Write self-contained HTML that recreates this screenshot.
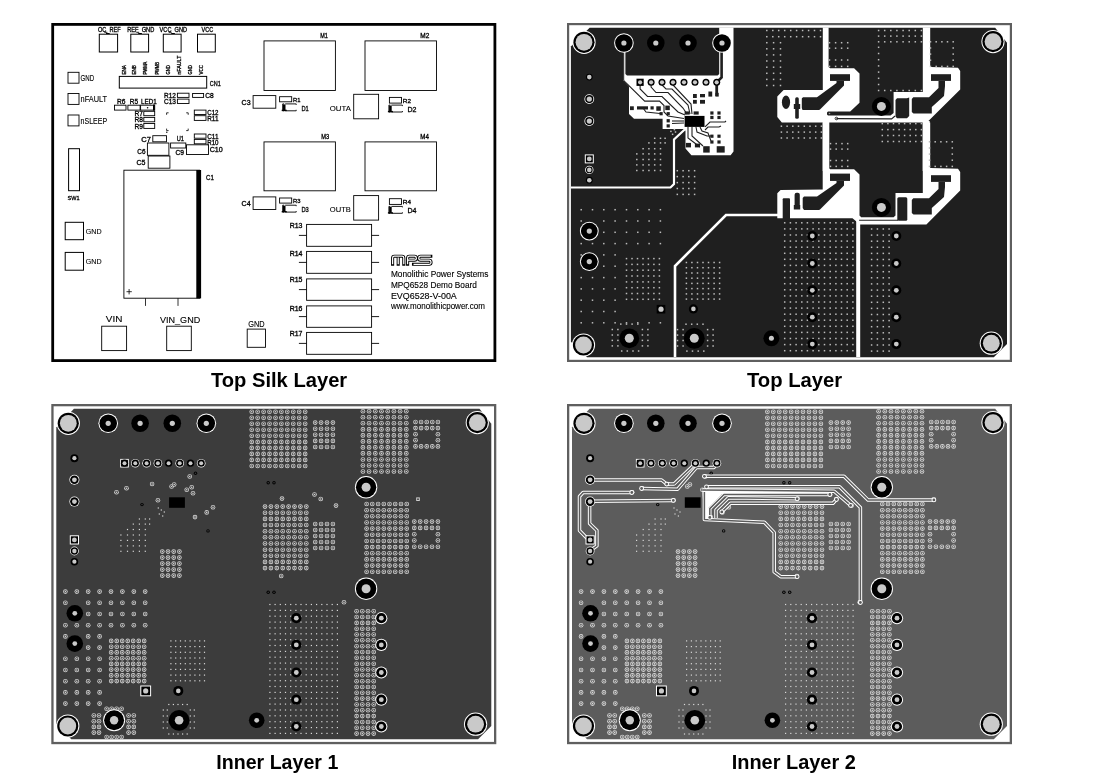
<!DOCTYPE html><html><head><meta charset="utf-8"><style>
html,body{margin:0;padding:0;background:#fff;width:1100px;height:778px;overflow:hidden}
svg{display:block;will-change:transform}
.lab{font-family:"Liberation Sans",sans-serif;font-weight:bold;font-size:20px;fill:#000}
.sk{font-family:"Liberation Sans",sans-serif;fill:#000;stroke:#000;stroke-width:0.2px}
</style></head><body>
<svg width="1100" height="778" viewBox="0 0 1100 778">
<defs>
<g id="rv3c3c3c"><circle r="2.3" fill="#cfcfcf"/><circle r="1.45" fill="#3c3c3c"/><circle r="0.8" fill="#cfcfcf"/></g>
<g id="rv5c5c5c"><circle r="2.3" fill="#d8d8d8"/><circle r="1.45" fill="#5c5c5c"/><circle r="0.8" fill="#d8d8d8"/></g>
<rect id="dv" x="-0.6" y="-0.6" width="1.2" height="1.2" fill="#d8d8d8"/>
<rect id="tv" x="-0.75" y="-0.75" width="1.5" height="1.5" fill="#bcbcbc"/>
</defs>
<text class="lab" x="210.9" y="386.8" textLength="136.3" lengthAdjust="spacingAndGlyphs">Top Silk Layer</text>
<text class="lab" x="746.9" y="386.8" textLength="95.3" lengthAdjust="spacingAndGlyphs">Top Layer</text>
<text class="lab" x="216.3" y="768.7" textLength="122.0" lengthAdjust="spacingAndGlyphs">Inner Layer 1</text>
<text class="lab" x="731.7" y="768.7" textLength="124.1" lengthAdjust="spacingAndGlyphs">Inner Layer 2</text>
<rect x="52.45" y="405.15" width="442.70" height="337.90" fill="#fff" stroke="#5f5f5f" stroke-width="2.3"/><g transform="translate(51.3,404.0)"><polygon points="5.0,23.6 22.6,4.8 428.2,4.8 440.0,19.8 440.0,321.9 426.8,335.2 20,335.2 5.0,319.7" fill="#3c3c3c"/><use href="#rv3c3c3c" x="200.4" y="7.7"/><use href="#rv3c3c3c" x="206.3" y="7.7"/><use href="#rv3c3c3c" x="212.3" y="7.7"/><use href="#rv3c3c3c" x="218.2" y="7.7"/><use href="#rv3c3c3c" x="224.2" y="7.7"/><use href="#rv3c3c3c" x="230.1" y="7.7"/><use href="#rv3c3c3c" x="236.0" y="7.7"/><use href="#rv3c3c3c" x="242.0" y="7.7"/><use href="#rv3c3c3c" x="247.9" y="7.7"/><use href="#rv3c3c3c" x="253.9" y="7.7"/><use href="#rv3c3c3c" x="200.4" y="13.7"/><use href="#rv3c3c3c" x="206.3" y="13.7"/><use href="#rv3c3c3c" x="212.3" y="13.7"/><use href="#rv3c3c3c" x="218.2" y="13.7"/><use href="#rv3c3c3c" x="224.2" y="13.7"/><use href="#rv3c3c3c" x="230.1" y="13.7"/><use href="#rv3c3c3c" x="236.0" y="13.7"/><use href="#rv3c3c3c" x="242.0" y="13.7"/><use href="#rv3c3c3c" x="247.9" y="13.7"/><use href="#rv3c3c3c" x="253.9" y="13.7"/><use href="#rv3c3c3c" x="200.4" y="19.8"/><use href="#rv3c3c3c" x="206.3" y="19.8"/><use href="#rv3c3c3c" x="212.3" y="19.8"/><use href="#rv3c3c3c" x="218.2" y="19.8"/><use href="#rv3c3c3c" x="224.2" y="19.8"/><use href="#rv3c3c3c" x="230.1" y="19.8"/><use href="#rv3c3c3c" x="236.0" y="19.8"/><use href="#rv3c3c3c" x="242.0" y="19.8"/><use href="#rv3c3c3c" x="247.9" y="19.8"/><use href="#rv3c3c3c" x="253.9" y="19.8"/><use href="#rv3c3c3c" x="200.4" y="25.8"/><use href="#rv3c3c3c" x="206.3" y="25.8"/><use href="#rv3c3c3c" x="212.3" y="25.8"/><use href="#rv3c3c3c" x="218.2" y="25.8"/><use href="#rv3c3c3c" x="224.2" y="25.8"/><use href="#rv3c3c3c" x="230.1" y="25.8"/><use href="#rv3c3c3c" x="236.0" y="25.8"/><use href="#rv3c3c3c" x="242.0" y="25.8"/><use href="#rv3c3c3c" x="247.9" y="25.8"/><use href="#rv3c3c3c" x="253.9" y="25.8"/><use href="#rv3c3c3c" x="200.4" y="31.8"/><use href="#rv3c3c3c" x="206.3" y="31.8"/><use href="#rv3c3c3c" x="212.3" y="31.8"/><use href="#rv3c3c3c" x="218.2" y="31.8"/><use href="#rv3c3c3c" x="224.2" y="31.8"/><use href="#rv3c3c3c" x="230.1" y="31.8"/><use href="#rv3c3c3c" x="236.0" y="31.8"/><use href="#rv3c3c3c" x="242.0" y="31.8"/><use href="#rv3c3c3c" x="247.9" y="31.8"/><use href="#rv3c3c3c" x="253.9" y="31.8"/><use href="#rv3c3c3c" x="200.4" y="37.9"/><use href="#rv3c3c3c" x="206.3" y="37.9"/><use href="#rv3c3c3c" x="212.3" y="37.9"/><use href="#rv3c3c3c" x="218.2" y="37.9"/><use href="#rv3c3c3c" x="224.2" y="37.9"/><use href="#rv3c3c3c" x="230.1" y="37.9"/><use href="#rv3c3c3c" x="236.0" y="37.9"/><use href="#rv3c3c3c" x="242.0" y="37.9"/><use href="#rv3c3c3c" x="247.9" y="37.9"/><use href="#rv3c3c3c" x="253.9" y="37.9"/><use href="#rv3c3c3c" x="200.4" y="43.9"/><use href="#rv3c3c3c" x="206.3" y="43.9"/><use href="#rv3c3c3c" x="212.3" y="43.9"/><use href="#rv3c3c3c" x="218.2" y="43.9"/><use href="#rv3c3c3c" x="224.2" y="43.9"/><use href="#rv3c3c3c" x="230.1" y="43.9"/><use href="#rv3c3c3c" x="236.0" y="43.9"/><use href="#rv3c3c3c" x="242.0" y="43.9"/><use href="#rv3c3c3c" x="247.9" y="43.9"/><use href="#rv3c3c3c" x="253.9" y="43.9"/><use href="#rv3c3c3c" x="200.4" y="49.9"/><use href="#rv3c3c3c" x="206.3" y="49.9"/><use href="#rv3c3c3c" x="212.3" y="49.9"/><use href="#rv3c3c3c" x="218.2" y="49.9"/><use href="#rv3c3c3c" x="224.2" y="49.9"/><use href="#rv3c3c3c" x="230.1" y="49.9"/><use href="#rv3c3c3c" x="236.0" y="49.9"/><use href="#rv3c3c3c" x="242.0" y="49.9"/><use href="#rv3c3c3c" x="247.9" y="49.9"/><use href="#rv3c3c3c" x="253.9" y="49.9"/><use href="#rv3c3c3c" x="200.4" y="55.9"/><use href="#rv3c3c3c" x="206.3" y="55.9"/><use href="#rv3c3c3c" x="212.3" y="55.9"/><use href="#rv3c3c3c" x="218.2" y="55.9"/><use href="#rv3c3c3c" x="224.2" y="55.9"/><use href="#rv3c3c3c" x="230.1" y="55.9"/><use href="#rv3c3c3c" x="236.0" y="55.9"/><use href="#rv3c3c3c" x="242.0" y="55.9"/><use href="#rv3c3c3c" x="247.9" y="55.9"/><use href="#rv3c3c3c" x="253.9" y="55.9"/><use href="#rv3c3c3c" x="200.4" y="62.0"/><use href="#rv3c3c3c" x="206.3" y="62.0"/><use href="#rv3c3c3c" x="212.3" y="62.0"/><use href="#rv3c3c3c" x="218.2" y="62.0"/><use href="#rv3c3c3c" x="224.2" y="62.0"/><use href="#rv3c3c3c" x="230.1" y="62.0"/><use href="#rv3c3c3c" x="236.0" y="62.0"/><use href="#rv3c3c3c" x="242.0" y="62.0"/><use href="#rv3c3c3c" x="247.9" y="62.0"/><use href="#rv3c3c3c" x="253.9" y="62.0"/><use href="#rv3c3c3c" x="263.9" y="18.6"/><use href="#rv3c3c3c" x="269.8" y="18.6"/><use href="#rv3c3c3c" x="275.7" y="18.6"/><use href="#rv3c3c3c" x="281.6" y="18.6"/><use href="#rv3c3c3c" x="263.9" y="24.7"/><use href="#rv3c3c3c" x="269.8" y="24.7"/><use href="#rv3c3c3c" x="275.7" y="24.7"/><use href="#rv3c3c3c" x="281.6" y="24.7"/><use href="#rv3c3c3c" x="263.9" y="30.8"/><use href="#rv3c3c3c" x="269.8" y="30.8"/><use href="#rv3c3c3c" x="275.7" y="30.8"/><use href="#rv3c3c3c" x="281.6" y="30.8"/><use href="#rv3c3c3c" x="263.9" y="36.9"/><use href="#rv3c3c3c" x="269.8" y="36.9"/><use href="#rv3c3c3c" x="275.7" y="36.9"/><use href="#rv3c3c3c" x="281.6" y="36.9"/><use href="#rv3c3c3c" x="263.9" y="43.0"/><use href="#rv3c3c3c" x="269.8" y="43.0"/><use href="#rv3c3c3c" x="275.7" y="43.0"/><use href="#rv3c3c3c" x="281.6" y="43.0"/><use href="#rv3c3c3c" x="311.6" y="7.3"/><use href="#rv3c3c3c" x="317.8" y="7.3"/><use href="#rv3c3c3c" x="324.0" y="7.3"/><use href="#rv3c3c3c" x="330.2" y="7.3"/><use href="#rv3c3c3c" x="336.4" y="7.3"/><use href="#rv3c3c3c" x="342.6" y="7.3"/><use href="#rv3c3c3c" x="348.8" y="7.3"/><use href="#rv3c3c3c" x="355.0" y="7.3"/><use href="#rv3c3c3c" x="311.6" y="13.3"/><use href="#rv3c3c3c" x="317.8" y="13.3"/><use href="#rv3c3c3c" x="324.0" y="13.3"/><use href="#rv3c3c3c" x="330.2" y="13.3"/><use href="#rv3c3c3c" x="336.4" y="13.3"/><use href="#rv3c3c3c" x="342.6" y="13.3"/><use href="#rv3c3c3c" x="348.8" y="13.3"/><use href="#rv3c3c3c" x="355.0" y="13.3"/><use href="#rv3c3c3c" x="311.6" y="19.3"/><use href="#rv3c3c3c" x="317.8" y="19.3"/><use href="#rv3c3c3c" x="324.0" y="19.3"/><use href="#rv3c3c3c" x="330.2" y="19.3"/><use href="#rv3c3c3c" x="336.4" y="19.3"/><use href="#rv3c3c3c" x="342.6" y="19.3"/><use href="#rv3c3c3c" x="348.8" y="19.3"/><use href="#rv3c3c3c" x="355.0" y="19.3"/><use href="#rv3c3c3c" x="311.6" y="25.4"/><use href="#rv3c3c3c" x="317.8" y="25.4"/><use href="#rv3c3c3c" x="324.0" y="25.4"/><use href="#rv3c3c3c" x="330.2" y="25.4"/><use href="#rv3c3c3c" x="336.4" y="25.4"/><use href="#rv3c3c3c" x="342.6" y="25.4"/><use href="#rv3c3c3c" x="348.8" y="25.4"/><use href="#rv3c3c3c" x="355.0" y="25.4"/><use href="#rv3c3c3c" x="311.6" y="31.4"/><use href="#rv3c3c3c" x="317.8" y="31.4"/><use href="#rv3c3c3c" x="324.0" y="31.4"/><use href="#rv3c3c3c" x="330.2" y="31.4"/><use href="#rv3c3c3c" x="336.4" y="31.4"/><use href="#rv3c3c3c" x="342.6" y="31.4"/><use href="#rv3c3c3c" x="348.8" y="31.4"/><use href="#rv3c3c3c" x="355.0" y="31.4"/><use href="#rv3c3c3c" x="311.6" y="37.4"/><use href="#rv3c3c3c" x="317.8" y="37.4"/><use href="#rv3c3c3c" x="324.0" y="37.4"/><use href="#rv3c3c3c" x="330.2" y="37.4"/><use href="#rv3c3c3c" x="336.4" y="37.4"/><use href="#rv3c3c3c" x="342.6" y="37.4"/><use href="#rv3c3c3c" x="348.8" y="37.4"/><use href="#rv3c3c3c" x="355.0" y="37.4"/><use href="#rv3c3c3c" x="311.6" y="43.4"/><use href="#rv3c3c3c" x="317.8" y="43.4"/><use href="#rv3c3c3c" x="324.0" y="43.4"/><use href="#rv3c3c3c" x="330.2" y="43.4"/><use href="#rv3c3c3c" x="336.4" y="43.4"/><use href="#rv3c3c3c" x="342.6" y="43.4"/><use href="#rv3c3c3c" x="348.8" y="43.4"/><use href="#rv3c3c3c" x="355.0" y="43.4"/><use href="#rv3c3c3c" x="311.6" y="49.4"/><use href="#rv3c3c3c" x="317.8" y="49.4"/><use href="#rv3c3c3c" x="324.0" y="49.4"/><use href="#rv3c3c3c" x="330.2" y="49.4"/><use href="#rv3c3c3c" x="336.4" y="49.4"/><use href="#rv3c3c3c" x="342.6" y="49.4"/><use href="#rv3c3c3c" x="348.8" y="49.4"/><use href="#rv3c3c3c" x="355.0" y="49.4"/><use href="#rv3c3c3c" x="311.6" y="55.5"/><use href="#rv3c3c3c" x="317.8" y="55.5"/><use href="#rv3c3c3c" x="324.0" y="55.5"/><use href="#rv3c3c3c" x="330.2" y="55.5"/><use href="#rv3c3c3c" x="336.4" y="55.5"/><use href="#rv3c3c3c" x="342.6" y="55.5"/><use href="#rv3c3c3c" x="348.8" y="55.5"/><use href="#rv3c3c3c" x="355.0" y="55.5"/><use href="#rv3c3c3c" x="311.6" y="61.5"/><use href="#rv3c3c3c" x="317.8" y="61.5"/><use href="#rv3c3c3c" x="324.0" y="61.5"/><use href="#rv3c3c3c" x="330.2" y="61.5"/><use href="#rv3c3c3c" x="336.4" y="61.5"/><use href="#rv3c3c3c" x="342.6" y="61.5"/><use href="#rv3c3c3c" x="348.8" y="61.5"/><use href="#rv3c3c3c" x="355.0" y="61.5"/><use href="#rv3c3c3c" x="311.6" y="67.5"/><use href="#rv3c3c3c" x="317.8" y="67.5"/><use href="#rv3c3c3c" x="324.0" y="67.5"/><use href="#rv3c3c3c" x="330.2" y="67.5"/><use href="#rv3c3c3c" x="336.4" y="67.5"/><use href="#rv3c3c3c" x="342.6" y="67.5"/><use href="#rv3c3c3c" x="348.8" y="67.5"/><use href="#rv3c3c3c" x="355.0" y="67.5"/><use href="#rv3c3c3c" x="364.2" y="18.0"/><use href="#rv3c3c3c" x="369.8" y="18.0"/><use href="#rv3c3c3c" x="375.4" y="18.0"/><use href="#rv3c3c3c" x="381.0" y="18.0"/><use href="#rv3c3c3c" x="386.6" y="18.0"/><use href="#rv3c3c3c" x="364.2" y="24.1"/><use href="#rv3c3c3c" x="369.8" y="24.1"/><use href="#rv3c3c3c" x="375.4" y="24.1"/><use href="#rv3c3c3c" x="381.0" y="24.1"/><use href="#rv3c3c3c" x="386.6" y="24.1"/><use href="#rv3c3c3c" x="364.2" y="30.2"/><use href="#rv3c3c3c" x="386.6" y="30.2"/><use href="#rv3c3c3c" x="364.2" y="36.3"/><use href="#rv3c3c3c" x="386.6" y="36.3"/><use href="#rv3c3c3c" x="364.2" y="42.4"/><use href="#rv3c3c3c" x="369.8" y="42.4"/><use href="#rv3c3c3c" x="375.4" y="42.4"/><use href="#rv3c3c3c" x="381.0" y="42.4"/><use href="#rv3c3c3c" x="386.6" y="42.4"/><use href="#rv3c3c3c" x="213.7" y="102.6"/><use href="#rv3c3c3c" x="219.6" y="102.6"/><use href="#rv3c3c3c" x="225.5" y="102.6"/><use href="#rv3c3c3c" x="231.4" y="102.6"/><use href="#rv3c3c3c" x="237.3" y="102.6"/><use href="#rv3c3c3c" x="243.2" y="102.6"/><use href="#rv3c3c3c" x="249.1" y="102.6"/><use href="#rv3c3c3c" x="255.0" y="102.6"/><use href="#rv3c3c3c" x="213.7" y="108.8"/><use href="#rv3c3c3c" x="219.6" y="108.8"/><use href="#rv3c3c3c" x="225.5" y="108.8"/><use href="#rv3c3c3c" x="231.4" y="108.8"/><use href="#rv3c3c3c" x="237.3" y="108.8"/><use href="#rv3c3c3c" x="243.2" y="108.8"/><use href="#rv3c3c3c" x="249.1" y="108.8"/><use href="#rv3c3c3c" x="255.0" y="108.8"/><use href="#rv3c3c3c" x="213.7" y="114.9"/><use href="#rv3c3c3c" x="219.6" y="114.9"/><use href="#rv3c3c3c" x="225.5" y="114.9"/><use href="#rv3c3c3c" x="231.4" y="114.9"/><use href="#rv3c3c3c" x="237.3" y="114.9"/><use href="#rv3c3c3c" x="243.2" y="114.9"/><use href="#rv3c3c3c" x="249.1" y="114.9"/><use href="#rv3c3c3c" x="255.0" y="114.9"/><use href="#rv3c3c3c" x="213.7" y="121.0"/><use href="#rv3c3c3c" x="219.6" y="121.0"/><use href="#rv3c3c3c" x="225.5" y="121.0"/><use href="#rv3c3c3c" x="231.4" y="121.0"/><use href="#rv3c3c3c" x="237.3" y="121.0"/><use href="#rv3c3c3c" x="243.2" y="121.0"/><use href="#rv3c3c3c" x="249.1" y="121.0"/><use href="#rv3c3c3c" x="255.0" y="121.0"/><use href="#rv3c3c3c" x="213.7" y="127.2"/><use href="#rv3c3c3c" x="219.6" y="127.2"/><use href="#rv3c3c3c" x="225.5" y="127.2"/><use href="#rv3c3c3c" x="231.4" y="127.2"/><use href="#rv3c3c3c" x="237.3" y="127.2"/><use href="#rv3c3c3c" x="243.2" y="127.2"/><use href="#rv3c3c3c" x="249.1" y="127.2"/><use href="#rv3c3c3c" x="255.0" y="127.2"/><use href="#rv3c3c3c" x="213.7" y="133.3"/><use href="#rv3c3c3c" x="219.6" y="133.3"/><use href="#rv3c3c3c" x="225.5" y="133.3"/><use href="#rv3c3c3c" x="231.4" y="133.3"/><use href="#rv3c3c3c" x="237.3" y="133.3"/><use href="#rv3c3c3c" x="243.2" y="133.3"/><use href="#rv3c3c3c" x="249.1" y="133.3"/><use href="#rv3c3c3c" x="255.0" y="133.3"/><use href="#rv3c3c3c" x="213.7" y="139.5"/><use href="#rv3c3c3c" x="219.6" y="139.5"/><use href="#rv3c3c3c" x="225.5" y="139.5"/><use href="#rv3c3c3c" x="231.4" y="139.5"/><use href="#rv3c3c3c" x="237.3" y="139.5"/><use href="#rv3c3c3c" x="243.2" y="139.5"/><use href="#rv3c3c3c" x="249.1" y="139.5"/><use href="#rv3c3c3c" x="255.0" y="139.5"/><use href="#rv3c3c3c" x="213.7" y="145.7"/><use href="#rv3c3c3c" x="219.6" y="145.7"/><use href="#rv3c3c3c" x="225.5" y="145.7"/><use href="#rv3c3c3c" x="231.4" y="145.7"/><use href="#rv3c3c3c" x="237.3" y="145.7"/><use href="#rv3c3c3c" x="243.2" y="145.7"/><use href="#rv3c3c3c" x="249.1" y="145.7"/><use href="#rv3c3c3c" x="255.0" y="145.7"/><use href="#rv3c3c3c" x="213.7" y="151.8"/><use href="#rv3c3c3c" x="219.6" y="151.8"/><use href="#rv3c3c3c" x="225.5" y="151.8"/><use href="#rv3c3c3c" x="231.4" y="151.8"/><use href="#rv3c3c3c" x="237.3" y="151.8"/><use href="#rv3c3c3c" x="243.2" y="151.8"/><use href="#rv3c3c3c" x="249.1" y="151.8"/><use href="#rv3c3c3c" x="255.0" y="151.8"/><use href="#rv3c3c3c" x="213.7" y="157.9"/><use href="#rv3c3c3c" x="219.6" y="157.9"/><use href="#rv3c3c3c" x="225.5" y="157.9"/><use href="#rv3c3c3c" x="231.4" y="157.9"/><use href="#rv3c3c3c" x="237.3" y="157.9"/><use href="#rv3c3c3c" x="243.2" y="157.9"/><use href="#rv3c3c3c" x="249.1" y="157.9"/><use href="#rv3c3c3c" x="255.0" y="157.9"/><use href="#rv3c3c3c" x="213.7" y="164.1"/><use href="#rv3c3c3c" x="219.6" y="164.1"/><use href="#rv3c3c3c" x="225.5" y="164.1"/><use href="#rv3c3c3c" x="231.4" y="164.1"/><use href="#rv3c3c3c" x="237.3" y="164.1"/><use href="#rv3c3c3c" x="243.2" y="164.1"/><use href="#rv3c3c3c" x="249.1" y="164.1"/><use href="#rv3c3c3c" x="255.0" y="164.1"/><use href="#rv3c3c3c" x="263.9" y="120.0"/><use href="#rv3c3c3c" x="269.8" y="120.0"/><use href="#rv3c3c3c" x="275.7" y="120.0"/><use href="#rv3c3c3c" x="281.6" y="120.0"/><use href="#rv3c3c3c" x="263.9" y="126.0"/><use href="#rv3c3c3c" x="269.8" y="126.0"/><use href="#rv3c3c3c" x="275.7" y="126.0"/><use href="#rv3c3c3c" x="281.6" y="126.0"/><use href="#rv3c3c3c" x="263.9" y="132.0"/><use href="#rv3c3c3c" x="269.8" y="132.0"/><use href="#rv3c3c3c" x="275.7" y="132.0"/><use href="#rv3c3c3c" x="281.6" y="132.0"/><use href="#rv3c3c3c" x="263.9" y="138.0"/><use href="#rv3c3c3c" x="269.8" y="138.0"/><use href="#rv3c3c3c" x="275.7" y="138.0"/><use href="#rv3c3c3c" x="281.6" y="138.0"/><use href="#rv3c3c3c" x="263.9" y="144.0"/><use href="#rv3c3c3c" x="269.8" y="144.0"/><use href="#rv3c3c3c" x="275.7" y="144.0"/><use href="#rv3c3c3c" x="281.6" y="144.0"/><use href="#rv3c3c3c" x="315.3" y="100.0"/><use href="#rv3c3c3c" x="321.0" y="100.0"/><use href="#rv3c3c3c" x="326.8" y="100.0"/><use href="#rv3c3c3c" x="332.5" y="100.0"/><use href="#rv3c3c3c" x="338.2" y="100.0"/><use href="#rv3c3c3c" x="343.9" y="100.0"/><use href="#rv3c3c3c" x="349.7" y="100.0"/><use href="#rv3c3c3c" x="355.4" y="100.0"/><use href="#rv3c3c3c" x="315.3" y="106.2"/><use href="#rv3c3c3c" x="321.0" y="106.2"/><use href="#rv3c3c3c" x="326.8" y="106.2"/><use href="#rv3c3c3c" x="332.5" y="106.2"/><use href="#rv3c3c3c" x="338.2" y="106.2"/><use href="#rv3c3c3c" x="343.9" y="106.2"/><use href="#rv3c3c3c" x="349.7" y="106.2"/><use href="#rv3c3c3c" x="355.4" y="106.2"/><use href="#rv3c3c3c" x="315.3" y="112.3"/><use href="#rv3c3c3c" x="321.0" y="112.3"/><use href="#rv3c3c3c" x="326.8" y="112.3"/><use href="#rv3c3c3c" x="332.5" y="112.3"/><use href="#rv3c3c3c" x="338.2" y="112.3"/><use href="#rv3c3c3c" x="343.9" y="112.3"/><use href="#rv3c3c3c" x="349.7" y="112.3"/><use href="#rv3c3c3c" x="355.4" y="112.3"/><use href="#rv3c3c3c" x="315.3" y="118.5"/><use href="#rv3c3c3c" x="321.0" y="118.5"/><use href="#rv3c3c3c" x="326.8" y="118.5"/><use href="#rv3c3c3c" x="332.5" y="118.5"/><use href="#rv3c3c3c" x="338.2" y="118.5"/><use href="#rv3c3c3c" x="343.9" y="118.5"/><use href="#rv3c3c3c" x="349.7" y="118.5"/><use href="#rv3c3c3c" x="355.4" y="118.5"/><use href="#rv3c3c3c" x="315.3" y="124.6"/><use href="#rv3c3c3c" x="321.0" y="124.6"/><use href="#rv3c3c3c" x="326.8" y="124.6"/><use href="#rv3c3c3c" x="332.5" y="124.6"/><use href="#rv3c3c3c" x="338.2" y="124.6"/><use href="#rv3c3c3c" x="343.9" y="124.6"/><use href="#rv3c3c3c" x="349.7" y="124.6"/><use href="#rv3c3c3c" x="355.4" y="124.6"/><use href="#rv3c3c3c" x="315.3" y="130.8"/><use href="#rv3c3c3c" x="321.0" y="130.8"/><use href="#rv3c3c3c" x="326.8" y="130.8"/><use href="#rv3c3c3c" x="332.5" y="130.8"/><use href="#rv3c3c3c" x="338.2" y="130.8"/><use href="#rv3c3c3c" x="343.9" y="130.8"/><use href="#rv3c3c3c" x="349.7" y="130.8"/><use href="#rv3c3c3c" x="355.4" y="130.8"/><use href="#rv3c3c3c" x="315.3" y="137.0"/><use href="#rv3c3c3c" x="321.0" y="137.0"/><use href="#rv3c3c3c" x="326.8" y="137.0"/><use href="#rv3c3c3c" x="332.5" y="137.0"/><use href="#rv3c3c3c" x="338.2" y="137.0"/><use href="#rv3c3c3c" x="343.9" y="137.0"/><use href="#rv3c3c3c" x="349.7" y="137.0"/><use href="#rv3c3c3c" x="355.4" y="137.0"/><use href="#rv3c3c3c" x="315.3" y="143.1"/><use href="#rv3c3c3c" x="321.0" y="143.1"/><use href="#rv3c3c3c" x="326.8" y="143.1"/><use href="#rv3c3c3c" x="332.5" y="143.1"/><use href="#rv3c3c3c" x="338.2" y="143.1"/><use href="#rv3c3c3c" x="343.9" y="143.1"/><use href="#rv3c3c3c" x="349.7" y="143.1"/><use href="#rv3c3c3c" x="355.4" y="143.1"/><use href="#rv3c3c3c" x="315.3" y="149.3"/><use href="#rv3c3c3c" x="321.0" y="149.3"/><use href="#rv3c3c3c" x="326.8" y="149.3"/><use href="#rv3c3c3c" x="332.5" y="149.3"/><use href="#rv3c3c3c" x="338.2" y="149.3"/><use href="#rv3c3c3c" x="343.9" y="149.3"/><use href="#rv3c3c3c" x="349.7" y="149.3"/><use href="#rv3c3c3c" x="355.4" y="149.3"/><use href="#rv3c3c3c" x="315.3" y="155.4"/><use href="#rv3c3c3c" x="321.0" y="155.4"/><use href="#rv3c3c3c" x="326.8" y="155.4"/><use href="#rv3c3c3c" x="332.5" y="155.4"/><use href="#rv3c3c3c" x="338.2" y="155.4"/><use href="#rv3c3c3c" x="343.9" y="155.4"/><use href="#rv3c3c3c" x="349.7" y="155.4"/><use href="#rv3c3c3c" x="355.4" y="155.4"/><use href="#rv3c3c3c" x="315.3" y="161.6"/><use href="#rv3c3c3c" x="321.0" y="161.6"/><use href="#rv3c3c3c" x="326.8" y="161.6"/><use href="#rv3c3c3c" x="332.5" y="161.6"/><use href="#rv3c3c3c" x="338.2" y="161.6"/><use href="#rv3c3c3c" x="343.9" y="161.6"/><use href="#rv3c3c3c" x="349.7" y="161.6"/><use href="#rv3c3c3c" x="355.4" y="161.6"/><use href="#rv3c3c3c" x="315.3" y="167.8"/><use href="#rv3c3c3c" x="321.0" y="167.8"/><use href="#rv3c3c3c" x="326.8" y="167.8"/><use href="#rv3c3c3c" x="332.5" y="167.8"/><use href="#rv3c3c3c" x="338.2" y="167.8"/><use href="#rv3c3c3c" x="343.9" y="167.8"/><use href="#rv3c3c3c" x="349.7" y="167.8"/><use href="#rv3c3c3c" x="355.4" y="167.8"/><use href="#rv3c3c3c" x="363.0" y="117.6"/><use href="#rv3c3c3c" x="368.9" y="117.6"/><use href="#rv3c3c3c" x="374.8" y="117.6"/><use href="#rv3c3c3c" x="380.7" y="117.6"/><use href="#rv3c3c3c" x="386.6" y="117.6"/><use href="#rv3c3c3c" x="363.0" y="123.9"/><use href="#rv3c3c3c" x="368.9" y="123.9"/><use href="#rv3c3c3c" x="374.8" y="123.9"/><use href="#rv3c3c3c" x="380.7" y="123.9"/><use href="#rv3c3c3c" x="386.6" y="123.9"/><use href="#rv3c3c3c" x="363.0" y="130.2"/><use href="#rv3c3c3c" x="386.6" y="130.2"/><use href="#rv3c3c3c" x="363.0" y="136.5"/><use href="#rv3c3c3c" x="386.6" y="136.5"/><use href="#rv3c3c3c" x="363.0" y="142.8"/><use href="#rv3c3c3c" x="368.9" y="142.8"/><use href="#rv3c3c3c" x="374.8" y="142.8"/><use href="#rv3c3c3c" x="380.7" y="142.8"/><use href="#rv3c3c3c" x="386.6" y="142.8"/><use href="#rv3c3c3c" x="14.1" y="187.6"/><use href="#rv3c3c3c" x="25.5" y="187.6"/><use href="#rv3c3c3c" x="36.9" y="187.6"/><use href="#rv3c3c3c" x="48.3" y="187.6"/><use href="#rv3c3c3c" x="59.7" y="187.6"/><use href="#rv3c3c3c" x="71.1" y="187.6"/><use href="#rv3c3c3c" x="82.5" y="187.6"/><use href="#rv3c3c3c" x="93.9" y="187.6"/><use href="#rv3c3c3c" x="14.1" y="198.8"/><use href="#rv3c3c3c" x="36.9" y="198.8"/><use href="#rv3c3c3c" x="48.3" y="198.8"/><use href="#rv3c3c3c" x="59.7" y="198.8"/><use href="#rv3c3c3c" x="71.1" y="198.8"/><use href="#rv3c3c3c" x="82.5" y="198.8"/><use href="#rv3c3c3c" x="93.9" y="198.8"/><use href="#rv3c3c3c" x="36.9" y="210.0"/><use href="#rv3c3c3c" x="48.3" y="210.0"/><use href="#rv3c3c3c" x="59.7" y="210.0"/><use href="#rv3c3c3c" x="71.1" y="210.0"/><use href="#rv3c3c3c" x="82.5" y="210.0"/><use href="#rv3c3c3c" x="93.9" y="210.0"/><use href="#rv3c3c3c" x="14.1" y="221.2"/><use href="#rv3c3c3c" x="25.5" y="221.2"/><use href="#rv3c3c3c" x="36.9" y="221.2"/><use href="#rv3c3c3c" x="48.3" y="221.2"/><use href="#rv3c3c3c" x="59.7" y="221.2"/><use href="#rv3c3c3c" x="71.1" y="221.2"/><use href="#rv3c3c3c" x="82.5" y="221.2"/><use href="#rv3c3c3c" x="93.9" y="221.2"/><use href="#rv3c3c3c" x="14.1" y="232.4"/><use href="#rv3c3c3c" x="36.9" y="232.4"/><use href="#rv3c3c3c" x="48.3" y="232.4"/><use href="#rv3c3c3c" x="36.9" y="243.6"/><use href="#rv3c3c3c" x="48.3" y="243.6"/><use href="#rv3c3c3c" x="14.1" y="254.8"/><use href="#rv3c3c3c" x="25.5" y="254.8"/><use href="#rv3c3c3c" x="36.9" y="254.8"/><use href="#rv3c3c3c" x="48.3" y="254.8"/><use href="#rv3c3c3c" x="14.1" y="266.0"/><use href="#rv3c3c3c" x="25.5" y="266.0"/><use href="#rv3c3c3c" x="36.9" y="266.0"/><use href="#rv3c3c3c" x="48.3" y="266.0"/><use href="#rv3c3c3c" x="14.1" y="277.2"/><use href="#rv3c3c3c" x="25.5" y="277.2"/><use href="#rv3c3c3c" x="36.9" y="277.2"/><use href="#rv3c3c3c" x="48.3" y="277.2"/><use href="#rv3c3c3c" x="14.1" y="288.4"/><use href="#rv3c3c3c" x="25.5" y="288.4"/><use href="#rv3c3c3c" x="36.9" y="288.4"/><use href="#rv3c3c3c" x="48.3" y="288.4"/><use href="#rv3c3c3c" x="14.1" y="299.6"/><use href="#rv3c3c3c" x="25.5" y="299.6"/><use href="#rv3c3c3c" x="36.9" y="299.6"/><use href="#rv3c3c3c" x="48.3" y="299.6"/><use href="#rv3c3c3c" x="59.9" y="236.9"/><use href="#rv3c3c3c" x="65.4" y="236.9"/><use href="#rv3c3c3c" x="70.9" y="236.9"/><use href="#rv3c3c3c" x="76.4" y="236.9"/><use href="#rv3c3c3c" x="81.9" y="236.9"/><use href="#rv3c3c3c" x="87.4" y="236.9"/><use href="#rv3c3c3c" x="92.9" y="236.9"/><use href="#rv3c3c3c" x="59.9" y="242.7"/><use href="#rv3c3c3c" x="65.4" y="242.7"/><use href="#rv3c3c3c" x="70.9" y="242.7"/><use href="#rv3c3c3c" x="76.4" y="242.7"/><use href="#rv3c3c3c" x="81.9" y="242.7"/><use href="#rv3c3c3c" x="87.4" y="242.7"/><use href="#rv3c3c3c" x="92.9" y="242.7"/><use href="#rv3c3c3c" x="59.9" y="248.4"/><use href="#rv3c3c3c" x="65.4" y="248.4"/><use href="#rv3c3c3c" x="70.9" y="248.4"/><use href="#rv3c3c3c" x="76.4" y="248.4"/><use href="#rv3c3c3c" x="81.9" y="248.4"/><use href="#rv3c3c3c" x="87.4" y="248.4"/><use href="#rv3c3c3c" x="92.9" y="248.4"/><use href="#rv3c3c3c" x="59.9" y="254.2"/><use href="#rv3c3c3c" x="65.4" y="254.2"/><use href="#rv3c3c3c" x="70.9" y="254.2"/><use href="#rv3c3c3c" x="76.4" y="254.2"/><use href="#rv3c3c3c" x="81.9" y="254.2"/><use href="#rv3c3c3c" x="87.4" y="254.2"/><use href="#rv3c3c3c" x="92.9" y="254.2"/><use href="#rv3c3c3c" x="59.9" y="259.9"/><use href="#rv3c3c3c" x="65.4" y="259.9"/><use href="#rv3c3c3c" x="70.9" y="259.9"/><use href="#rv3c3c3c" x="76.4" y="259.9"/><use href="#rv3c3c3c" x="81.9" y="259.9"/><use href="#rv3c3c3c" x="87.4" y="259.9"/><use href="#rv3c3c3c" x="92.9" y="259.9"/><use href="#rv3c3c3c" x="59.9" y="265.6"/><use href="#rv3c3c3c" x="65.4" y="265.6"/><use href="#rv3c3c3c" x="70.9" y="265.6"/><use href="#rv3c3c3c" x="76.4" y="265.6"/><use href="#rv3c3c3c" x="81.9" y="265.6"/><use href="#rv3c3c3c" x="87.4" y="265.6"/><use href="#rv3c3c3c" x="92.9" y="265.6"/><use href="#rv3c3c3c" x="59.9" y="271.4"/><use href="#rv3c3c3c" x="65.4" y="271.4"/><use href="#rv3c3c3c" x="70.9" y="271.4"/><use href="#rv3c3c3c" x="76.4" y="271.4"/><use href="#rv3c3c3c" x="81.9" y="271.4"/><use href="#rv3c3c3c" x="87.4" y="271.4"/><use href="#rv3c3c3c" x="92.9" y="271.4"/><use href="#rv3c3c3c" x="59.9" y="277.1"/><use href="#rv3c3c3c" x="65.4" y="277.1"/><use href="#rv3c3c3c" x="70.9" y="277.1"/><use href="#rv3c3c3c" x="76.4" y="277.1"/><use href="#rv3c3c3c" x="81.9" y="277.1"/><use href="#rv3c3c3c" x="87.4" y="277.1"/><use href="#rv3c3c3c" x="92.9" y="277.1"/><use href="#rv3c3c3c" x="111.0" y="147.6"/><use href="#rv3c3c3c" x="116.7" y="147.6"/><use href="#rv3c3c3c" x="122.4" y="147.6"/><use href="#rv3c3c3c" x="128.1" y="147.6"/><use href="#rv3c3c3c" x="111.0" y="153.6"/><use href="#rv3c3c3c" x="116.7" y="153.6"/><use href="#rv3c3c3c" x="122.4" y="153.6"/><use href="#rv3c3c3c" x="128.1" y="153.6"/><use href="#rv3c3c3c" x="111.0" y="159.6"/><use href="#rv3c3c3c" x="116.7" y="159.6"/><use href="#rv3c3c3c" x="122.4" y="159.6"/><use href="#rv3c3c3c" x="128.1" y="159.6"/><use href="#rv3c3c3c" x="111.0" y="165.6"/><use href="#rv3c3c3c" x="116.7" y="165.6"/><use href="#rv3c3c3c" x="122.4" y="165.6"/><use href="#rv3c3c3c" x="128.1" y="165.6"/><use href="#rv3c3c3c" x="111.0" y="171.6"/><use href="#rv3c3c3c" x="116.7" y="171.6"/><use href="#rv3c3c3c" x="122.4" y="171.6"/><use href="#rv3c3c3c" x="128.1" y="171.6"/><use href="#rv3c3c3c" x="55.3" y="304.7"/><use href="#rv3c3c3c" x="60.3" y="304.7"/><use href="#rv3c3c3c" x="65.3" y="304.7"/><use href="#rv3c3c3c" x="70.3" y="304.7"/><use href="#rv3c3c3c" x="55.3" y="333.0"/><use href="#rv3c3c3c" x="60.3" y="333.0"/><use href="#rv3c3c3c" x="65.3" y="333.0"/><use href="#rv3c3c3c" x="70.3" y="333.0"/><use href="#rv3c3c3c" x="42.5" y="311.5"/><use href="#rv3c3c3c" x="47.7" y="311.5"/><use href="#rv3c3c3c" x="42.5" y="317.2"/><use href="#rv3c3c3c" x="47.7" y="317.2"/><use href="#rv3c3c3c" x="42.5" y="322.9"/><use href="#rv3c3c3c" x="47.7" y="322.9"/><use href="#rv3c3c3c" x="42.5" y="328.6"/><use href="#rv3c3c3c" x="47.7" y="328.6"/><use href="#rv3c3c3c" x="77.3" y="311.5"/><use href="#rv3c3c3c" x="82.5" y="311.5"/><use href="#rv3c3c3c" x="77.3" y="317.2"/><use href="#rv3c3c3c" x="82.5" y="317.2"/><use href="#rv3c3c3c" x="77.3" y="322.9"/><use href="#rv3c3c3c" x="82.5" y="322.9"/><use href="#rv3c3c3c" x="77.3" y="328.6"/><use href="#rv3c3c3c" x="82.5" y="328.6"/><use href="#rv3c3c3c" x="305.3" y="207.2"/><use href="#rv3c3c3c" x="311.0" y="207.2"/><use href="#rv3c3c3c" x="316.7" y="207.2"/><use href="#rv3c3c3c" x="322.4" y="207.2"/><use href="#rv3c3c3c" x="305.3" y="213.0"/><use href="#rv3c3c3c" x="311.0" y="213.0"/><use href="#rv3c3c3c" x="316.7" y="213.0"/><use href="#rv3c3c3c" x="322.4" y="213.0"/><use href="#rv3c3c3c" x="305.3" y="218.9"/><use href="#rv3c3c3c" x="311.0" y="218.9"/><use href="#rv3c3c3c" x="316.7" y="218.9"/><use href="#rv3c3c3c" x="322.4" y="218.9"/><use href="#rv3c3c3c" x="305.3" y="224.7"/><use href="#rv3c3c3c" x="311.0" y="224.7"/><use href="#rv3c3c3c" x="316.7" y="224.7"/><use href="#rv3c3c3c" x="322.4" y="224.7"/><use href="#rv3c3c3c" x="305.3" y="230.5"/><use href="#rv3c3c3c" x="311.0" y="230.5"/><use href="#rv3c3c3c" x="316.7" y="230.5"/><use href="#rv3c3c3c" x="322.4" y="230.5"/><use href="#rv3c3c3c" x="305.3" y="236.3"/><use href="#rv3c3c3c" x="311.0" y="236.3"/><use href="#rv3c3c3c" x="316.7" y="236.3"/><use href="#rv3c3c3c" x="322.4" y="236.3"/><use href="#rv3c3c3c" x="305.3" y="242.2"/><use href="#rv3c3c3c" x="311.0" y="242.2"/><use href="#rv3c3c3c" x="316.7" y="242.2"/><use href="#rv3c3c3c" x="322.4" y="242.2"/><use href="#rv3c3c3c" x="305.3" y="248.0"/><use href="#rv3c3c3c" x="311.0" y="248.0"/><use href="#rv3c3c3c" x="316.7" y="248.0"/><use href="#rv3c3c3c" x="322.4" y="248.0"/><use href="#rv3c3c3c" x="305.3" y="253.8"/><use href="#rv3c3c3c" x="311.0" y="253.8"/><use href="#rv3c3c3c" x="316.7" y="253.8"/><use href="#rv3c3c3c" x="322.4" y="253.8"/><use href="#rv3c3c3c" x="305.3" y="259.7"/><use href="#rv3c3c3c" x="311.0" y="259.7"/><use href="#rv3c3c3c" x="316.7" y="259.7"/><use href="#rv3c3c3c" x="322.4" y="259.7"/><use href="#rv3c3c3c" x="305.3" y="265.5"/><use href="#rv3c3c3c" x="311.0" y="265.5"/><use href="#rv3c3c3c" x="316.7" y="265.5"/><use href="#rv3c3c3c" x="322.4" y="265.5"/><use href="#rv3c3c3c" x="305.3" y="271.3"/><use href="#rv3c3c3c" x="311.0" y="271.3"/><use href="#rv3c3c3c" x="316.7" y="271.3"/><use href="#rv3c3c3c" x="322.4" y="271.3"/><use href="#rv3c3c3c" x="305.3" y="277.2"/><use href="#rv3c3c3c" x="311.0" y="277.2"/><use href="#rv3c3c3c" x="316.7" y="277.2"/><use href="#rv3c3c3c" x="322.4" y="277.2"/><use href="#rv3c3c3c" x="305.3" y="283.0"/><use href="#rv3c3c3c" x="311.0" y="283.0"/><use href="#rv3c3c3c" x="316.7" y="283.0"/><use href="#rv3c3c3c" x="322.4" y="283.0"/><use href="#rv3c3c3c" x="305.3" y="288.8"/><use href="#rv3c3c3c" x="311.0" y="288.8"/><use href="#rv3c3c3c" x="316.7" y="288.8"/><use href="#rv3c3c3c" x="322.4" y="288.8"/><use href="#rv3c3c3c" x="305.3" y="294.6"/><use href="#rv3c3c3c" x="311.0" y="294.6"/><use href="#rv3c3c3c" x="316.7" y="294.6"/><use href="#rv3c3c3c" x="322.4" y="294.6"/><use href="#rv3c3c3c" x="305.3" y="300.5"/><use href="#rv3c3c3c" x="311.0" y="300.5"/><use href="#rv3c3c3c" x="316.7" y="300.5"/><use href="#rv3c3c3c" x="322.4" y="300.5"/><use href="#rv3c3c3c" x="305.3" y="306.3"/><use href="#rv3c3c3c" x="311.0" y="306.3"/><use href="#rv3c3c3c" x="316.7" y="306.3"/><use href="#rv3c3c3c" x="322.4" y="306.3"/><use href="#rv3c3c3c" x="305.3" y="312.1"/><use href="#rv3c3c3c" x="311.0" y="312.1"/><use href="#rv3c3c3c" x="316.7" y="312.1"/><use href="#rv3c3c3c" x="322.4" y="312.1"/><use href="#rv3c3c3c" x="305.3" y="318.0"/><use href="#rv3c3c3c" x="311.0" y="318.0"/><use href="#rv3c3c3c" x="316.7" y="318.0"/><use href="#rv3c3c3c" x="322.4" y="318.0"/><use href="#rv3c3c3c" x="305.3" y="323.8"/><use href="#rv3c3c3c" x="311.0" y="323.8"/><use href="#rv3c3c3c" x="316.7" y="323.8"/><use href="#rv3c3c3c" x="322.4" y="323.8"/><use href="#rv3c3c3c" x="305.3" y="329.6"/><use href="#rv3c3c3c" x="311.0" y="329.6"/><use href="#rv3c3c3c" x="316.7" y="329.6"/><use href="#rv3c3c3c" x="322.4" y="329.6"/><use href="#rv3c3c3c" x="65.2" y="88.3"/><use href="#rv3c3c3c" x="75.2" y="84.3"/><use href="#rv3c3c3c" x="100.8" y="80.0"/><use href="#rv3c3c3c" x="120.3" y="82.5"/><use href="#rv3c3c3c" x="122.9" y="80.5"/><use href="#rv3c3c3c" x="138.4" y="72.5"/><use href="#rv3c3c3c" x="140.4" y="83.3"/><use href="#rv3c3c3c" x="135.4" y="85.8"/><use href="#rv3c3c3c" x="141.7" y="89.3"/><use href="#rv3c3c3c" x="106.6" y="96.3"/><use href="#rv3c3c3c" x="161.7" y="103.3"/><use href="#rv3c3c3c" x="155.4" y="108.4"/><use href="#rv3c3c3c" x="143.7" y="113.1"/><use href="#rv3c3c3c" x="230.7" y="94.6"/><use href="#rv3c3c3c" x="229.9" y="172.0"/><use href="#rv3c3c3c" x="263.2" y="90.5"/><use href="#rv3c3c3c" x="269.4" y="95.0"/><use href="#rv3c3c3c" x="284.7" y="101.6"/><use href="#rv3c3c3c" x="292.7" y="198.2"/><circle cx="144.2" cy="69.2" r="1.70" fill="#000" /><circle cx="144.2" cy="69.2" r="0.80" fill="#3c3c3c" /><circle cx="90.7" cy="100.6" r="1.70" fill="#000" /><circle cx="90.7" cy="100.6" r="0.80" fill="#3c3c3c" /><circle cx="156.7" cy="126.9" r="1.70" fill="#000" /><circle cx="156.7" cy="126.9" r="0.80" fill="#3c3c3c" /><circle cx="216.9" cy="78.8" r="1.70" fill="#000" /><circle cx="216.9" cy="78.8" r="0.80" fill="#3c3c3c" /><circle cx="222.7" cy="78.8" r="1.70" fill="#000" /><circle cx="222.7" cy="78.8" r="0.80" fill="#3c3c3c" /><circle cx="216.9" cy="188.2" r="1.70" fill="#000" /><circle cx="216.9" cy="188.2" r="0.80" fill="#3c3c3c" /><circle cx="222.7" cy="188.2" r="1.70" fill="#000" /><circle cx="222.7" cy="188.2" r="0.80" fill="#3c3c3c" /><rect x="364.9" y="93.4" width="3.6" height="3.6" fill="#cfcfcf"/><rect x="365.9" y="94.4" width="1.6" height="1.6" fill="#3c3c3c"/><use href="#dv" x="218.6" y="200.5"/><use href="#dv" x="223.8" y="200.5"/><use href="#dv" x="229.0" y="200.5"/><use href="#dv" x="234.2" y="200.5"/><use href="#dv" x="239.4" y="200.5"/><use href="#dv" x="244.6" y="200.5"/><use href="#dv" x="249.7" y="200.5"/><use href="#dv" x="254.9" y="200.5"/><use href="#dv" x="260.1" y="200.5"/><use href="#dv" x="265.3" y="200.5"/><use href="#dv" x="270.5" y="200.5"/><use href="#dv" x="275.7" y="200.5"/><use href="#dv" x="280.9" y="200.5"/><use href="#dv" x="286.1" y="200.5"/><use href="#dv" x="218.6" y="206.4"/><use href="#dv" x="223.8" y="206.4"/><use href="#dv" x="229.0" y="206.4"/><use href="#dv" x="234.2" y="206.4"/><use href="#dv" x="239.4" y="206.4"/><use href="#dv" x="244.6" y="206.4"/><use href="#dv" x="249.7" y="206.4"/><use href="#dv" x="254.9" y="206.4"/><use href="#dv" x="260.1" y="206.4"/><use href="#dv" x="265.3" y="206.4"/><use href="#dv" x="270.5" y="206.4"/><use href="#dv" x="275.7" y="206.4"/><use href="#dv" x="280.9" y="206.4"/><use href="#dv" x="286.1" y="206.4"/><use href="#dv" x="218.6" y="212.2"/><use href="#dv" x="223.8" y="212.2"/><use href="#dv" x="229.0" y="212.2"/><use href="#dv" x="234.2" y="212.2"/><use href="#dv" x="239.4" y="212.2"/><use href="#dv" x="244.6" y="212.2"/><use href="#dv" x="249.7" y="212.2"/><use href="#dv" x="254.9" y="212.2"/><use href="#dv" x="260.1" y="212.2"/><use href="#dv" x="265.3" y="212.2"/><use href="#dv" x="270.5" y="212.2"/><use href="#dv" x="275.7" y="212.2"/><use href="#dv" x="280.9" y="212.2"/><use href="#dv" x="286.1" y="212.2"/><use href="#dv" x="218.6" y="218.1"/><use href="#dv" x="223.8" y="218.1"/><use href="#dv" x="229.0" y="218.1"/><use href="#dv" x="234.2" y="218.1"/><use href="#dv" x="239.4" y="218.1"/><use href="#dv" x="244.6" y="218.1"/><use href="#dv" x="249.7" y="218.1"/><use href="#dv" x="254.9" y="218.1"/><use href="#dv" x="260.1" y="218.1"/><use href="#dv" x="265.3" y="218.1"/><use href="#dv" x="270.5" y="218.1"/><use href="#dv" x="275.7" y="218.1"/><use href="#dv" x="280.9" y="218.1"/><use href="#dv" x="286.1" y="218.1"/><use href="#dv" x="218.6" y="223.9"/><use href="#dv" x="223.8" y="223.9"/><use href="#dv" x="229.0" y="223.9"/><use href="#dv" x="234.2" y="223.9"/><use href="#dv" x="239.4" y="223.9"/><use href="#dv" x="244.6" y="223.9"/><use href="#dv" x="249.7" y="223.9"/><use href="#dv" x="254.9" y="223.9"/><use href="#dv" x="260.1" y="223.9"/><use href="#dv" x="265.3" y="223.9"/><use href="#dv" x="270.5" y="223.9"/><use href="#dv" x="275.7" y="223.9"/><use href="#dv" x="280.9" y="223.9"/><use href="#dv" x="286.1" y="223.9"/><use href="#dv" x="218.6" y="229.8"/><use href="#dv" x="223.8" y="229.8"/><use href="#dv" x="229.0" y="229.8"/><use href="#dv" x="234.2" y="229.8"/><use href="#dv" x="239.4" y="229.8"/><use href="#dv" x="244.6" y="229.8"/><use href="#dv" x="249.7" y="229.8"/><use href="#dv" x="254.9" y="229.8"/><use href="#dv" x="260.1" y="229.8"/><use href="#dv" x="265.3" y="229.8"/><use href="#dv" x="270.5" y="229.8"/><use href="#dv" x="275.7" y="229.8"/><use href="#dv" x="280.9" y="229.8"/><use href="#dv" x="286.1" y="229.8"/><use href="#dv" x="218.6" y="235.7"/><use href="#dv" x="223.8" y="235.7"/><use href="#dv" x="229.0" y="235.7"/><use href="#dv" x="234.2" y="235.7"/><use href="#dv" x="239.4" y="235.7"/><use href="#dv" x="244.6" y="235.7"/><use href="#dv" x="249.7" y="235.7"/><use href="#dv" x="254.9" y="235.7"/><use href="#dv" x="260.1" y="235.7"/><use href="#dv" x="265.3" y="235.7"/><use href="#dv" x="270.5" y="235.7"/><use href="#dv" x="275.7" y="235.7"/><use href="#dv" x="280.9" y="235.7"/><use href="#dv" x="286.1" y="235.7"/><use href="#dv" x="218.6" y="241.5"/><use href="#dv" x="223.8" y="241.5"/><use href="#dv" x="229.0" y="241.5"/><use href="#dv" x="234.2" y="241.5"/><use href="#dv" x="239.4" y="241.5"/><use href="#dv" x="244.6" y="241.5"/><use href="#dv" x="249.7" y="241.5"/><use href="#dv" x="254.9" y="241.5"/><use href="#dv" x="260.1" y="241.5"/><use href="#dv" x="265.3" y="241.5"/><use href="#dv" x="270.5" y="241.5"/><use href="#dv" x="275.7" y="241.5"/><use href="#dv" x="280.9" y="241.5"/><use href="#dv" x="286.1" y="241.5"/><use href="#dv" x="218.6" y="247.4"/><use href="#dv" x="223.8" y="247.4"/><use href="#dv" x="229.0" y="247.4"/><use href="#dv" x="234.2" y="247.4"/><use href="#dv" x="239.4" y="247.4"/><use href="#dv" x="244.6" y="247.4"/><use href="#dv" x="249.7" y="247.4"/><use href="#dv" x="254.9" y="247.4"/><use href="#dv" x="260.1" y="247.4"/><use href="#dv" x="265.3" y="247.4"/><use href="#dv" x="270.5" y="247.4"/><use href="#dv" x="275.7" y="247.4"/><use href="#dv" x="280.9" y="247.4"/><use href="#dv" x="286.1" y="247.4"/><use href="#dv" x="218.6" y="253.2"/><use href="#dv" x="223.8" y="253.2"/><use href="#dv" x="229.0" y="253.2"/><use href="#dv" x="234.2" y="253.2"/><use href="#dv" x="239.4" y="253.2"/><use href="#dv" x="244.6" y="253.2"/><use href="#dv" x="249.7" y="253.2"/><use href="#dv" x="254.9" y="253.2"/><use href="#dv" x="260.1" y="253.2"/><use href="#dv" x="265.3" y="253.2"/><use href="#dv" x="270.5" y="253.2"/><use href="#dv" x="275.7" y="253.2"/><use href="#dv" x="280.9" y="253.2"/><use href="#dv" x="286.1" y="253.2"/><use href="#dv" x="218.6" y="259.1"/><use href="#dv" x="223.8" y="259.1"/><use href="#dv" x="229.0" y="259.1"/><use href="#dv" x="234.2" y="259.1"/><use href="#dv" x="239.4" y="259.1"/><use href="#dv" x="244.6" y="259.1"/><use href="#dv" x="249.7" y="259.1"/><use href="#dv" x="254.9" y="259.1"/><use href="#dv" x="260.1" y="259.1"/><use href="#dv" x="265.3" y="259.1"/><use href="#dv" x="270.5" y="259.1"/><use href="#dv" x="275.7" y="259.1"/><use href="#dv" x="280.9" y="259.1"/><use href="#dv" x="286.1" y="259.1"/><use href="#dv" x="218.6" y="265.0"/><use href="#dv" x="223.8" y="265.0"/><use href="#dv" x="229.0" y="265.0"/><use href="#dv" x="234.2" y="265.0"/><use href="#dv" x="239.4" y="265.0"/><use href="#dv" x="244.6" y="265.0"/><use href="#dv" x="249.7" y="265.0"/><use href="#dv" x="254.9" y="265.0"/><use href="#dv" x="260.1" y="265.0"/><use href="#dv" x="265.3" y="265.0"/><use href="#dv" x="270.5" y="265.0"/><use href="#dv" x="275.7" y="265.0"/><use href="#dv" x="280.9" y="265.0"/><use href="#dv" x="286.1" y="265.0"/><use href="#dv" x="218.6" y="270.8"/><use href="#dv" x="223.8" y="270.8"/><use href="#dv" x="229.0" y="270.8"/><use href="#dv" x="234.2" y="270.8"/><use href="#dv" x="239.4" y="270.8"/><use href="#dv" x="244.6" y="270.8"/><use href="#dv" x="249.7" y="270.8"/><use href="#dv" x="254.9" y="270.8"/><use href="#dv" x="260.1" y="270.8"/><use href="#dv" x="265.3" y="270.8"/><use href="#dv" x="270.5" y="270.8"/><use href="#dv" x="275.7" y="270.8"/><use href="#dv" x="280.9" y="270.8"/><use href="#dv" x="286.1" y="270.8"/><use href="#dv" x="218.6" y="276.7"/><use href="#dv" x="223.8" y="276.7"/><use href="#dv" x="229.0" y="276.7"/><use href="#dv" x="234.2" y="276.7"/><use href="#dv" x="239.4" y="276.7"/><use href="#dv" x="244.6" y="276.7"/><use href="#dv" x="249.7" y="276.7"/><use href="#dv" x="254.9" y="276.7"/><use href="#dv" x="260.1" y="276.7"/><use href="#dv" x="265.3" y="276.7"/><use href="#dv" x="270.5" y="276.7"/><use href="#dv" x="275.7" y="276.7"/><use href="#dv" x="280.9" y="276.7"/><use href="#dv" x="286.1" y="276.7"/><use href="#dv" x="218.6" y="282.5"/><use href="#dv" x="223.8" y="282.5"/><use href="#dv" x="229.0" y="282.5"/><use href="#dv" x="234.2" y="282.5"/><use href="#dv" x="239.4" y="282.5"/><use href="#dv" x="244.6" y="282.5"/><use href="#dv" x="249.7" y="282.5"/><use href="#dv" x="254.9" y="282.5"/><use href="#dv" x="260.1" y="282.5"/><use href="#dv" x="265.3" y="282.5"/><use href="#dv" x="270.5" y="282.5"/><use href="#dv" x="275.7" y="282.5"/><use href="#dv" x="280.9" y="282.5"/><use href="#dv" x="286.1" y="282.5"/><use href="#dv" x="218.6" y="288.4"/><use href="#dv" x="223.8" y="288.4"/><use href="#dv" x="229.0" y="288.4"/><use href="#dv" x="234.2" y="288.4"/><use href="#dv" x="239.4" y="288.4"/><use href="#dv" x="244.6" y="288.4"/><use href="#dv" x="249.7" y="288.4"/><use href="#dv" x="254.9" y="288.4"/><use href="#dv" x="260.1" y="288.4"/><use href="#dv" x="265.3" y="288.4"/><use href="#dv" x="270.5" y="288.4"/><use href="#dv" x="275.7" y="288.4"/><use href="#dv" x="280.9" y="288.4"/><use href="#dv" x="286.1" y="288.4"/><use href="#dv" x="218.6" y="294.3"/><use href="#dv" x="223.8" y="294.3"/><use href="#dv" x="229.0" y="294.3"/><use href="#dv" x="234.2" y="294.3"/><use href="#dv" x="239.4" y="294.3"/><use href="#dv" x="244.6" y="294.3"/><use href="#dv" x="249.7" y="294.3"/><use href="#dv" x="254.9" y="294.3"/><use href="#dv" x="260.1" y="294.3"/><use href="#dv" x="265.3" y="294.3"/><use href="#dv" x="270.5" y="294.3"/><use href="#dv" x="275.7" y="294.3"/><use href="#dv" x="280.9" y="294.3"/><use href="#dv" x="286.1" y="294.3"/><use href="#dv" x="218.6" y="300.1"/><use href="#dv" x="223.8" y="300.1"/><use href="#dv" x="229.0" y="300.1"/><use href="#dv" x="234.2" y="300.1"/><use href="#dv" x="239.4" y="300.1"/><use href="#dv" x="244.6" y="300.1"/><use href="#dv" x="249.7" y="300.1"/><use href="#dv" x="254.9" y="300.1"/><use href="#dv" x="260.1" y="300.1"/><use href="#dv" x="265.3" y="300.1"/><use href="#dv" x="270.5" y="300.1"/><use href="#dv" x="275.7" y="300.1"/><use href="#dv" x="280.9" y="300.1"/><use href="#dv" x="286.1" y="300.1"/><use href="#dv" x="218.6" y="306.0"/><use href="#dv" x="223.8" y="306.0"/><use href="#dv" x="229.0" y="306.0"/><use href="#dv" x="234.2" y="306.0"/><use href="#dv" x="239.4" y="306.0"/><use href="#dv" x="244.6" y="306.0"/><use href="#dv" x="249.7" y="306.0"/><use href="#dv" x="254.9" y="306.0"/><use href="#dv" x="260.1" y="306.0"/><use href="#dv" x="265.3" y="306.0"/><use href="#dv" x="270.5" y="306.0"/><use href="#dv" x="275.7" y="306.0"/><use href="#dv" x="280.9" y="306.0"/><use href="#dv" x="286.1" y="306.0"/><use href="#dv" x="218.6" y="311.8"/><use href="#dv" x="223.8" y="311.8"/><use href="#dv" x="229.0" y="311.8"/><use href="#dv" x="234.2" y="311.8"/><use href="#dv" x="239.4" y="311.8"/><use href="#dv" x="244.6" y="311.8"/><use href="#dv" x="249.7" y="311.8"/><use href="#dv" x="254.9" y="311.8"/><use href="#dv" x="260.1" y="311.8"/><use href="#dv" x="265.3" y="311.8"/><use href="#dv" x="270.5" y="311.8"/><use href="#dv" x="275.7" y="311.8"/><use href="#dv" x="280.9" y="311.8"/><use href="#dv" x="286.1" y="311.8"/><use href="#dv" x="218.6" y="317.7"/><use href="#dv" x="223.8" y="317.7"/><use href="#dv" x="229.0" y="317.7"/><use href="#dv" x="234.2" y="317.7"/><use href="#dv" x="239.4" y="317.7"/><use href="#dv" x="244.6" y="317.7"/><use href="#dv" x="249.7" y="317.7"/><use href="#dv" x="254.9" y="317.7"/><use href="#dv" x="260.1" y="317.7"/><use href="#dv" x="265.3" y="317.7"/><use href="#dv" x="270.5" y="317.7"/><use href="#dv" x="275.7" y="317.7"/><use href="#dv" x="280.9" y="317.7"/><use href="#dv" x="286.1" y="317.7"/><use href="#dv" x="218.6" y="323.6"/><use href="#dv" x="223.8" y="323.6"/><use href="#dv" x="229.0" y="323.6"/><use href="#dv" x="234.2" y="323.6"/><use href="#dv" x="239.4" y="323.6"/><use href="#dv" x="244.6" y="323.6"/><use href="#dv" x="249.7" y="323.6"/><use href="#dv" x="254.9" y="323.6"/><use href="#dv" x="260.1" y="323.6"/><use href="#dv" x="265.3" y="323.6"/><use href="#dv" x="270.5" y="323.6"/><use href="#dv" x="275.7" y="323.6"/><use href="#dv" x="280.9" y="323.6"/><use href="#dv" x="286.1" y="323.6"/><use href="#dv" x="218.6" y="329.4"/><use href="#dv" x="223.8" y="329.4"/><use href="#dv" x="229.0" y="329.4"/><use href="#dv" x="234.2" y="329.4"/><use href="#dv" x="239.4" y="329.4"/><use href="#dv" x="244.6" y="329.4"/><use href="#dv" x="249.7" y="329.4"/><use href="#dv" x="254.9" y="329.4"/><use href="#dv" x="260.1" y="329.4"/><use href="#dv" x="265.3" y="329.4"/><use href="#dv" x="270.5" y="329.4"/><use href="#dv" x="275.7" y="329.4"/><use href="#dv" x="280.9" y="329.4"/><use href="#dv" x="286.1" y="329.4"/><use href="#dv" x="119.6" y="236.9"/><use href="#dv" x="124.4" y="236.9"/><use href="#dv" x="129.2" y="236.9"/><use href="#dv" x="134.0" y="236.9"/><use href="#dv" x="138.8" y="236.9"/><use href="#dv" x="143.6" y="236.9"/><use href="#dv" x="148.4" y="236.9"/><use href="#dv" x="153.2" y="236.9"/><use href="#dv" x="119.6" y="242.6"/><use href="#dv" x="124.4" y="242.6"/><use href="#dv" x="129.2" y="242.6"/><use href="#dv" x="134.0" y="242.6"/><use href="#dv" x="138.8" y="242.6"/><use href="#dv" x="143.6" y="242.6"/><use href="#dv" x="148.4" y="242.6"/><use href="#dv" x="153.2" y="242.6"/><use href="#dv" x="119.6" y="248.3"/><use href="#dv" x="124.4" y="248.3"/><use href="#dv" x="129.2" y="248.3"/><use href="#dv" x="134.0" y="248.3"/><use href="#dv" x="138.8" y="248.3"/><use href="#dv" x="143.6" y="248.3"/><use href="#dv" x="148.4" y="248.3"/><use href="#dv" x="153.2" y="248.3"/><use href="#dv" x="119.6" y="254.0"/><use href="#dv" x="124.4" y="254.0"/><use href="#dv" x="129.2" y="254.0"/><use href="#dv" x="134.0" y="254.0"/><use href="#dv" x="138.8" y="254.0"/><use href="#dv" x="143.6" y="254.0"/><use href="#dv" x="148.4" y="254.0"/><use href="#dv" x="153.2" y="254.0"/><use href="#dv" x="119.6" y="259.7"/><use href="#dv" x="124.4" y="259.7"/><use href="#dv" x="129.2" y="259.7"/><use href="#dv" x="134.0" y="259.7"/><use href="#dv" x="138.8" y="259.7"/><use href="#dv" x="143.6" y="259.7"/><use href="#dv" x="148.4" y="259.7"/><use href="#dv" x="153.2" y="259.7"/><use href="#dv" x="119.6" y="265.4"/><use href="#dv" x="124.4" y="265.4"/><use href="#dv" x="129.2" y="265.4"/><use href="#dv" x="134.0" y="265.4"/><use href="#dv" x="138.8" y="265.4"/><use href="#dv" x="143.6" y="265.4"/><use href="#dv" x="148.4" y="265.4"/><use href="#dv" x="153.2" y="265.4"/><use href="#dv" x="119.6" y="271.1"/><use href="#dv" x="124.4" y="271.1"/><use href="#dv" x="129.2" y="271.1"/><use href="#dv" x="134.0" y="271.1"/><use href="#dv" x="138.8" y="271.1"/><use href="#dv" x="143.6" y="271.1"/><use href="#dv" x="148.4" y="271.1"/><use href="#dv" x="153.2" y="271.1"/><use href="#dv" x="119.6" y="276.8"/><use href="#dv" x="124.4" y="276.8"/><use href="#dv" x="129.2" y="276.8"/><use href="#dv" x="134.0" y="276.8"/><use href="#dv" x="138.8" y="276.8"/><use href="#dv" x="143.6" y="276.8"/><use href="#dv" x="148.4" y="276.8"/><use href="#dv" x="153.2" y="276.8"/><use href="#dv" x="88.1" y="115.0"/><use href="#dv" x="94.0" y="115.0"/><use href="#dv" x="98.3" y="115.0"/><use href="#dv" x="82.0" y="120.1"/><use href="#dv" x="88.1" y="120.1"/><use href="#dv" x="94.0" y="120.1"/><use href="#dv" x="98.3" y="120.1"/><use href="#dv" x="76.2" y="125.5"/><use href="#dv" x="82.0" y="125.5"/><use href="#dv" x="88.1" y="125.5"/><use href="#dv" x="94.0" y="125.5"/><use href="#dv" x="69.6" y="131.0"/><use href="#dv" x="76.2" y="131.0"/><use href="#dv" x="82.0" y="131.0"/><use href="#dv" x="88.1" y="131.0"/><use href="#dv" x="94.0" y="131.0"/><use href="#dv" x="69.6" y="136.4"/><use href="#dv" x="76.2" y="136.4"/><use href="#dv" x="82.0" y="136.4"/><use href="#dv" x="88.1" y="136.4"/><use href="#dv" x="94.0" y="136.4"/><use href="#dv" x="69.6" y="141.9"/><use href="#dv" x="76.2" y="141.9"/><use href="#dv" x="82.0" y="141.9"/><use href="#dv" x="88.1" y="141.9"/><use href="#dv" x="94.0" y="141.9"/><use href="#dv" x="69.6" y="147.3"/><use href="#dv" x="76.2" y="147.3"/><use href="#dv" x="82.0" y="147.3"/><use href="#dv" x="88.1" y="147.3"/><use href="#dv" x="94.0" y="147.3"/><use href="#dv" x="107.0" y="104.0"/><use href="#dv" x="110.0" y="106.0"/><use href="#dv" x="108.0" y="110.0"/><use href="#dv" x="111.4" y="112.0"/><use href="#dv" x="113.0" y="108.0"/><use href="#dv" x="117.5" y="300.5"/><use href="#dv" x="122.1" y="300.5"/><use href="#dv" x="126.7" y="300.5"/><use href="#dv" x="131.3" y="300.5"/><use href="#dv" x="135.9" y="300.5"/><use href="#dv" x="117.5" y="330.0"/><use href="#dv" x="122.1" y="330.0"/><use href="#dv" x="126.7" y="330.0"/><use href="#dv" x="131.3" y="330.0"/><use href="#dv" x="135.9" y="330.0"/><use href="#dv" x="112.0" y="306.0"/><use href="#dv" x="112.0" y="312.0"/><use href="#dv" x="112.0" y="318.0"/><use href="#dv" x="112.0" y="324.0"/><use href="#dv" x="116.0" y="306.0"/><use href="#dv" x="116.0" y="312.0"/><use href="#dv" x="116.0" y="318.0"/><use href="#dv" x="116.0" y="324.0"/><use href="#dv" x="139.0" y="306.0"/><use href="#dv" x="139.0" y="312.0"/><use href="#dv" x="139.0" y="318.0"/><use href="#dv" x="139.0" y="324.0"/><use href="#dv" x="143.0" y="306.0"/><use href="#dv" x="143.0" y="312.0"/><use href="#dv" x="143.0" y="318.0"/><use href="#dv" x="143.0" y="324.0"/></g><g transform="translate(51.3,404.0)"><circle cx="17.0" cy="19.3" r="11.60" fill="#fff" /><circle cx="17.0" cy="19.3" r="10.60" fill="#000" /><circle cx="17.0" cy="19.3" r="8.40" fill="#c9c9c9" /><circle cx="426.0" cy="18.6" r="11.60" fill="#fff" /><circle cx="426.0" cy="18.6" r="10.60" fill="#000" /><circle cx="426.0" cy="18.6" r="8.40" fill="#c9c9c9" /><circle cx="16.5" cy="322.0" r="11.60" fill="#fff" /><circle cx="16.5" cy="322.0" r="10.60" fill="#000" /><circle cx="16.5" cy="322.0" r="8.40" fill="#c9c9c9" /><circle cx="424.3" cy="320.2" r="11.60" fill="#fff" /><circle cx="424.3" cy="320.2" r="10.60" fill="#000" /><circle cx="424.3" cy="320.2" r="8.40" fill="#c9c9c9" /><circle cx="56.9" cy="19.3" r="9.80" fill="#fff" /><circle cx="56.9" cy="19.3" r="8.80" fill="#000" /><circle cx="56.9" cy="19.3" r="2.60" fill="#c9c9c9" /><circle cx="88.8" cy="19.3" r="8.80" fill="#000" /><circle cx="88.8" cy="19.3" r="2.60" fill="#c9c9c9" /><circle cx="121.0" cy="19.3" r="8.80" fill="#000" /><circle cx="121.0" cy="19.3" r="2.60" fill="#c9c9c9" /><circle cx="155.0" cy="19.3" r="9.80" fill="#fff" /><circle cx="155.0" cy="19.3" r="8.80" fill="#000" /><circle cx="155.0" cy="19.3" r="2.60" fill="#c9c9c9" /><rect x="68.9" y="54.900000000000006" width="8.6" height="8.6" fill="#fff"/><rect x="69.8" y="55.800000000000004" width="6.8" height="6.8" fill="#000"/><circle cx="73.2" cy="59.2" r="3.60" fill="#000" /><circle cx="73.2" cy="59.2" r="2.00" fill="#c9c9c9" /><circle cx="84.0" cy="59.2" r="4.30" fill="#fff" /><circle cx="84.0" cy="59.2" r="3.60" fill="#000" /><circle cx="84.0" cy="59.2" r="2.00" fill="#c9c9c9" /><circle cx="95.3" cy="59.2" r="4.30" fill="#fff" /><circle cx="95.3" cy="59.2" r="3.60" fill="#000" /><circle cx="95.3" cy="59.2" r="2.00" fill="#c9c9c9" /><circle cx="106.6" cy="59.2" r="4.30" fill="#fff" /><circle cx="106.6" cy="59.2" r="3.60" fill="#000" /><circle cx="106.6" cy="59.2" r="2.00" fill="#c9c9c9" /><circle cx="117.3" cy="59.2" r="3.60" fill="#000" /><circle cx="117.3" cy="59.2" r="2.00" fill="#c9c9c9" /><circle cx="128.4" cy="59.2" r="4.30" fill="#fff" /><circle cx="128.4" cy="59.2" r="3.60" fill="#000" /><circle cx="128.4" cy="59.2" r="2.00" fill="#c9c9c9" /><circle cx="139.2" cy="59.2" r="3.60" fill="#000" /><circle cx="139.2" cy="59.2" r="2.00" fill="#c9c9c9" /><circle cx="149.9" cy="59.2" r="4.30" fill="#fff" /><circle cx="149.9" cy="59.2" r="3.60" fill="#000" /><circle cx="149.9" cy="59.2" r="2.00" fill="#c9c9c9" /><circle cx="23.1" cy="54.2" r="4.00" fill="#000" /><circle cx="23.1" cy="54.2" r="2.10" fill="#c9c9c9" /><circle cx="23.1" cy="75.8" r="5.00" fill="#fff" /><circle cx="23.1" cy="75.8" r="4.30" fill="#000" /><circle cx="23.1" cy="75.8" r="2.40" fill="#c9c9c9" /><circle cx="23.1" cy="97.6" r="5.00" fill="#fff" /><circle cx="23.1" cy="97.6" r="4.30" fill="#000" /><circle cx="23.1" cy="97.6" r="2.40" fill="#c9c9c9" /><rect x="18.5" y="131.3" width="9.2" height="9.2" fill="#fff"/><rect x="19.5" y="132.3" width="7.2" height="7.2" fill="#000"/><circle cx="23.1" cy="135.9" r="2.40" fill="#c9c9c9" /><circle cx="23.1" cy="147.0" r="4.40" fill="#fff" /><circle cx="23.1" cy="147.0" r="3.70" fill="#000" /><circle cx="23.1" cy="147.0" r="2.20" fill="#c9c9c9" /><circle cx="23.1" cy="157.7" r="3.80" fill="#000" /><circle cx="23.1" cy="157.7" r="2.10" fill="#c9c9c9" /><rect x="117.8" y="93.3" width="15.8" height="10.5" fill="#000"/><circle cx="314.8" cy="83.3" r="11.20" fill="#fff" /><circle cx="314.8" cy="83.3" r="10.20" fill="#000" /><circle cx="314.8" cy="83.3" r="4.50" fill="#c9c9c9" /><circle cx="314.8" cy="184.7" r="11.20" fill="#fff" /><circle cx="314.8" cy="184.7" r="10.20" fill="#000" /><circle cx="314.8" cy="184.7" r="4.50" fill="#c9c9c9" /><circle cx="23.5" cy="209.3" r="8.30" fill="#000" /><circle cx="23.5" cy="209.3" r="2.40" fill="#c9c9c9" /><circle cx="23.5" cy="239.6" r="8.30" fill="#000" /><circle cx="23.5" cy="239.6" r="2.40" fill="#c9c9c9" /><rect x="89" y="281.5" width="10.8" height="10.8" fill="#fff"/><rect x="90" y="282.5" width="8.8" height="8.8" fill="#000"/><circle cx="94.4" cy="286.9" r="2.60" fill="#c9c9c9" /><circle cx="127.0" cy="286.9" r="5.00" fill="#000" /><circle cx="127.0" cy="286.9" r="2.30" fill="#c9c9c9" /><circle cx="62.8" cy="316.3" r="11.00" fill="#fff" /><circle cx="62.8" cy="316.3" r="10.00" fill="#000" /><circle cx="62.8" cy="316.3" r="4.20" fill="#c9c9c9" /><circle cx="127.8" cy="316.3" r="10.40" fill="#000" /><circle cx="127.8" cy="316.3" r="4.30" fill="#c9c9c9" /><circle cx="205.4" cy="316.3" r="7.80" fill="#000" /><circle cx="205.4" cy="316.3" r="2.40" fill="#c9c9c9" /><circle cx="245.0" cy="214.2" r="5.10" fill="#000" /><circle cx="245.0" cy="214.2" r="2.40" fill="#c9c9c9" /><circle cx="245.0" cy="240.9" r="5.10" fill="#000" /><circle cx="245.0" cy="240.9" r="2.40" fill="#c9c9c9" /><circle cx="245.0" cy="268.5" r="5.10" fill="#000" /><circle cx="245.0" cy="268.5" r="2.40" fill="#c9c9c9" /><circle cx="245.0" cy="295.7" r="5.10" fill="#000" /><circle cx="245.0" cy="295.7" r="2.40" fill="#c9c9c9" /><circle cx="245.0" cy="322.5" r="5.10" fill="#000" /><circle cx="245.0" cy="322.5" r="2.40" fill="#c9c9c9" /><circle cx="330.0" cy="214.2" r="6.10" fill="#fff" /><circle cx="330.0" cy="214.2" r="5.10" fill="#000" /><circle cx="330.0" cy="214.2" r="2.40" fill="#c9c9c9" /><circle cx="330.0" cy="240.9" r="6.10" fill="#fff" /><circle cx="330.0" cy="240.9" r="5.10" fill="#000" /><circle cx="330.0" cy="240.9" r="2.40" fill="#c9c9c9" /><circle cx="330.0" cy="268.5" r="6.10" fill="#fff" /><circle cx="330.0" cy="268.5" r="5.10" fill="#000" /><circle cx="330.0" cy="268.5" r="2.40" fill="#c9c9c9" /><circle cx="330.0" cy="295.7" r="6.10" fill="#fff" /><circle cx="330.0" cy="295.7" r="5.10" fill="#000" /><circle cx="330.0" cy="295.7" r="2.40" fill="#c9c9c9" /><circle cx="330.0" cy="322.5" r="6.10" fill="#fff" /><circle cx="330.0" cy="322.5" r="5.10" fill="#000" /><circle cx="330.0" cy="322.5" r="2.40" fill="#c9c9c9" /></g>
<rect x="568.15" y="405.15" width="442.70" height="337.90" fill="#fff" stroke="#5f5f5f" stroke-width="2.3"/><g transform="translate(567.0,404.0)"><polygon points="5.0,23.6 22.6,4.8 428.2,4.8 440.0,19.8 440.0,321.9 426.8,335.2 20,335.2 5.0,319.7" fill="#5c5c5c"/><use href="#rv5c5c5c" x="200.4" y="7.7"/><use href="#rv5c5c5c" x="206.3" y="7.7"/><use href="#rv5c5c5c" x="212.3" y="7.7"/><use href="#rv5c5c5c" x="218.2" y="7.7"/><use href="#rv5c5c5c" x="224.2" y="7.7"/><use href="#rv5c5c5c" x="230.1" y="7.7"/><use href="#rv5c5c5c" x="236.0" y="7.7"/><use href="#rv5c5c5c" x="242.0" y="7.7"/><use href="#rv5c5c5c" x="247.9" y="7.7"/><use href="#rv5c5c5c" x="253.9" y="7.7"/><use href="#rv5c5c5c" x="200.4" y="13.7"/><use href="#rv5c5c5c" x="206.3" y="13.7"/><use href="#rv5c5c5c" x="212.3" y="13.7"/><use href="#rv5c5c5c" x="218.2" y="13.7"/><use href="#rv5c5c5c" x="224.2" y="13.7"/><use href="#rv5c5c5c" x="230.1" y="13.7"/><use href="#rv5c5c5c" x="236.0" y="13.7"/><use href="#rv5c5c5c" x="242.0" y="13.7"/><use href="#rv5c5c5c" x="247.9" y="13.7"/><use href="#rv5c5c5c" x="253.9" y="13.7"/><use href="#rv5c5c5c" x="200.4" y="19.8"/><use href="#rv5c5c5c" x="206.3" y="19.8"/><use href="#rv5c5c5c" x="212.3" y="19.8"/><use href="#rv5c5c5c" x="218.2" y="19.8"/><use href="#rv5c5c5c" x="224.2" y="19.8"/><use href="#rv5c5c5c" x="230.1" y="19.8"/><use href="#rv5c5c5c" x="236.0" y="19.8"/><use href="#rv5c5c5c" x="242.0" y="19.8"/><use href="#rv5c5c5c" x="247.9" y="19.8"/><use href="#rv5c5c5c" x="253.9" y="19.8"/><use href="#rv5c5c5c" x="200.4" y="25.8"/><use href="#rv5c5c5c" x="206.3" y="25.8"/><use href="#rv5c5c5c" x="212.3" y="25.8"/><use href="#rv5c5c5c" x="218.2" y="25.8"/><use href="#rv5c5c5c" x="224.2" y="25.8"/><use href="#rv5c5c5c" x="230.1" y="25.8"/><use href="#rv5c5c5c" x="236.0" y="25.8"/><use href="#rv5c5c5c" x="242.0" y="25.8"/><use href="#rv5c5c5c" x="247.9" y="25.8"/><use href="#rv5c5c5c" x="253.9" y="25.8"/><use href="#rv5c5c5c" x="200.4" y="31.8"/><use href="#rv5c5c5c" x="206.3" y="31.8"/><use href="#rv5c5c5c" x="212.3" y="31.8"/><use href="#rv5c5c5c" x="218.2" y="31.8"/><use href="#rv5c5c5c" x="224.2" y="31.8"/><use href="#rv5c5c5c" x="230.1" y="31.8"/><use href="#rv5c5c5c" x="236.0" y="31.8"/><use href="#rv5c5c5c" x="242.0" y="31.8"/><use href="#rv5c5c5c" x="247.9" y="31.8"/><use href="#rv5c5c5c" x="253.9" y="31.8"/><use href="#rv5c5c5c" x="200.4" y="37.9"/><use href="#rv5c5c5c" x="206.3" y="37.9"/><use href="#rv5c5c5c" x="212.3" y="37.9"/><use href="#rv5c5c5c" x="218.2" y="37.9"/><use href="#rv5c5c5c" x="224.2" y="37.9"/><use href="#rv5c5c5c" x="230.1" y="37.9"/><use href="#rv5c5c5c" x="236.0" y="37.9"/><use href="#rv5c5c5c" x="242.0" y="37.9"/><use href="#rv5c5c5c" x="247.9" y="37.9"/><use href="#rv5c5c5c" x="253.9" y="37.9"/><use href="#rv5c5c5c" x="200.4" y="43.9"/><use href="#rv5c5c5c" x="206.3" y="43.9"/><use href="#rv5c5c5c" x="212.3" y="43.9"/><use href="#rv5c5c5c" x="218.2" y="43.9"/><use href="#rv5c5c5c" x="224.2" y="43.9"/><use href="#rv5c5c5c" x="230.1" y="43.9"/><use href="#rv5c5c5c" x="236.0" y="43.9"/><use href="#rv5c5c5c" x="242.0" y="43.9"/><use href="#rv5c5c5c" x="247.9" y="43.9"/><use href="#rv5c5c5c" x="253.9" y="43.9"/><use href="#rv5c5c5c" x="200.4" y="49.9"/><use href="#rv5c5c5c" x="206.3" y="49.9"/><use href="#rv5c5c5c" x="212.3" y="49.9"/><use href="#rv5c5c5c" x="218.2" y="49.9"/><use href="#rv5c5c5c" x="224.2" y="49.9"/><use href="#rv5c5c5c" x="230.1" y="49.9"/><use href="#rv5c5c5c" x="236.0" y="49.9"/><use href="#rv5c5c5c" x="242.0" y="49.9"/><use href="#rv5c5c5c" x="247.9" y="49.9"/><use href="#rv5c5c5c" x="253.9" y="49.9"/><use href="#rv5c5c5c" x="200.4" y="55.9"/><use href="#rv5c5c5c" x="206.3" y="55.9"/><use href="#rv5c5c5c" x="212.3" y="55.9"/><use href="#rv5c5c5c" x="218.2" y="55.9"/><use href="#rv5c5c5c" x="224.2" y="55.9"/><use href="#rv5c5c5c" x="230.1" y="55.9"/><use href="#rv5c5c5c" x="236.0" y="55.9"/><use href="#rv5c5c5c" x="242.0" y="55.9"/><use href="#rv5c5c5c" x="247.9" y="55.9"/><use href="#rv5c5c5c" x="253.9" y="55.9"/><use href="#rv5c5c5c" x="200.4" y="62.0"/><use href="#rv5c5c5c" x="206.3" y="62.0"/><use href="#rv5c5c5c" x="212.3" y="62.0"/><use href="#rv5c5c5c" x="218.2" y="62.0"/><use href="#rv5c5c5c" x="224.2" y="62.0"/><use href="#rv5c5c5c" x="230.1" y="62.0"/><use href="#rv5c5c5c" x="236.0" y="62.0"/><use href="#rv5c5c5c" x="242.0" y="62.0"/><use href="#rv5c5c5c" x="247.9" y="62.0"/><use href="#rv5c5c5c" x="253.9" y="62.0"/><use href="#rv5c5c5c" x="263.9" y="18.6"/><use href="#rv5c5c5c" x="269.8" y="18.6"/><use href="#rv5c5c5c" x="275.7" y="18.6"/><use href="#rv5c5c5c" x="281.6" y="18.6"/><use href="#rv5c5c5c" x="263.9" y="24.7"/><use href="#rv5c5c5c" x="269.8" y="24.7"/><use href="#rv5c5c5c" x="275.7" y="24.7"/><use href="#rv5c5c5c" x="281.6" y="24.7"/><use href="#rv5c5c5c" x="263.9" y="30.8"/><use href="#rv5c5c5c" x="269.8" y="30.8"/><use href="#rv5c5c5c" x="275.7" y="30.8"/><use href="#rv5c5c5c" x="281.6" y="30.8"/><use href="#rv5c5c5c" x="263.9" y="36.9"/><use href="#rv5c5c5c" x="269.8" y="36.9"/><use href="#rv5c5c5c" x="275.7" y="36.9"/><use href="#rv5c5c5c" x="281.6" y="36.9"/><use href="#rv5c5c5c" x="263.9" y="43.0"/><use href="#rv5c5c5c" x="269.8" y="43.0"/><use href="#rv5c5c5c" x="275.7" y="43.0"/><use href="#rv5c5c5c" x="281.6" y="43.0"/><use href="#rv5c5c5c" x="311.6" y="7.3"/><use href="#rv5c5c5c" x="317.8" y="7.3"/><use href="#rv5c5c5c" x="324.0" y="7.3"/><use href="#rv5c5c5c" x="330.2" y="7.3"/><use href="#rv5c5c5c" x="336.4" y="7.3"/><use href="#rv5c5c5c" x="342.6" y="7.3"/><use href="#rv5c5c5c" x="348.8" y="7.3"/><use href="#rv5c5c5c" x="355.0" y="7.3"/><use href="#rv5c5c5c" x="311.6" y="13.3"/><use href="#rv5c5c5c" x="317.8" y="13.3"/><use href="#rv5c5c5c" x="324.0" y="13.3"/><use href="#rv5c5c5c" x="330.2" y="13.3"/><use href="#rv5c5c5c" x="336.4" y="13.3"/><use href="#rv5c5c5c" x="342.6" y="13.3"/><use href="#rv5c5c5c" x="348.8" y="13.3"/><use href="#rv5c5c5c" x="355.0" y="13.3"/><use href="#rv5c5c5c" x="311.6" y="19.3"/><use href="#rv5c5c5c" x="317.8" y="19.3"/><use href="#rv5c5c5c" x="324.0" y="19.3"/><use href="#rv5c5c5c" x="330.2" y="19.3"/><use href="#rv5c5c5c" x="336.4" y="19.3"/><use href="#rv5c5c5c" x="342.6" y="19.3"/><use href="#rv5c5c5c" x="348.8" y="19.3"/><use href="#rv5c5c5c" x="355.0" y="19.3"/><use href="#rv5c5c5c" x="311.6" y="25.4"/><use href="#rv5c5c5c" x="317.8" y="25.4"/><use href="#rv5c5c5c" x="324.0" y="25.4"/><use href="#rv5c5c5c" x="330.2" y="25.4"/><use href="#rv5c5c5c" x="336.4" y="25.4"/><use href="#rv5c5c5c" x="342.6" y="25.4"/><use href="#rv5c5c5c" x="348.8" y="25.4"/><use href="#rv5c5c5c" x="355.0" y="25.4"/><use href="#rv5c5c5c" x="311.6" y="31.4"/><use href="#rv5c5c5c" x="317.8" y="31.4"/><use href="#rv5c5c5c" x="324.0" y="31.4"/><use href="#rv5c5c5c" x="330.2" y="31.4"/><use href="#rv5c5c5c" x="336.4" y="31.4"/><use href="#rv5c5c5c" x="342.6" y="31.4"/><use href="#rv5c5c5c" x="348.8" y="31.4"/><use href="#rv5c5c5c" x="355.0" y="31.4"/><use href="#rv5c5c5c" x="311.6" y="37.4"/><use href="#rv5c5c5c" x="317.8" y="37.4"/><use href="#rv5c5c5c" x="324.0" y="37.4"/><use href="#rv5c5c5c" x="330.2" y="37.4"/><use href="#rv5c5c5c" x="336.4" y="37.4"/><use href="#rv5c5c5c" x="342.6" y="37.4"/><use href="#rv5c5c5c" x="348.8" y="37.4"/><use href="#rv5c5c5c" x="355.0" y="37.4"/><use href="#rv5c5c5c" x="311.6" y="43.4"/><use href="#rv5c5c5c" x="317.8" y="43.4"/><use href="#rv5c5c5c" x="324.0" y="43.4"/><use href="#rv5c5c5c" x="330.2" y="43.4"/><use href="#rv5c5c5c" x="336.4" y="43.4"/><use href="#rv5c5c5c" x="342.6" y="43.4"/><use href="#rv5c5c5c" x="348.8" y="43.4"/><use href="#rv5c5c5c" x="355.0" y="43.4"/><use href="#rv5c5c5c" x="311.6" y="49.4"/><use href="#rv5c5c5c" x="317.8" y="49.4"/><use href="#rv5c5c5c" x="324.0" y="49.4"/><use href="#rv5c5c5c" x="330.2" y="49.4"/><use href="#rv5c5c5c" x="336.4" y="49.4"/><use href="#rv5c5c5c" x="342.6" y="49.4"/><use href="#rv5c5c5c" x="348.8" y="49.4"/><use href="#rv5c5c5c" x="355.0" y="49.4"/><use href="#rv5c5c5c" x="311.6" y="55.5"/><use href="#rv5c5c5c" x="317.8" y="55.5"/><use href="#rv5c5c5c" x="324.0" y="55.5"/><use href="#rv5c5c5c" x="330.2" y="55.5"/><use href="#rv5c5c5c" x="336.4" y="55.5"/><use href="#rv5c5c5c" x="342.6" y="55.5"/><use href="#rv5c5c5c" x="348.8" y="55.5"/><use href="#rv5c5c5c" x="355.0" y="55.5"/><use href="#rv5c5c5c" x="311.6" y="61.5"/><use href="#rv5c5c5c" x="317.8" y="61.5"/><use href="#rv5c5c5c" x="324.0" y="61.5"/><use href="#rv5c5c5c" x="330.2" y="61.5"/><use href="#rv5c5c5c" x="336.4" y="61.5"/><use href="#rv5c5c5c" x="342.6" y="61.5"/><use href="#rv5c5c5c" x="348.8" y="61.5"/><use href="#rv5c5c5c" x="355.0" y="61.5"/><use href="#rv5c5c5c" x="311.6" y="67.5"/><use href="#rv5c5c5c" x="317.8" y="67.5"/><use href="#rv5c5c5c" x="324.0" y="67.5"/><use href="#rv5c5c5c" x="330.2" y="67.5"/><use href="#rv5c5c5c" x="336.4" y="67.5"/><use href="#rv5c5c5c" x="342.6" y="67.5"/><use href="#rv5c5c5c" x="348.8" y="67.5"/><use href="#rv5c5c5c" x="355.0" y="67.5"/><use href="#rv5c5c5c" x="364.2" y="18.0"/><use href="#rv5c5c5c" x="369.8" y="18.0"/><use href="#rv5c5c5c" x="375.4" y="18.0"/><use href="#rv5c5c5c" x="381.0" y="18.0"/><use href="#rv5c5c5c" x="386.6" y="18.0"/><use href="#rv5c5c5c" x="364.2" y="24.1"/><use href="#rv5c5c5c" x="369.8" y="24.1"/><use href="#rv5c5c5c" x="375.4" y="24.1"/><use href="#rv5c5c5c" x="381.0" y="24.1"/><use href="#rv5c5c5c" x="386.6" y="24.1"/><use href="#rv5c5c5c" x="364.2" y="30.2"/><use href="#rv5c5c5c" x="386.6" y="30.2"/><use href="#rv5c5c5c" x="364.2" y="36.3"/><use href="#rv5c5c5c" x="386.6" y="36.3"/><use href="#rv5c5c5c" x="364.2" y="42.4"/><use href="#rv5c5c5c" x="369.8" y="42.4"/><use href="#rv5c5c5c" x="375.4" y="42.4"/><use href="#rv5c5c5c" x="381.0" y="42.4"/><use href="#rv5c5c5c" x="386.6" y="42.4"/><use href="#rv5c5c5c" x="213.7" y="102.6"/><use href="#rv5c5c5c" x="219.6" y="102.6"/><use href="#rv5c5c5c" x="225.5" y="102.6"/><use href="#rv5c5c5c" x="231.4" y="102.6"/><use href="#rv5c5c5c" x="237.3" y="102.6"/><use href="#rv5c5c5c" x="243.2" y="102.6"/><use href="#rv5c5c5c" x="249.1" y="102.6"/><use href="#rv5c5c5c" x="255.0" y="102.6"/><use href="#rv5c5c5c" x="213.7" y="108.8"/><use href="#rv5c5c5c" x="219.6" y="108.8"/><use href="#rv5c5c5c" x="225.5" y="108.8"/><use href="#rv5c5c5c" x="231.4" y="108.8"/><use href="#rv5c5c5c" x="237.3" y="108.8"/><use href="#rv5c5c5c" x="243.2" y="108.8"/><use href="#rv5c5c5c" x="249.1" y="108.8"/><use href="#rv5c5c5c" x="255.0" y="108.8"/><use href="#rv5c5c5c" x="213.7" y="114.9"/><use href="#rv5c5c5c" x="219.6" y="114.9"/><use href="#rv5c5c5c" x="225.5" y="114.9"/><use href="#rv5c5c5c" x="231.4" y="114.9"/><use href="#rv5c5c5c" x="237.3" y="114.9"/><use href="#rv5c5c5c" x="243.2" y="114.9"/><use href="#rv5c5c5c" x="249.1" y="114.9"/><use href="#rv5c5c5c" x="255.0" y="114.9"/><use href="#rv5c5c5c" x="213.7" y="121.0"/><use href="#rv5c5c5c" x="219.6" y="121.0"/><use href="#rv5c5c5c" x="225.5" y="121.0"/><use href="#rv5c5c5c" x="231.4" y="121.0"/><use href="#rv5c5c5c" x="237.3" y="121.0"/><use href="#rv5c5c5c" x="243.2" y="121.0"/><use href="#rv5c5c5c" x="249.1" y="121.0"/><use href="#rv5c5c5c" x="255.0" y="121.0"/><use href="#rv5c5c5c" x="213.7" y="127.2"/><use href="#rv5c5c5c" x="219.6" y="127.2"/><use href="#rv5c5c5c" x="225.5" y="127.2"/><use href="#rv5c5c5c" x="231.4" y="127.2"/><use href="#rv5c5c5c" x="237.3" y="127.2"/><use href="#rv5c5c5c" x="243.2" y="127.2"/><use href="#rv5c5c5c" x="249.1" y="127.2"/><use href="#rv5c5c5c" x="255.0" y="127.2"/><use href="#rv5c5c5c" x="213.7" y="133.3"/><use href="#rv5c5c5c" x="219.6" y="133.3"/><use href="#rv5c5c5c" x="225.5" y="133.3"/><use href="#rv5c5c5c" x="231.4" y="133.3"/><use href="#rv5c5c5c" x="237.3" y="133.3"/><use href="#rv5c5c5c" x="243.2" y="133.3"/><use href="#rv5c5c5c" x="249.1" y="133.3"/><use href="#rv5c5c5c" x="255.0" y="133.3"/><use href="#rv5c5c5c" x="213.7" y="139.5"/><use href="#rv5c5c5c" x="219.6" y="139.5"/><use href="#rv5c5c5c" x="225.5" y="139.5"/><use href="#rv5c5c5c" x="231.4" y="139.5"/><use href="#rv5c5c5c" x="237.3" y="139.5"/><use href="#rv5c5c5c" x="243.2" y="139.5"/><use href="#rv5c5c5c" x="249.1" y="139.5"/><use href="#rv5c5c5c" x="255.0" y="139.5"/><use href="#rv5c5c5c" x="213.7" y="145.7"/><use href="#rv5c5c5c" x="219.6" y="145.7"/><use href="#rv5c5c5c" x="225.5" y="145.7"/><use href="#rv5c5c5c" x="231.4" y="145.7"/><use href="#rv5c5c5c" x="237.3" y="145.7"/><use href="#rv5c5c5c" x="243.2" y="145.7"/><use href="#rv5c5c5c" x="249.1" y="145.7"/><use href="#rv5c5c5c" x="255.0" y="145.7"/><use href="#rv5c5c5c" x="213.7" y="151.8"/><use href="#rv5c5c5c" x="219.6" y="151.8"/><use href="#rv5c5c5c" x="225.5" y="151.8"/><use href="#rv5c5c5c" x="231.4" y="151.8"/><use href="#rv5c5c5c" x="237.3" y="151.8"/><use href="#rv5c5c5c" x="243.2" y="151.8"/><use href="#rv5c5c5c" x="249.1" y="151.8"/><use href="#rv5c5c5c" x="255.0" y="151.8"/><use href="#rv5c5c5c" x="213.7" y="157.9"/><use href="#rv5c5c5c" x="219.6" y="157.9"/><use href="#rv5c5c5c" x="225.5" y="157.9"/><use href="#rv5c5c5c" x="231.4" y="157.9"/><use href="#rv5c5c5c" x="237.3" y="157.9"/><use href="#rv5c5c5c" x="243.2" y="157.9"/><use href="#rv5c5c5c" x="249.1" y="157.9"/><use href="#rv5c5c5c" x="255.0" y="157.9"/><use href="#rv5c5c5c" x="213.7" y="164.1"/><use href="#rv5c5c5c" x="219.6" y="164.1"/><use href="#rv5c5c5c" x="225.5" y="164.1"/><use href="#rv5c5c5c" x="231.4" y="164.1"/><use href="#rv5c5c5c" x="237.3" y="164.1"/><use href="#rv5c5c5c" x="243.2" y="164.1"/><use href="#rv5c5c5c" x="249.1" y="164.1"/><use href="#rv5c5c5c" x="255.0" y="164.1"/><use href="#rv5c5c5c" x="263.9" y="120.0"/><use href="#rv5c5c5c" x="269.8" y="120.0"/><use href="#rv5c5c5c" x="275.7" y="120.0"/><use href="#rv5c5c5c" x="281.6" y="120.0"/><use href="#rv5c5c5c" x="263.9" y="126.0"/><use href="#rv5c5c5c" x="269.8" y="126.0"/><use href="#rv5c5c5c" x="275.7" y="126.0"/><use href="#rv5c5c5c" x="281.6" y="126.0"/><use href="#rv5c5c5c" x="263.9" y="132.0"/><use href="#rv5c5c5c" x="269.8" y="132.0"/><use href="#rv5c5c5c" x="275.7" y="132.0"/><use href="#rv5c5c5c" x="281.6" y="132.0"/><use href="#rv5c5c5c" x="263.9" y="138.0"/><use href="#rv5c5c5c" x="269.8" y="138.0"/><use href="#rv5c5c5c" x="275.7" y="138.0"/><use href="#rv5c5c5c" x="281.6" y="138.0"/><use href="#rv5c5c5c" x="263.9" y="144.0"/><use href="#rv5c5c5c" x="269.8" y="144.0"/><use href="#rv5c5c5c" x="275.7" y="144.0"/><use href="#rv5c5c5c" x="281.6" y="144.0"/><use href="#rv5c5c5c" x="315.3" y="100.0"/><use href="#rv5c5c5c" x="321.0" y="100.0"/><use href="#rv5c5c5c" x="326.8" y="100.0"/><use href="#rv5c5c5c" x="332.5" y="100.0"/><use href="#rv5c5c5c" x="338.2" y="100.0"/><use href="#rv5c5c5c" x="343.9" y="100.0"/><use href="#rv5c5c5c" x="349.7" y="100.0"/><use href="#rv5c5c5c" x="355.4" y="100.0"/><use href="#rv5c5c5c" x="315.3" y="106.2"/><use href="#rv5c5c5c" x="321.0" y="106.2"/><use href="#rv5c5c5c" x="326.8" y="106.2"/><use href="#rv5c5c5c" x="332.5" y="106.2"/><use href="#rv5c5c5c" x="338.2" y="106.2"/><use href="#rv5c5c5c" x="343.9" y="106.2"/><use href="#rv5c5c5c" x="349.7" y="106.2"/><use href="#rv5c5c5c" x="355.4" y="106.2"/><use href="#rv5c5c5c" x="315.3" y="112.3"/><use href="#rv5c5c5c" x="321.0" y="112.3"/><use href="#rv5c5c5c" x="326.8" y="112.3"/><use href="#rv5c5c5c" x="332.5" y="112.3"/><use href="#rv5c5c5c" x="338.2" y="112.3"/><use href="#rv5c5c5c" x="343.9" y="112.3"/><use href="#rv5c5c5c" x="349.7" y="112.3"/><use href="#rv5c5c5c" x="355.4" y="112.3"/><use href="#rv5c5c5c" x="315.3" y="118.5"/><use href="#rv5c5c5c" x="321.0" y="118.5"/><use href="#rv5c5c5c" x="326.8" y="118.5"/><use href="#rv5c5c5c" x="332.5" y="118.5"/><use href="#rv5c5c5c" x="338.2" y="118.5"/><use href="#rv5c5c5c" x="343.9" y="118.5"/><use href="#rv5c5c5c" x="349.7" y="118.5"/><use href="#rv5c5c5c" x="355.4" y="118.5"/><use href="#rv5c5c5c" x="315.3" y="124.6"/><use href="#rv5c5c5c" x="321.0" y="124.6"/><use href="#rv5c5c5c" x="326.8" y="124.6"/><use href="#rv5c5c5c" x="332.5" y="124.6"/><use href="#rv5c5c5c" x="338.2" y="124.6"/><use href="#rv5c5c5c" x="343.9" y="124.6"/><use href="#rv5c5c5c" x="349.7" y="124.6"/><use href="#rv5c5c5c" x="355.4" y="124.6"/><use href="#rv5c5c5c" x="315.3" y="130.8"/><use href="#rv5c5c5c" x="321.0" y="130.8"/><use href="#rv5c5c5c" x="326.8" y="130.8"/><use href="#rv5c5c5c" x="332.5" y="130.8"/><use href="#rv5c5c5c" x="338.2" y="130.8"/><use href="#rv5c5c5c" x="343.9" y="130.8"/><use href="#rv5c5c5c" x="349.7" y="130.8"/><use href="#rv5c5c5c" x="355.4" y="130.8"/><use href="#rv5c5c5c" x="315.3" y="137.0"/><use href="#rv5c5c5c" x="321.0" y="137.0"/><use href="#rv5c5c5c" x="326.8" y="137.0"/><use href="#rv5c5c5c" x="332.5" y="137.0"/><use href="#rv5c5c5c" x="338.2" y="137.0"/><use href="#rv5c5c5c" x="343.9" y="137.0"/><use href="#rv5c5c5c" x="349.7" y="137.0"/><use href="#rv5c5c5c" x="355.4" y="137.0"/><use href="#rv5c5c5c" x="315.3" y="143.1"/><use href="#rv5c5c5c" x="321.0" y="143.1"/><use href="#rv5c5c5c" x="326.8" y="143.1"/><use href="#rv5c5c5c" x="332.5" y="143.1"/><use href="#rv5c5c5c" x="338.2" y="143.1"/><use href="#rv5c5c5c" x="343.9" y="143.1"/><use href="#rv5c5c5c" x="349.7" y="143.1"/><use href="#rv5c5c5c" x="355.4" y="143.1"/><use href="#rv5c5c5c" x="315.3" y="149.3"/><use href="#rv5c5c5c" x="321.0" y="149.3"/><use href="#rv5c5c5c" x="326.8" y="149.3"/><use href="#rv5c5c5c" x="332.5" y="149.3"/><use href="#rv5c5c5c" x="338.2" y="149.3"/><use href="#rv5c5c5c" x="343.9" y="149.3"/><use href="#rv5c5c5c" x="349.7" y="149.3"/><use href="#rv5c5c5c" x="355.4" y="149.3"/><use href="#rv5c5c5c" x="315.3" y="155.4"/><use href="#rv5c5c5c" x="321.0" y="155.4"/><use href="#rv5c5c5c" x="326.8" y="155.4"/><use href="#rv5c5c5c" x="332.5" y="155.4"/><use href="#rv5c5c5c" x="338.2" y="155.4"/><use href="#rv5c5c5c" x="343.9" y="155.4"/><use href="#rv5c5c5c" x="349.7" y="155.4"/><use href="#rv5c5c5c" x="355.4" y="155.4"/><use href="#rv5c5c5c" x="315.3" y="161.6"/><use href="#rv5c5c5c" x="321.0" y="161.6"/><use href="#rv5c5c5c" x="326.8" y="161.6"/><use href="#rv5c5c5c" x="332.5" y="161.6"/><use href="#rv5c5c5c" x="338.2" y="161.6"/><use href="#rv5c5c5c" x="343.9" y="161.6"/><use href="#rv5c5c5c" x="349.7" y="161.6"/><use href="#rv5c5c5c" x="355.4" y="161.6"/><use href="#rv5c5c5c" x="315.3" y="167.8"/><use href="#rv5c5c5c" x="321.0" y="167.8"/><use href="#rv5c5c5c" x="326.8" y="167.8"/><use href="#rv5c5c5c" x="332.5" y="167.8"/><use href="#rv5c5c5c" x="338.2" y="167.8"/><use href="#rv5c5c5c" x="343.9" y="167.8"/><use href="#rv5c5c5c" x="349.7" y="167.8"/><use href="#rv5c5c5c" x="355.4" y="167.8"/><use href="#rv5c5c5c" x="363.0" y="117.6"/><use href="#rv5c5c5c" x="368.9" y="117.6"/><use href="#rv5c5c5c" x="374.8" y="117.6"/><use href="#rv5c5c5c" x="380.7" y="117.6"/><use href="#rv5c5c5c" x="386.6" y="117.6"/><use href="#rv5c5c5c" x="363.0" y="123.9"/><use href="#rv5c5c5c" x="368.9" y="123.9"/><use href="#rv5c5c5c" x="374.8" y="123.9"/><use href="#rv5c5c5c" x="380.7" y="123.9"/><use href="#rv5c5c5c" x="386.6" y="123.9"/><use href="#rv5c5c5c" x="363.0" y="130.2"/><use href="#rv5c5c5c" x="386.6" y="130.2"/><use href="#rv5c5c5c" x="363.0" y="136.5"/><use href="#rv5c5c5c" x="386.6" y="136.5"/><use href="#rv5c5c5c" x="363.0" y="142.8"/><use href="#rv5c5c5c" x="368.9" y="142.8"/><use href="#rv5c5c5c" x="374.8" y="142.8"/><use href="#rv5c5c5c" x="380.7" y="142.8"/><use href="#rv5c5c5c" x="386.6" y="142.8"/><use href="#rv5c5c5c" x="14.1" y="187.6"/><use href="#rv5c5c5c" x="25.5" y="187.6"/><use href="#rv5c5c5c" x="36.9" y="187.6"/><use href="#rv5c5c5c" x="48.3" y="187.6"/><use href="#rv5c5c5c" x="59.7" y="187.6"/><use href="#rv5c5c5c" x="71.1" y="187.6"/><use href="#rv5c5c5c" x="82.5" y="187.6"/><use href="#rv5c5c5c" x="93.9" y="187.6"/><use href="#rv5c5c5c" x="14.1" y="198.8"/><use href="#rv5c5c5c" x="36.9" y="198.8"/><use href="#rv5c5c5c" x="48.3" y="198.8"/><use href="#rv5c5c5c" x="59.7" y="198.8"/><use href="#rv5c5c5c" x="71.1" y="198.8"/><use href="#rv5c5c5c" x="82.5" y="198.8"/><use href="#rv5c5c5c" x="93.9" y="198.8"/><use href="#rv5c5c5c" x="36.9" y="210.0"/><use href="#rv5c5c5c" x="48.3" y="210.0"/><use href="#rv5c5c5c" x="59.7" y="210.0"/><use href="#rv5c5c5c" x="71.1" y="210.0"/><use href="#rv5c5c5c" x="82.5" y="210.0"/><use href="#rv5c5c5c" x="93.9" y="210.0"/><use href="#rv5c5c5c" x="14.1" y="221.2"/><use href="#rv5c5c5c" x="25.5" y="221.2"/><use href="#rv5c5c5c" x="36.9" y="221.2"/><use href="#rv5c5c5c" x="48.3" y="221.2"/><use href="#rv5c5c5c" x="59.7" y="221.2"/><use href="#rv5c5c5c" x="71.1" y="221.2"/><use href="#rv5c5c5c" x="82.5" y="221.2"/><use href="#rv5c5c5c" x="93.9" y="221.2"/><use href="#rv5c5c5c" x="14.1" y="232.4"/><use href="#rv5c5c5c" x="36.9" y="232.4"/><use href="#rv5c5c5c" x="48.3" y="232.4"/><use href="#rv5c5c5c" x="36.9" y="243.6"/><use href="#rv5c5c5c" x="48.3" y="243.6"/><use href="#rv5c5c5c" x="14.1" y="254.8"/><use href="#rv5c5c5c" x="25.5" y="254.8"/><use href="#rv5c5c5c" x="36.9" y="254.8"/><use href="#rv5c5c5c" x="48.3" y="254.8"/><use href="#rv5c5c5c" x="14.1" y="266.0"/><use href="#rv5c5c5c" x="25.5" y="266.0"/><use href="#rv5c5c5c" x="36.9" y="266.0"/><use href="#rv5c5c5c" x="48.3" y="266.0"/><use href="#rv5c5c5c" x="14.1" y="277.2"/><use href="#rv5c5c5c" x="25.5" y="277.2"/><use href="#rv5c5c5c" x="36.9" y="277.2"/><use href="#rv5c5c5c" x="48.3" y="277.2"/><use href="#rv5c5c5c" x="14.1" y="288.4"/><use href="#rv5c5c5c" x="25.5" y="288.4"/><use href="#rv5c5c5c" x="36.9" y="288.4"/><use href="#rv5c5c5c" x="48.3" y="288.4"/><use href="#rv5c5c5c" x="14.1" y="299.6"/><use href="#rv5c5c5c" x="25.5" y="299.6"/><use href="#rv5c5c5c" x="36.9" y="299.6"/><use href="#rv5c5c5c" x="48.3" y="299.6"/><use href="#rv5c5c5c" x="59.9" y="236.9"/><use href="#rv5c5c5c" x="65.4" y="236.9"/><use href="#rv5c5c5c" x="70.9" y="236.9"/><use href="#rv5c5c5c" x="76.4" y="236.9"/><use href="#rv5c5c5c" x="81.9" y="236.9"/><use href="#rv5c5c5c" x="87.4" y="236.9"/><use href="#rv5c5c5c" x="92.9" y="236.9"/><use href="#rv5c5c5c" x="59.9" y="242.7"/><use href="#rv5c5c5c" x="65.4" y="242.7"/><use href="#rv5c5c5c" x="70.9" y="242.7"/><use href="#rv5c5c5c" x="76.4" y="242.7"/><use href="#rv5c5c5c" x="81.9" y="242.7"/><use href="#rv5c5c5c" x="87.4" y="242.7"/><use href="#rv5c5c5c" x="92.9" y="242.7"/><use href="#rv5c5c5c" x="59.9" y="248.4"/><use href="#rv5c5c5c" x="65.4" y="248.4"/><use href="#rv5c5c5c" x="70.9" y="248.4"/><use href="#rv5c5c5c" x="76.4" y="248.4"/><use href="#rv5c5c5c" x="81.9" y="248.4"/><use href="#rv5c5c5c" x="87.4" y="248.4"/><use href="#rv5c5c5c" x="92.9" y="248.4"/><use href="#rv5c5c5c" x="59.9" y="254.2"/><use href="#rv5c5c5c" x="65.4" y="254.2"/><use href="#rv5c5c5c" x="70.9" y="254.2"/><use href="#rv5c5c5c" x="76.4" y="254.2"/><use href="#rv5c5c5c" x="81.9" y="254.2"/><use href="#rv5c5c5c" x="87.4" y="254.2"/><use href="#rv5c5c5c" x="92.9" y="254.2"/><use href="#rv5c5c5c" x="59.9" y="259.9"/><use href="#rv5c5c5c" x="65.4" y="259.9"/><use href="#rv5c5c5c" x="70.9" y="259.9"/><use href="#rv5c5c5c" x="76.4" y="259.9"/><use href="#rv5c5c5c" x="81.9" y="259.9"/><use href="#rv5c5c5c" x="87.4" y="259.9"/><use href="#rv5c5c5c" x="92.9" y="259.9"/><use href="#rv5c5c5c" x="59.9" y="265.6"/><use href="#rv5c5c5c" x="65.4" y="265.6"/><use href="#rv5c5c5c" x="70.9" y="265.6"/><use href="#rv5c5c5c" x="76.4" y="265.6"/><use href="#rv5c5c5c" x="81.9" y="265.6"/><use href="#rv5c5c5c" x="87.4" y="265.6"/><use href="#rv5c5c5c" x="92.9" y="265.6"/><use href="#rv5c5c5c" x="59.9" y="271.4"/><use href="#rv5c5c5c" x="65.4" y="271.4"/><use href="#rv5c5c5c" x="70.9" y="271.4"/><use href="#rv5c5c5c" x="76.4" y="271.4"/><use href="#rv5c5c5c" x="81.9" y="271.4"/><use href="#rv5c5c5c" x="87.4" y="271.4"/><use href="#rv5c5c5c" x="92.9" y="271.4"/><use href="#rv5c5c5c" x="59.9" y="277.1"/><use href="#rv5c5c5c" x="65.4" y="277.1"/><use href="#rv5c5c5c" x="70.9" y="277.1"/><use href="#rv5c5c5c" x="76.4" y="277.1"/><use href="#rv5c5c5c" x="81.9" y="277.1"/><use href="#rv5c5c5c" x="87.4" y="277.1"/><use href="#rv5c5c5c" x="92.9" y="277.1"/><use href="#rv5c5c5c" x="111.0" y="147.6"/><use href="#rv5c5c5c" x="116.7" y="147.6"/><use href="#rv5c5c5c" x="122.4" y="147.6"/><use href="#rv5c5c5c" x="128.1" y="147.6"/><use href="#rv5c5c5c" x="111.0" y="153.6"/><use href="#rv5c5c5c" x="116.7" y="153.6"/><use href="#rv5c5c5c" x="122.4" y="153.6"/><use href="#rv5c5c5c" x="128.1" y="153.6"/><use href="#rv5c5c5c" x="111.0" y="159.6"/><use href="#rv5c5c5c" x="116.7" y="159.6"/><use href="#rv5c5c5c" x="122.4" y="159.6"/><use href="#rv5c5c5c" x="128.1" y="159.6"/><use href="#rv5c5c5c" x="111.0" y="165.6"/><use href="#rv5c5c5c" x="116.7" y="165.6"/><use href="#rv5c5c5c" x="122.4" y="165.6"/><use href="#rv5c5c5c" x="128.1" y="165.6"/><use href="#rv5c5c5c" x="111.0" y="171.6"/><use href="#rv5c5c5c" x="116.7" y="171.6"/><use href="#rv5c5c5c" x="122.4" y="171.6"/><use href="#rv5c5c5c" x="128.1" y="171.6"/><use href="#rv5c5c5c" x="55.3" y="304.7"/><use href="#rv5c5c5c" x="60.3" y="304.7"/><use href="#rv5c5c5c" x="65.3" y="304.7"/><use href="#rv5c5c5c" x="70.3" y="304.7"/><use href="#rv5c5c5c" x="55.3" y="333.0"/><use href="#rv5c5c5c" x="60.3" y="333.0"/><use href="#rv5c5c5c" x="65.3" y="333.0"/><use href="#rv5c5c5c" x="70.3" y="333.0"/><use href="#rv5c5c5c" x="42.5" y="311.5"/><use href="#rv5c5c5c" x="47.7" y="311.5"/><use href="#rv5c5c5c" x="42.5" y="317.2"/><use href="#rv5c5c5c" x="47.7" y="317.2"/><use href="#rv5c5c5c" x="42.5" y="322.9"/><use href="#rv5c5c5c" x="47.7" y="322.9"/><use href="#rv5c5c5c" x="42.5" y="328.6"/><use href="#rv5c5c5c" x="47.7" y="328.6"/><use href="#rv5c5c5c" x="77.3" y="311.5"/><use href="#rv5c5c5c" x="82.5" y="311.5"/><use href="#rv5c5c5c" x="77.3" y="317.2"/><use href="#rv5c5c5c" x="82.5" y="317.2"/><use href="#rv5c5c5c" x="77.3" y="322.9"/><use href="#rv5c5c5c" x="82.5" y="322.9"/><use href="#rv5c5c5c" x="77.3" y="328.6"/><use href="#rv5c5c5c" x="82.5" y="328.6"/><use href="#rv5c5c5c" x="305.3" y="207.2"/><use href="#rv5c5c5c" x="311.0" y="207.2"/><use href="#rv5c5c5c" x="316.7" y="207.2"/><use href="#rv5c5c5c" x="322.4" y="207.2"/><use href="#rv5c5c5c" x="305.3" y="213.0"/><use href="#rv5c5c5c" x="311.0" y="213.0"/><use href="#rv5c5c5c" x="316.7" y="213.0"/><use href="#rv5c5c5c" x="322.4" y="213.0"/><use href="#rv5c5c5c" x="305.3" y="218.9"/><use href="#rv5c5c5c" x="311.0" y="218.9"/><use href="#rv5c5c5c" x="316.7" y="218.9"/><use href="#rv5c5c5c" x="322.4" y="218.9"/><use href="#rv5c5c5c" x="305.3" y="224.7"/><use href="#rv5c5c5c" x="311.0" y="224.7"/><use href="#rv5c5c5c" x="316.7" y="224.7"/><use href="#rv5c5c5c" x="322.4" y="224.7"/><use href="#rv5c5c5c" x="305.3" y="230.5"/><use href="#rv5c5c5c" x="311.0" y="230.5"/><use href="#rv5c5c5c" x="316.7" y="230.5"/><use href="#rv5c5c5c" x="322.4" y="230.5"/><use href="#rv5c5c5c" x="305.3" y="236.3"/><use href="#rv5c5c5c" x="311.0" y="236.3"/><use href="#rv5c5c5c" x="316.7" y="236.3"/><use href="#rv5c5c5c" x="322.4" y="236.3"/><use href="#rv5c5c5c" x="305.3" y="242.2"/><use href="#rv5c5c5c" x="311.0" y="242.2"/><use href="#rv5c5c5c" x="316.7" y="242.2"/><use href="#rv5c5c5c" x="322.4" y="242.2"/><use href="#rv5c5c5c" x="305.3" y="248.0"/><use href="#rv5c5c5c" x="311.0" y="248.0"/><use href="#rv5c5c5c" x="316.7" y="248.0"/><use href="#rv5c5c5c" x="322.4" y="248.0"/><use href="#rv5c5c5c" x="305.3" y="253.8"/><use href="#rv5c5c5c" x="311.0" y="253.8"/><use href="#rv5c5c5c" x="316.7" y="253.8"/><use href="#rv5c5c5c" x="322.4" y="253.8"/><use href="#rv5c5c5c" x="305.3" y="259.7"/><use href="#rv5c5c5c" x="311.0" y="259.7"/><use href="#rv5c5c5c" x="316.7" y="259.7"/><use href="#rv5c5c5c" x="322.4" y="259.7"/><use href="#rv5c5c5c" x="305.3" y="265.5"/><use href="#rv5c5c5c" x="311.0" y="265.5"/><use href="#rv5c5c5c" x="316.7" y="265.5"/><use href="#rv5c5c5c" x="322.4" y="265.5"/><use href="#rv5c5c5c" x="305.3" y="271.3"/><use href="#rv5c5c5c" x="311.0" y="271.3"/><use href="#rv5c5c5c" x="316.7" y="271.3"/><use href="#rv5c5c5c" x="322.4" y="271.3"/><use href="#rv5c5c5c" x="305.3" y="277.2"/><use href="#rv5c5c5c" x="311.0" y="277.2"/><use href="#rv5c5c5c" x="316.7" y="277.2"/><use href="#rv5c5c5c" x="322.4" y="277.2"/><use href="#rv5c5c5c" x="305.3" y="283.0"/><use href="#rv5c5c5c" x="311.0" y="283.0"/><use href="#rv5c5c5c" x="316.7" y="283.0"/><use href="#rv5c5c5c" x="322.4" y="283.0"/><use href="#rv5c5c5c" x="305.3" y="288.8"/><use href="#rv5c5c5c" x="311.0" y="288.8"/><use href="#rv5c5c5c" x="316.7" y="288.8"/><use href="#rv5c5c5c" x="322.4" y="288.8"/><use href="#rv5c5c5c" x="305.3" y="294.6"/><use href="#rv5c5c5c" x="311.0" y="294.6"/><use href="#rv5c5c5c" x="316.7" y="294.6"/><use href="#rv5c5c5c" x="322.4" y="294.6"/><use href="#rv5c5c5c" x="305.3" y="300.5"/><use href="#rv5c5c5c" x="311.0" y="300.5"/><use href="#rv5c5c5c" x="316.7" y="300.5"/><use href="#rv5c5c5c" x="322.4" y="300.5"/><use href="#rv5c5c5c" x="305.3" y="306.3"/><use href="#rv5c5c5c" x="311.0" y="306.3"/><use href="#rv5c5c5c" x="316.7" y="306.3"/><use href="#rv5c5c5c" x="322.4" y="306.3"/><use href="#rv5c5c5c" x="305.3" y="312.1"/><use href="#rv5c5c5c" x="311.0" y="312.1"/><use href="#rv5c5c5c" x="316.7" y="312.1"/><use href="#rv5c5c5c" x="322.4" y="312.1"/><use href="#rv5c5c5c" x="305.3" y="318.0"/><use href="#rv5c5c5c" x="311.0" y="318.0"/><use href="#rv5c5c5c" x="316.7" y="318.0"/><use href="#rv5c5c5c" x="322.4" y="318.0"/><use href="#rv5c5c5c" x="305.3" y="323.8"/><use href="#rv5c5c5c" x="311.0" y="323.8"/><use href="#rv5c5c5c" x="316.7" y="323.8"/><use href="#rv5c5c5c" x="322.4" y="323.8"/><use href="#rv5c5c5c" x="305.3" y="329.6"/><use href="#rv5c5c5c" x="311.0" y="329.6"/><use href="#rv5c5c5c" x="316.7" y="329.6"/><use href="#rv5c5c5c" x="322.4" y="329.6"/><use href="#rv5c5c5c" x="65.2" y="88.3"/><use href="#rv5c5c5c" x="75.2" y="84.3"/><use href="#rv5c5c5c" x="100.8" y="80.0"/><use href="#rv5c5c5c" x="120.3" y="82.5"/><use href="#rv5c5c5c" x="122.9" y="80.5"/><use href="#rv5c5c5c" x="138.4" y="72.5"/><use href="#rv5c5c5c" x="140.4" y="83.3"/><use href="#rv5c5c5c" x="135.4" y="85.8"/><use href="#rv5c5c5c" x="141.7" y="89.3"/><use href="#rv5c5c5c" x="106.6" y="96.3"/><use href="#rv5c5c5c" x="161.7" y="103.3"/><use href="#rv5c5c5c" x="155.4" y="108.4"/><use href="#rv5c5c5c" x="143.7" y="113.1"/><use href="#rv5c5c5c" x="230.7" y="94.6"/><use href="#rv5c5c5c" x="229.9" y="172.0"/><use href="#rv5c5c5c" x="263.2" y="90.5"/><use href="#rv5c5c5c" x="269.4" y="95.0"/><use href="#rv5c5c5c" x="284.7" y="101.6"/><use href="#rv5c5c5c" x="292.7" y="198.2"/><circle cx="144.2" cy="69.2" r="1.70" fill="#000" /><circle cx="144.2" cy="69.2" r="0.80" fill="#5c5c5c" /><circle cx="90.7" cy="100.6" r="1.70" fill="#000" /><circle cx="90.7" cy="100.6" r="0.80" fill="#5c5c5c" /><circle cx="156.7" cy="126.9" r="1.70" fill="#000" /><circle cx="156.7" cy="126.9" r="0.80" fill="#5c5c5c" /><circle cx="216.9" cy="78.8" r="1.70" fill="#000" /><circle cx="216.9" cy="78.8" r="0.80" fill="#5c5c5c" /><circle cx="222.7" cy="78.8" r="1.70" fill="#000" /><circle cx="222.7" cy="78.8" r="0.80" fill="#5c5c5c" /><circle cx="216.9" cy="188.2" r="1.70" fill="#000" /><circle cx="216.9" cy="188.2" r="0.80" fill="#5c5c5c" /><circle cx="222.7" cy="188.2" r="1.70" fill="#000" /><circle cx="222.7" cy="188.2" r="0.80" fill="#5c5c5c" /><rect x="364.9" y="93.4" width="3.6" height="3.6" fill="#d8d8d8"/><rect x="365.9" y="94.4" width="1.6" height="1.6" fill="#5c5c5c"/><use href="#dv" x="218.6" y="200.5"/><use href="#dv" x="223.8" y="200.5"/><use href="#dv" x="229.0" y="200.5"/><use href="#dv" x="234.2" y="200.5"/><use href="#dv" x="239.4" y="200.5"/><use href="#dv" x="244.6" y="200.5"/><use href="#dv" x="249.7" y="200.5"/><use href="#dv" x="254.9" y="200.5"/><use href="#dv" x="260.1" y="200.5"/><use href="#dv" x="265.3" y="200.5"/><use href="#dv" x="270.5" y="200.5"/><use href="#dv" x="275.7" y="200.5"/><use href="#dv" x="280.9" y="200.5"/><use href="#dv" x="286.1" y="200.5"/><use href="#dv" x="218.6" y="206.4"/><use href="#dv" x="223.8" y="206.4"/><use href="#dv" x="229.0" y="206.4"/><use href="#dv" x="234.2" y="206.4"/><use href="#dv" x="239.4" y="206.4"/><use href="#dv" x="244.6" y="206.4"/><use href="#dv" x="249.7" y="206.4"/><use href="#dv" x="254.9" y="206.4"/><use href="#dv" x="260.1" y="206.4"/><use href="#dv" x="265.3" y="206.4"/><use href="#dv" x="270.5" y="206.4"/><use href="#dv" x="275.7" y="206.4"/><use href="#dv" x="280.9" y="206.4"/><use href="#dv" x="286.1" y="206.4"/><use href="#dv" x="218.6" y="212.2"/><use href="#dv" x="223.8" y="212.2"/><use href="#dv" x="229.0" y="212.2"/><use href="#dv" x="234.2" y="212.2"/><use href="#dv" x="239.4" y="212.2"/><use href="#dv" x="244.6" y="212.2"/><use href="#dv" x="249.7" y="212.2"/><use href="#dv" x="254.9" y="212.2"/><use href="#dv" x="260.1" y="212.2"/><use href="#dv" x="265.3" y="212.2"/><use href="#dv" x="270.5" y="212.2"/><use href="#dv" x="275.7" y="212.2"/><use href="#dv" x="280.9" y="212.2"/><use href="#dv" x="286.1" y="212.2"/><use href="#dv" x="218.6" y="218.1"/><use href="#dv" x="223.8" y="218.1"/><use href="#dv" x="229.0" y="218.1"/><use href="#dv" x="234.2" y="218.1"/><use href="#dv" x="239.4" y="218.1"/><use href="#dv" x="244.6" y="218.1"/><use href="#dv" x="249.7" y="218.1"/><use href="#dv" x="254.9" y="218.1"/><use href="#dv" x="260.1" y="218.1"/><use href="#dv" x="265.3" y="218.1"/><use href="#dv" x="270.5" y="218.1"/><use href="#dv" x="275.7" y="218.1"/><use href="#dv" x="280.9" y="218.1"/><use href="#dv" x="286.1" y="218.1"/><use href="#dv" x="218.6" y="223.9"/><use href="#dv" x="223.8" y="223.9"/><use href="#dv" x="229.0" y="223.9"/><use href="#dv" x="234.2" y="223.9"/><use href="#dv" x="239.4" y="223.9"/><use href="#dv" x="244.6" y="223.9"/><use href="#dv" x="249.7" y="223.9"/><use href="#dv" x="254.9" y="223.9"/><use href="#dv" x="260.1" y="223.9"/><use href="#dv" x="265.3" y="223.9"/><use href="#dv" x="270.5" y="223.9"/><use href="#dv" x="275.7" y="223.9"/><use href="#dv" x="280.9" y="223.9"/><use href="#dv" x="286.1" y="223.9"/><use href="#dv" x="218.6" y="229.8"/><use href="#dv" x="223.8" y="229.8"/><use href="#dv" x="229.0" y="229.8"/><use href="#dv" x="234.2" y="229.8"/><use href="#dv" x="239.4" y="229.8"/><use href="#dv" x="244.6" y="229.8"/><use href="#dv" x="249.7" y="229.8"/><use href="#dv" x="254.9" y="229.8"/><use href="#dv" x="260.1" y="229.8"/><use href="#dv" x="265.3" y="229.8"/><use href="#dv" x="270.5" y="229.8"/><use href="#dv" x="275.7" y="229.8"/><use href="#dv" x="280.9" y="229.8"/><use href="#dv" x="286.1" y="229.8"/><use href="#dv" x="218.6" y="235.7"/><use href="#dv" x="223.8" y="235.7"/><use href="#dv" x="229.0" y="235.7"/><use href="#dv" x="234.2" y="235.7"/><use href="#dv" x="239.4" y="235.7"/><use href="#dv" x="244.6" y="235.7"/><use href="#dv" x="249.7" y="235.7"/><use href="#dv" x="254.9" y="235.7"/><use href="#dv" x="260.1" y="235.7"/><use href="#dv" x="265.3" y="235.7"/><use href="#dv" x="270.5" y="235.7"/><use href="#dv" x="275.7" y="235.7"/><use href="#dv" x="280.9" y="235.7"/><use href="#dv" x="286.1" y="235.7"/><use href="#dv" x="218.6" y="241.5"/><use href="#dv" x="223.8" y="241.5"/><use href="#dv" x="229.0" y="241.5"/><use href="#dv" x="234.2" y="241.5"/><use href="#dv" x="239.4" y="241.5"/><use href="#dv" x="244.6" y="241.5"/><use href="#dv" x="249.7" y="241.5"/><use href="#dv" x="254.9" y="241.5"/><use href="#dv" x="260.1" y="241.5"/><use href="#dv" x="265.3" y="241.5"/><use href="#dv" x="270.5" y="241.5"/><use href="#dv" x="275.7" y="241.5"/><use href="#dv" x="280.9" y="241.5"/><use href="#dv" x="286.1" y="241.5"/><use href="#dv" x="218.6" y="247.4"/><use href="#dv" x="223.8" y="247.4"/><use href="#dv" x="229.0" y="247.4"/><use href="#dv" x="234.2" y="247.4"/><use href="#dv" x="239.4" y="247.4"/><use href="#dv" x="244.6" y="247.4"/><use href="#dv" x="249.7" y="247.4"/><use href="#dv" x="254.9" y="247.4"/><use href="#dv" x="260.1" y="247.4"/><use href="#dv" x="265.3" y="247.4"/><use href="#dv" x="270.5" y="247.4"/><use href="#dv" x="275.7" y="247.4"/><use href="#dv" x="280.9" y="247.4"/><use href="#dv" x="286.1" y="247.4"/><use href="#dv" x="218.6" y="253.2"/><use href="#dv" x="223.8" y="253.2"/><use href="#dv" x="229.0" y="253.2"/><use href="#dv" x="234.2" y="253.2"/><use href="#dv" x="239.4" y="253.2"/><use href="#dv" x="244.6" y="253.2"/><use href="#dv" x="249.7" y="253.2"/><use href="#dv" x="254.9" y="253.2"/><use href="#dv" x="260.1" y="253.2"/><use href="#dv" x="265.3" y="253.2"/><use href="#dv" x="270.5" y="253.2"/><use href="#dv" x="275.7" y="253.2"/><use href="#dv" x="280.9" y="253.2"/><use href="#dv" x="286.1" y="253.2"/><use href="#dv" x="218.6" y="259.1"/><use href="#dv" x="223.8" y="259.1"/><use href="#dv" x="229.0" y="259.1"/><use href="#dv" x="234.2" y="259.1"/><use href="#dv" x="239.4" y="259.1"/><use href="#dv" x="244.6" y="259.1"/><use href="#dv" x="249.7" y="259.1"/><use href="#dv" x="254.9" y="259.1"/><use href="#dv" x="260.1" y="259.1"/><use href="#dv" x="265.3" y="259.1"/><use href="#dv" x="270.5" y="259.1"/><use href="#dv" x="275.7" y="259.1"/><use href="#dv" x="280.9" y="259.1"/><use href="#dv" x="286.1" y="259.1"/><use href="#dv" x="218.6" y="265.0"/><use href="#dv" x="223.8" y="265.0"/><use href="#dv" x="229.0" y="265.0"/><use href="#dv" x="234.2" y="265.0"/><use href="#dv" x="239.4" y="265.0"/><use href="#dv" x="244.6" y="265.0"/><use href="#dv" x="249.7" y="265.0"/><use href="#dv" x="254.9" y="265.0"/><use href="#dv" x="260.1" y="265.0"/><use href="#dv" x="265.3" y="265.0"/><use href="#dv" x="270.5" y="265.0"/><use href="#dv" x="275.7" y="265.0"/><use href="#dv" x="280.9" y="265.0"/><use href="#dv" x="286.1" y="265.0"/><use href="#dv" x="218.6" y="270.8"/><use href="#dv" x="223.8" y="270.8"/><use href="#dv" x="229.0" y="270.8"/><use href="#dv" x="234.2" y="270.8"/><use href="#dv" x="239.4" y="270.8"/><use href="#dv" x="244.6" y="270.8"/><use href="#dv" x="249.7" y="270.8"/><use href="#dv" x="254.9" y="270.8"/><use href="#dv" x="260.1" y="270.8"/><use href="#dv" x="265.3" y="270.8"/><use href="#dv" x="270.5" y="270.8"/><use href="#dv" x="275.7" y="270.8"/><use href="#dv" x="280.9" y="270.8"/><use href="#dv" x="286.1" y="270.8"/><use href="#dv" x="218.6" y="276.7"/><use href="#dv" x="223.8" y="276.7"/><use href="#dv" x="229.0" y="276.7"/><use href="#dv" x="234.2" y="276.7"/><use href="#dv" x="239.4" y="276.7"/><use href="#dv" x="244.6" y="276.7"/><use href="#dv" x="249.7" y="276.7"/><use href="#dv" x="254.9" y="276.7"/><use href="#dv" x="260.1" y="276.7"/><use href="#dv" x="265.3" y="276.7"/><use href="#dv" x="270.5" y="276.7"/><use href="#dv" x="275.7" y="276.7"/><use href="#dv" x="280.9" y="276.7"/><use href="#dv" x="286.1" y="276.7"/><use href="#dv" x="218.6" y="282.5"/><use href="#dv" x="223.8" y="282.5"/><use href="#dv" x="229.0" y="282.5"/><use href="#dv" x="234.2" y="282.5"/><use href="#dv" x="239.4" y="282.5"/><use href="#dv" x="244.6" y="282.5"/><use href="#dv" x="249.7" y="282.5"/><use href="#dv" x="254.9" y="282.5"/><use href="#dv" x="260.1" y="282.5"/><use href="#dv" x="265.3" y="282.5"/><use href="#dv" x="270.5" y="282.5"/><use href="#dv" x="275.7" y="282.5"/><use href="#dv" x="280.9" y="282.5"/><use href="#dv" x="286.1" y="282.5"/><use href="#dv" x="218.6" y="288.4"/><use href="#dv" x="223.8" y="288.4"/><use href="#dv" x="229.0" y="288.4"/><use href="#dv" x="234.2" y="288.4"/><use href="#dv" x="239.4" y="288.4"/><use href="#dv" x="244.6" y="288.4"/><use href="#dv" x="249.7" y="288.4"/><use href="#dv" x="254.9" y="288.4"/><use href="#dv" x="260.1" y="288.4"/><use href="#dv" x="265.3" y="288.4"/><use href="#dv" x="270.5" y="288.4"/><use href="#dv" x="275.7" y="288.4"/><use href="#dv" x="280.9" y="288.4"/><use href="#dv" x="286.1" y="288.4"/><use href="#dv" x="218.6" y="294.3"/><use href="#dv" x="223.8" y="294.3"/><use href="#dv" x="229.0" y="294.3"/><use href="#dv" x="234.2" y="294.3"/><use href="#dv" x="239.4" y="294.3"/><use href="#dv" x="244.6" y="294.3"/><use href="#dv" x="249.7" y="294.3"/><use href="#dv" x="254.9" y="294.3"/><use href="#dv" x="260.1" y="294.3"/><use href="#dv" x="265.3" y="294.3"/><use href="#dv" x="270.5" y="294.3"/><use href="#dv" x="275.7" y="294.3"/><use href="#dv" x="280.9" y="294.3"/><use href="#dv" x="286.1" y="294.3"/><use href="#dv" x="218.6" y="300.1"/><use href="#dv" x="223.8" y="300.1"/><use href="#dv" x="229.0" y="300.1"/><use href="#dv" x="234.2" y="300.1"/><use href="#dv" x="239.4" y="300.1"/><use href="#dv" x="244.6" y="300.1"/><use href="#dv" x="249.7" y="300.1"/><use href="#dv" x="254.9" y="300.1"/><use href="#dv" x="260.1" y="300.1"/><use href="#dv" x="265.3" y="300.1"/><use href="#dv" x="270.5" y="300.1"/><use href="#dv" x="275.7" y="300.1"/><use href="#dv" x="280.9" y="300.1"/><use href="#dv" x="286.1" y="300.1"/><use href="#dv" x="218.6" y="306.0"/><use href="#dv" x="223.8" y="306.0"/><use href="#dv" x="229.0" y="306.0"/><use href="#dv" x="234.2" y="306.0"/><use href="#dv" x="239.4" y="306.0"/><use href="#dv" x="244.6" y="306.0"/><use href="#dv" x="249.7" y="306.0"/><use href="#dv" x="254.9" y="306.0"/><use href="#dv" x="260.1" y="306.0"/><use href="#dv" x="265.3" y="306.0"/><use href="#dv" x="270.5" y="306.0"/><use href="#dv" x="275.7" y="306.0"/><use href="#dv" x="280.9" y="306.0"/><use href="#dv" x="286.1" y="306.0"/><use href="#dv" x="218.6" y="311.8"/><use href="#dv" x="223.8" y="311.8"/><use href="#dv" x="229.0" y="311.8"/><use href="#dv" x="234.2" y="311.8"/><use href="#dv" x="239.4" y="311.8"/><use href="#dv" x="244.6" y="311.8"/><use href="#dv" x="249.7" y="311.8"/><use href="#dv" x="254.9" y="311.8"/><use href="#dv" x="260.1" y="311.8"/><use href="#dv" x="265.3" y="311.8"/><use href="#dv" x="270.5" y="311.8"/><use href="#dv" x="275.7" y="311.8"/><use href="#dv" x="280.9" y="311.8"/><use href="#dv" x="286.1" y="311.8"/><use href="#dv" x="218.6" y="317.7"/><use href="#dv" x="223.8" y="317.7"/><use href="#dv" x="229.0" y="317.7"/><use href="#dv" x="234.2" y="317.7"/><use href="#dv" x="239.4" y="317.7"/><use href="#dv" x="244.6" y="317.7"/><use href="#dv" x="249.7" y="317.7"/><use href="#dv" x="254.9" y="317.7"/><use href="#dv" x="260.1" y="317.7"/><use href="#dv" x="265.3" y="317.7"/><use href="#dv" x="270.5" y="317.7"/><use href="#dv" x="275.7" y="317.7"/><use href="#dv" x="280.9" y="317.7"/><use href="#dv" x="286.1" y="317.7"/><use href="#dv" x="218.6" y="323.6"/><use href="#dv" x="223.8" y="323.6"/><use href="#dv" x="229.0" y="323.6"/><use href="#dv" x="234.2" y="323.6"/><use href="#dv" x="239.4" y="323.6"/><use href="#dv" x="244.6" y="323.6"/><use href="#dv" x="249.7" y="323.6"/><use href="#dv" x="254.9" y="323.6"/><use href="#dv" x="260.1" y="323.6"/><use href="#dv" x="265.3" y="323.6"/><use href="#dv" x="270.5" y="323.6"/><use href="#dv" x="275.7" y="323.6"/><use href="#dv" x="280.9" y="323.6"/><use href="#dv" x="286.1" y="323.6"/><use href="#dv" x="218.6" y="329.4"/><use href="#dv" x="223.8" y="329.4"/><use href="#dv" x="229.0" y="329.4"/><use href="#dv" x="234.2" y="329.4"/><use href="#dv" x="239.4" y="329.4"/><use href="#dv" x="244.6" y="329.4"/><use href="#dv" x="249.7" y="329.4"/><use href="#dv" x="254.9" y="329.4"/><use href="#dv" x="260.1" y="329.4"/><use href="#dv" x="265.3" y="329.4"/><use href="#dv" x="270.5" y="329.4"/><use href="#dv" x="275.7" y="329.4"/><use href="#dv" x="280.9" y="329.4"/><use href="#dv" x="286.1" y="329.4"/><use href="#dv" x="119.6" y="236.9"/><use href="#dv" x="124.4" y="236.9"/><use href="#dv" x="129.2" y="236.9"/><use href="#dv" x="134.0" y="236.9"/><use href="#dv" x="138.8" y="236.9"/><use href="#dv" x="143.6" y="236.9"/><use href="#dv" x="148.4" y="236.9"/><use href="#dv" x="153.2" y="236.9"/><use href="#dv" x="119.6" y="242.6"/><use href="#dv" x="124.4" y="242.6"/><use href="#dv" x="129.2" y="242.6"/><use href="#dv" x="134.0" y="242.6"/><use href="#dv" x="138.8" y="242.6"/><use href="#dv" x="143.6" y="242.6"/><use href="#dv" x="148.4" y="242.6"/><use href="#dv" x="153.2" y="242.6"/><use href="#dv" x="119.6" y="248.3"/><use href="#dv" x="124.4" y="248.3"/><use href="#dv" x="129.2" y="248.3"/><use href="#dv" x="134.0" y="248.3"/><use href="#dv" x="138.8" y="248.3"/><use href="#dv" x="143.6" y="248.3"/><use href="#dv" x="148.4" y="248.3"/><use href="#dv" x="153.2" y="248.3"/><use href="#dv" x="119.6" y="254.0"/><use href="#dv" x="124.4" y="254.0"/><use href="#dv" x="129.2" y="254.0"/><use href="#dv" x="134.0" y="254.0"/><use href="#dv" x="138.8" y="254.0"/><use href="#dv" x="143.6" y="254.0"/><use href="#dv" x="148.4" y="254.0"/><use href="#dv" x="153.2" y="254.0"/><use href="#dv" x="119.6" y="259.7"/><use href="#dv" x="124.4" y="259.7"/><use href="#dv" x="129.2" y="259.7"/><use href="#dv" x="134.0" y="259.7"/><use href="#dv" x="138.8" y="259.7"/><use href="#dv" x="143.6" y="259.7"/><use href="#dv" x="148.4" y="259.7"/><use href="#dv" x="153.2" y="259.7"/><use href="#dv" x="119.6" y="265.4"/><use href="#dv" x="124.4" y="265.4"/><use href="#dv" x="129.2" y="265.4"/><use href="#dv" x="134.0" y="265.4"/><use href="#dv" x="138.8" y="265.4"/><use href="#dv" x="143.6" y="265.4"/><use href="#dv" x="148.4" y="265.4"/><use href="#dv" x="153.2" y="265.4"/><use href="#dv" x="119.6" y="271.1"/><use href="#dv" x="124.4" y="271.1"/><use href="#dv" x="129.2" y="271.1"/><use href="#dv" x="134.0" y="271.1"/><use href="#dv" x="138.8" y="271.1"/><use href="#dv" x="143.6" y="271.1"/><use href="#dv" x="148.4" y="271.1"/><use href="#dv" x="153.2" y="271.1"/><use href="#dv" x="119.6" y="276.8"/><use href="#dv" x="124.4" y="276.8"/><use href="#dv" x="129.2" y="276.8"/><use href="#dv" x="134.0" y="276.8"/><use href="#dv" x="138.8" y="276.8"/><use href="#dv" x="143.6" y="276.8"/><use href="#dv" x="148.4" y="276.8"/><use href="#dv" x="153.2" y="276.8"/><use href="#dv" x="88.1" y="115.0"/><use href="#dv" x="94.0" y="115.0"/><use href="#dv" x="98.3" y="115.0"/><use href="#dv" x="82.0" y="120.1"/><use href="#dv" x="88.1" y="120.1"/><use href="#dv" x="94.0" y="120.1"/><use href="#dv" x="98.3" y="120.1"/><use href="#dv" x="76.2" y="125.5"/><use href="#dv" x="82.0" y="125.5"/><use href="#dv" x="88.1" y="125.5"/><use href="#dv" x="94.0" y="125.5"/><use href="#dv" x="69.6" y="131.0"/><use href="#dv" x="76.2" y="131.0"/><use href="#dv" x="82.0" y="131.0"/><use href="#dv" x="88.1" y="131.0"/><use href="#dv" x="94.0" y="131.0"/><use href="#dv" x="69.6" y="136.4"/><use href="#dv" x="76.2" y="136.4"/><use href="#dv" x="82.0" y="136.4"/><use href="#dv" x="88.1" y="136.4"/><use href="#dv" x="94.0" y="136.4"/><use href="#dv" x="69.6" y="141.9"/><use href="#dv" x="76.2" y="141.9"/><use href="#dv" x="82.0" y="141.9"/><use href="#dv" x="88.1" y="141.9"/><use href="#dv" x="94.0" y="141.9"/><use href="#dv" x="69.6" y="147.3"/><use href="#dv" x="76.2" y="147.3"/><use href="#dv" x="82.0" y="147.3"/><use href="#dv" x="88.1" y="147.3"/><use href="#dv" x="94.0" y="147.3"/><use href="#dv" x="107.0" y="104.0"/><use href="#dv" x="110.0" y="106.0"/><use href="#dv" x="108.0" y="110.0"/><use href="#dv" x="111.4" y="112.0"/><use href="#dv" x="113.0" y="108.0"/><use href="#dv" x="117.5" y="300.5"/><use href="#dv" x="122.1" y="300.5"/><use href="#dv" x="126.7" y="300.5"/><use href="#dv" x="131.3" y="300.5"/><use href="#dv" x="135.9" y="300.5"/><use href="#dv" x="117.5" y="330.0"/><use href="#dv" x="122.1" y="330.0"/><use href="#dv" x="126.7" y="330.0"/><use href="#dv" x="131.3" y="330.0"/><use href="#dv" x="135.9" y="330.0"/><use href="#dv" x="112.0" y="306.0"/><use href="#dv" x="112.0" y="312.0"/><use href="#dv" x="112.0" y="318.0"/><use href="#dv" x="112.0" y="324.0"/><use href="#dv" x="116.0" y="306.0"/><use href="#dv" x="116.0" y="312.0"/><use href="#dv" x="116.0" y="318.0"/><use href="#dv" x="116.0" y="324.0"/><use href="#dv" x="139.0" y="306.0"/><use href="#dv" x="139.0" y="312.0"/><use href="#dv" x="139.0" y="318.0"/><use href="#dv" x="139.0" y="324.0"/><use href="#dv" x="143.0" y="306.0"/><use href="#dv" x="143.0" y="312.0"/><use href="#dv" x="143.0" y="318.0"/><use href="#dv" x="143.0" y="324.0"/></g><polygon points="703.0,490.0 834.0,490.0 834.0,492.5 722.0,494.0 708.5,507.5 708.5,519.0 704.5,519.0 702.5,493.0" fill="#fff"/><polyline points="589.6,480.0 661.6,480.0 666.7,484.1 674.0,484.1 693.6,465.2 694.4,463.0" fill="none" stroke="#fff" stroke-width="3.5" stroke-linejoin="round"/><polyline points="589.6,480.0 661.6,480.0 666.7,484.1 674.0,484.1 693.6,465.2 694.4,463.0" fill="none" stroke="#5c5c5c" stroke-width="1.5" stroke-linejoin="round"/><polyline points="641.6,488.5 677.6,489.2 696.5,467.4 714.0,467.4 716.2,463.0" fill="none" stroke="#fff" stroke-width="3.5" stroke-linejoin="round"/><polyline points="641.6,488.5 677.6,489.2 696.5,467.4 714.0,467.4 716.2,463.0" fill="none" stroke="#5c5c5c" stroke-width="1.5" stroke-linejoin="round"/><polyline points="631.8,492.5 583.1,492.5 579.5,496.5 579.5,530.6 586.0,537.2 588.9,540.5" fill="none" stroke="#fff" stroke-width="3.5" stroke-linejoin="round"/><polyline points="631.8,492.5 583.1,492.5 579.5,496.5 579.5,530.6 586.0,537.2 588.9,540.5" fill="none" stroke="#5c5c5c" stroke-width="1.5" stroke-linejoin="round"/><polyline points="589.6,501.3 673.3,500.4" fill="none" stroke="#fff" stroke-width="3.5" stroke-linejoin="round"/><polyline points="589.6,501.3 673.3,500.4" fill="none" stroke="#5c5c5c" stroke-width="1.5" stroke-linejoin="round"/><polyline points="589.6,501.3 589.6,523.4 596.9,530.6 596.9,545.9 591.8,549.5 589.6,551.0" fill="none" stroke="#fff" stroke-width="3.5" stroke-linejoin="round"/><polyline points="589.6,501.3 589.6,523.4 596.9,530.6 596.9,545.9 591.8,549.5 589.6,551.0" fill="none" stroke="#5c5c5c" stroke-width="1.5" stroke-linejoin="round"/><polyline points="704.4,476.3 844.0,476.3 868.0,499.9 933.9,499.9" fill="none" stroke="#fff" stroke-width="3.5" stroke-linejoin="round"/><polyline points="704.4,476.3 844.0,476.3 868.0,499.9 933.9,499.9" fill="none" stroke="#5c5c5c" stroke-width="1.5" stroke-linejoin="round"/><polyline points="706.5,486.8 839.6,486.8 860.4,507.5 860.4,602.5" fill="none" stroke="#fff" stroke-width="3.5" stroke-linejoin="round"/><polyline points="706.5,486.8 839.6,486.8 860.4,507.5 860.4,602.5" fill="none" stroke="#5c5c5c" stroke-width="1.5" stroke-linejoin="round"/><polyline points="702.2,490.1 834.2,491.2 850.6,505.4" fill="none" stroke="#fff" stroke-width="3.5" stroke-linejoin="round"/><polyline points="702.2,490.1 834.2,491.2 850.6,505.4" fill="none" stroke="#5c5c5c" stroke-width="1.5" stroke-linejoin="round"/><polyline points="829.8,494.5 724.0,494.5 709.8,508.6 709.8,517.4" fill="none" stroke="#fff" stroke-width="3.5" stroke-linejoin="round"/><polyline points="829.8,494.5 724.0,494.5 709.8,508.6 709.8,517.4" fill="none" stroke="#5c5c5c" stroke-width="1.5" stroke-linejoin="round"/><polyline points="836.4,499.5 833.0,503.2 730.5,503.2 721.8,511.9" fill="none" stroke="#fff" stroke-width="3.5" stroke-linejoin="round"/><polyline points="836.4,499.5 833.0,503.2 730.5,503.2 721.8,511.9" fill="none" stroke="#5c5c5c" stroke-width="1.5" stroke-linejoin="round"/><polyline points="797.1,498.8 728.4,497.7 716.0,510.0 716.0,518.0" fill="none" stroke="#fff" stroke-width="3.5" stroke-linejoin="round"/><polyline points="797.1,498.8 728.4,497.7 716.0,510.0 716.0,518.0" fill="none" stroke="#5c5c5c" stroke-width="1.5" stroke-linejoin="round"/><polyline points="704.4,492.0 704.4,519.5 764.4,522.2 774.2,532.6 774.2,571.9 780.7,576.7 797.1,576.7" fill="none" stroke="#fff" stroke-width="3.5" stroke-linejoin="round"/><polyline points="704.4,492.0 704.4,519.5 764.4,522.2 774.2,532.6 774.2,571.9 780.7,576.7 797.1,576.7" fill="none" stroke="#5c5c5c" stroke-width="1.5" stroke-linejoin="round"/><circle cx="641.6" cy="488.5" r="2.40" fill="#fff" /><circle cx="641.6" cy="488.5" r="1.40" fill="#5c5c5c" /><circle cx="631.8" cy="492.5" r="2.40" fill="#fff" /><circle cx="631.8" cy="492.5" r="1.40" fill="#5c5c5c" /><circle cx="673.3" cy="500.4" r="2.40" fill="#fff" /><circle cx="673.3" cy="500.4" r="1.40" fill="#5c5c5c" /><circle cx="704.4" cy="476.3" r="2.40" fill="#fff" /><circle cx="704.4" cy="476.3" r="1.40" fill="#5c5c5c" /><circle cx="706.5" cy="486.8" r="2.40" fill="#fff" /><circle cx="706.5" cy="486.8" r="1.40" fill="#5c5c5c" /><circle cx="933.9" cy="499.9" r="2.40" fill="#fff" /><circle cx="933.9" cy="499.9" r="1.40" fill="#5c5c5c" /><circle cx="860.4" cy="602.5" r="2.40" fill="#fff" /><circle cx="860.4" cy="602.5" r="1.40" fill="#5c5c5c" /><circle cx="850.6" cy="505.4" r="2.40" fill="#fff" /><circle cx="850.6" cy="505.4" r="1.40" fill="#5c5c5c" /><circle cx="829.8" cy="494.5" r="2.40" fill="#fff" /><circle cx="829.8" cy="494.5" r="1.40" fill="#5c5c5c" /><circle cx="709.8" cy="517.4" r="2.40" fill="#fff" /><circle cx="709.8" cy="517.4" r="1.40" fill="#5c5c5c" /><circle cx="836.4" cy="499.5" r="2.40" fill="#fff" /><circle cx="836.4" cy="499.5" r="1.40" fill="#5c5c5c" /><circle cx="721.8" cy="511.9" r="2.40" fill="#fff" /><circle cx="721.8" cy="511.9" r="1.40" fill="#5c5c5c" /><circle cx="797.1" cy="498.8" r="2.40" fill="#fff" /><circle cx="797.1" cy="498.8" r="1.40" fill="#5c5c5c" /><circle cx="797.1" cy="576.7" r="2.40" fill="#fff" /><circle cx="797.1" cy="576.7" r="1.40" fill="#5c5c5c" /><circle cx="666.7" cy="484.1" r="2.40" fill="#fff" /><circle cx="666.7" cy="484.1" r="1.40" fill="#5c5c5c" /><g transform="translate(567.0,404.0)"><circle cx="17.0" cy="19.3" r="11.60" fill="#fff" /><circle cx="17.0" cy="19.3" r="10.60" fill="#000" /><circle cx="17.0" cy="19.3" r="8.40" fill="#c9c9c9" /><circle cx="426.0" cy="18.6" r="11.60" fill="#fff" /><circle cx="426.0" cy="18.6" r="10.60" fill="#000" /><circle cx="426.0" cy="18.6" r="8.40" fill="#c9c9c9" /><circle cx="16.5" cy="322.0" r="11.60" fill="#fff" /><circle cx="16.5" cy="322.0" r="10.60" fill="#000" /><circle cx="16.5" cy="322.0" r="8.40" fill="#c9c9c9" /><circle cx="424.3" cy="320.2" r="11.60" fill="#fff" /><circle cx="424.3" cy="320.2" r="10.60" fill="#000" /><circle cx="424.3" cy="320.2" r="8.40" fill="#c9c9c9" /><circle cx="56.9" cy="19.3" r="9.80" fill="#fff" /><circle cx="56.9" cy="19.3" r="8.80" fill="#000" /><circle cx="56.9" cy="19.3" r="2.60" fill="#c9c9c9" /><circle cx="88.8" cy="19.3" r="8.80" fill="#000" /><circle cx="88.8" cy="19.3" r="2.60" fill="#c9c9c9" /><circle cx="121.0" cy="19.3" r="8.80" fill="#000" /><circle cx="121.0" cy="19.3" r="2.60" fill="#c9c9c9" /><circle cx="155.0" cy="19.3" r="9.80" fill="#fff" /><circle cx="155.0" cy="19.3" r="8.80" fill="#000" /><circle cx="155.0" cy="19.3" r="2.60" fill="#c9c9c9" /><rect x="68.9" y="54.900000000000006" width="8.6" height="8.6" fill="#fff"/><rect x="69.8" y="55.800000000000004" width="6.8" height="6.8" fill="#000"/><circle cx="73.2" cy="59.2" r="3.60" fill="#000" /><circle cx="73.2" cy="59.2" r="2.00" fill="#c9c9c9" /><circle cx="84.0" cy="59.2" r="4.30" fill="#fff" /><circle cx="84.0" cy="59.2" r="3.60" fill="#000" /><circle cx="84.0" cy="59.2" r="2.00" fill="#c9c9c9" /><circle cx="95.3" cy="59.2" r="4.30" fill="#fff" /><circle cx="95.3" cy="59.2" r="3.60" fill="#000" /><circle cx="95.3" cy="59.2" r="2.00" fill="#c9c9c9" /><circle cx="106.6" cy="59.2" r="4.30" fill="#fff" /><circle cx="106.6" cy="59.2" r="3.60" fill="#000" /><circle cx="106.6" cy="59.2" r="2.00" fill="#c9c9c9" /><circle cx="117.3" cy="59.2" r="3.60" fill="#000" /><circle cx="117.3" cy="59.2" r="2.00" fill="#c9c9c9" /><circle cx="128.4" cy="59.2" r="4.30" fill="#fff" /><circle cx="128.4" cy="59.2" r="3.60" fill="#000" /><circle cx="128.4" cy="59.2" r="2.00" fill="#c9c9c9" /><circle cx="139.2" cy="59.2" r="3.60" fill="#000" /><circle cx="139.2" cy="59.2" r="2.00" fill="#c9c9c9" /><circle cx="149.9" cy="59.2" r="4.30" fill="#fff" /><circle cx="149.9" cy="59.2" r="3.60" fill="#000" /><circle cx="149.9" cy="59.2" r="2.00" fill="#c9c9c9" /><circle cx="23.1" cy="54.2" r="4.00" fill="#000" /><circle cx="23.1" cy="54.2" r="2.10" fill="#c9c9c9" /><circle cx="23.1" cy="75.8" r="5.00" fill="#fff" /><circle cx="23.1" cy="75.8" r="4.30" fill="#000" /><circle cx="23.1" cy="75.8" r="2.40" fill="#c9c9c9" /><circle cx="23.1" cy="97.6" r="5.00" fill="#fff" /><circle cx="23.1" cy="97.6" r="4.30" fill="#000" /><circle cx="23.1" cy="97.6" r="2.40" fill="#c9c9c9" /><rect x="18.5" y="131.3" width="9.2" height="9.2" fill="#fff"/><rect x="19.5" y="132.3" width="7.2" height="7.2" fill="#000"/><circle cx="23.1" cy="135.9" r="2.40" fill="#c9c9c9" /><circle cx="23.1" cy="147.0" r="4.40" fill="#fff" /><circle cx="23.1" cy="147.0" r="3.70" fill="#000" /><circle cx="23.1" cy="147.0" r="2.20" fill="#c9c9c9" /><circle cx="23.1" cy="157.7" r="3.80" fill="#000" /><circle cx="23.1" cy="157.7" r="2.10" fill="#c9c9c9" /><rect x="117.8" y="93.3" width="15.8" height="10.5" fill="#000"/><circle cx="314.8" cy="83.3" r="11.20" fill="#fff" /><circle cx="314.8" cy="83.3" r="10.20" fill="#000" /><circle cx="314.8" cy="83.3" r="4.50" fill="#c9c9c9" /><circle cx="314.8" cy="184.7" r="11.20" fill="#fff" /><circle cx="314.8" cy="184.7" r="10.20" fill="#000" /><circle cx="314.8" cy="184.7" r="4.50" fill="#c9c9c9" /><circle cx="23.5" cy="209.3" r="8.30" fill="#000" /><circle cx="23.5" cy="209.3" r="2.40" fill="#c9c9c9" /><circle cx="23.5" cy="239.6" r="8.30" fill="#000" /><circle cx="23.5" cy="239.6" r="2.40" fill="#c9c9c9" /><rect x="89" y="281.5" width="10.8" height="10.8" fill="#fff"/><rect x="90" y="282.5" width="8.8" height="8.8" fill="#000"/><circle cx="94.4" cy="286.9" r="2.60" fill="#c9c9c9" /><circle cx="127.0" cy="286.9" r="5.00" fill="#000" /><circle cx="127.0" cy="286.9" r="2.30" fill="#c9c9c9" /><circle cx="62.8" cy="316.3" r="11.00" fill="#fff" /><circle cx="62.8" cy="316.3" r="10.00" fill="#000" /><circle cx="62.8" cy="316.3" r="4.20" fill="#c9c9c9" /><circle cx="127.8" cy="316.3" r="10.40" fill="#000" /><circle cx="127.8" cy="316.3" r="4.30" fill="#c9c9c9" /><circle cx="205.4" cy="316.3" r="7.80" fill="#000" /><circle cx="205.4" cy="316.3" r="2.40" fill="#c9c9c9" /><circle cx="245.0" cy="214.2" r="5.10" fill="#000" /><circle cx="245.0" cy="214.2" r="2.40" fill="#c9c9c9" /><circle cx="245.0" cy="240.9" r="5.10" fill="#000" /><circle cx="245.0" cy="240.9" r="2.40" fill="#c9c9c9" /><circle cx="245.0" cy="268.5" r="5.10" fill="#000" /><circle cx="245.0" cy="268.5" r="2.40" fill="#c9c9c9" /><circle cx="245.0" cy="295.7" r="5.10" fill="#000" /><circle cx="245.0" cy="295.7" r="2.40" fill="#c9c9c9" /><circle cx="245.0" cy="322.5" r="5.10" fill="#000" /><circle cx="245.0" cy="322.5" r="2.40" fill="#c9c9c9" /><circle cx="330.0" cy="214.2" r="6.10" fill="#fff" /><circle cx="330.0" cy="214.2" r="5.10" fill="#000" /><circle cx="330.0" cy="214.2" r="2.40" fill="#c9c9c9" /><circle cx="330.0" cy="240.9" r="6.10" fill="#fff" /><circle cx="330.0" cy="240.9" r="5.10" fill="#000" /><circle cx="330.0" cy="240.9" r="2.40" fill="#c9c9c9" /><circle cx="330.0" cy="268.5" r="6.10" fill="#fff" /><circle cx="330.0" cy="268.5" r="5.10" fill="#000" /><circle cx="330.0" cy="268.5" r="2.40" fill="#c9c9c9" /><circle cx="330.0" cy="295.7" r="6.10" fill="#fff" /><circle cx="330.0" cy="295.7" r="5.10" fill="#000" /><circle cx="330.0" cy="295.7" r="2.40" fill="#c9c9c9" /><circle cx="330.0" cy="322.5" r="6.10" fill="#fff" /><circle cx="330.0" cy="322.5" r="5.10" fill="#000" /><circle cx="330.0" cy="322.5" r="2.40" fill="#c9c9c9" /></g>
<rect x="568.10" y="24.10" width="442.80" height="336.80" fill="#fff" stroke="#5f5f5f" stroke-width="2.2"/><g transform="translate(567.0,23.0)"><polygon points="3.9,23.6 22.6,4.8 428.2,4.8 440.0,19.8 440.0,321.0 426.8,334.3 20,334.3 3.9,318.8" fill="#1f1f1f"/></g><polygon points="623.3,50.0 623.3,80.6 629.0,86.5 629.0,114.0 634.0,118.8 662.6,118.8 662.6,129.0 684.5,129.0 685.5,131.0 685.5,148.6 691.4,155.2 730.6,155.2 733.5,151.5 733.5,27.6 719.2,27.6 719.2,74.0 717.6,75.6 627.0,75.6 625.4,74.0 625.4,50.0" fill="#fff"/><polyline points="685.0,129.3 674.0,139.5 674.0,184.0 670.5,187.5 571.0,187.5" fill="none" stroke="#fff" stroke-width="2.2"/><polyline points="675.0,357.0 675.0,266.0 726.0,215.0 778.0,215.0" fill="none" stroke="#fff" stroke-width="2.6"/><line x1="858.2" y1="216" x2="858.2" y2="357" stroke="#fff" stroke-width="4"/><polygon points="777.3,96.4 783.6,90.0 822.8,90.0 822.8,27.6 828.6,27.6 828.6,66.9 830.1,68.2 854.1,68.2 859.5,73.6 859.5,102.7 850.2,111.6 828.0,111.6 827.0,112.5 827.0,114.5 828.0,115.5 890.5,115.5 893.6,113.0 893.6,92.0 922.8,92.0 922.8,27.4 930.2,27.4 930.2,67.0 958.0,67.8 960.2,70.9 960.2,89.4 928.4,121.0 928.4,122.6 781.8,122.6 777.3,117.0" fill="#fff"/><rect x="822.7" y="121" width="6.6" height="50" fill="#fff"/><rect x="922.7" y="121" width="7.0" height="50" fill="#fff"/><polygon points="777.3,193.2 780.6,190.0 822.7,189.5 822.7,122.5 828.6,122.5 828.6,167.9 830.1,169.2 854.1,169.2 859.5,174.6 859.5,215.5 861.0,217.3 893.6,217.3 895.5,215.5 895.5,193.0 922.8,193.0 922.8,122.5 930.2,122.5 930.2,168.0 958.0,168.8 960.2,171.9 960.2,190.4 926.4,224.5 860.0,224.5 856.4,221.5 852.5,218.2 777.3,218.2" fill="#fff"/><rect x="830" y="74.2" width="20" height="6.7" fill="#1f1f1f"/><polygon points="836.5,80.9 844.0,80.9 844.0,85.5 820.0,109.5 819.0,110.0 802.5,110.0 801.8,108.0 801.8,98.5 803.0,97.3 817.0,97.3 836.5,83.0" fill="#1f1f1f"/><ellipse cx="786" cy="102.3" rx="4.1" ry="6.8" fill="#1f1f1f"/><rect x="795.2" y="97.3" width="3.6" height="21.5" rx="1.5" fill="#1f1f1f"/><rect x="793.8" y="104" width="6.4" height="5" fill="#1f1f1f"/><polyline points="836.4,118.6 891.6,118.9 895,116" stroke="#1f1f1f" stroke-width="1.1" fill="none"/><circle cx="836.4" cy="118.5" r="1.30" fill="none" stroke="#1f1f1f" stroke-width="0.9"/><circle cx="829.5" cy="113.5" r="0.80" fill="#999" /><polygon points="895.5,100.0 897.0,98.2 907.0,98.2 909.2,97.5 909.2,116.0 907.0,118.2 897.0,118.2 895.5,116.5" fill="#1f1f1f"/><rect x="931" y="74.2" width="20" height="6.7" fill="#1f1f1f"/><polygon points="938.5,80.9 945.0,80.9 945.0,86.0 944.0,96.0 931.8,107.0 931.8,113.6 913.5,113.6 911.8,112.0 911.8,99.0 913.3,97.3 929.0,97.3 938.5,88.0" fill="#1f1f1f"/><rect x="830" y="173.6" width="20" height="7.3" fill="#1f1f1f"/><polygon points="836.5,180.9 844.0,180.9 844.0,185.5 820.0,209.5 819.0,210.0 804.0,210.0 802.7,208.0 802.7,198.0 804.0,196.4 817.0,196.4 836.5,183.0" fill="#1f1f1f"/><rect x="794.6" y="192.8" width="5.2" height="16.3" rx="2" fill="#1f1f1f"/><rect x="793.8" y="205" width="6.4" height="4.5" fill="#1f1f1f"/><rect x="782.7" y="198.2" width="7.3" height="22" rx="1" fill="#1f1f1f"/><line x1="859.1" y1="220.2" x2="898" y2="220.2" stroke="#1f1f1f" stroke-width="1.1"/><rect x="897.3" y="197.3" width="10" height="23.5" rx="1.5" fill="#1f1f1f"/><rect x="931" y="175.2" width="20" height="6.7" fill="#1f1f1f"/><polygon points="938.5,181.9 945.0,181.9 945.0,187.0 944.0,197.0 931.8,208.0 931.8,214.6 913.5,214.6 911.8,213.0 911.8,200.0 913.3,198.3 929.0,198.3 938.5,189.0" fill="#1f1f1f"/><line x1="623.7" y1="50" x2="623.7" y2="80.6" stroke="#1f1f1f" stroke-width="1.0"/><polyline points="721.6,40 721.6,77.5 717,82" fill="none" stroke="#1f1f1f" stroke-width="2.6"/><rect x="693" y="94" width="3.8" height="4" fill="#1f1f1f"/><rect x="700" y="94" width="5" height="3.3" fill="#1f1f1f"/><rect x="708.4" y="91.5" width="3.8" height="5.1" fill="#1f1f1f"/><rect x="715.4" y="92.8" width="3.3" height="3.8" fill="#1f1f1f"/><rect x="693" y="99.9" width="3.8" height="3.8" fill="#1f1f1f"/><rect x="700" y="99.9" width="5" height="3.8" fill="#1f1f1f"/><rect x="630" y="106.3" width="3.8" height="3.8" fill="#1f1f1f"/><rect x="637" y="106.3" width="11" height="3.2" fill="#1f1f1f"/><rect x="650.5" y="106.3" width="3.2" height="3.2" fill="#1f1f1f"/><rect x="656.3" y="106.3" width="4.5" height="4.5" fill="#1f1f1f"/><rect x="659.5" y="112.1" width="3.2" height="3.2" fill="#1f1f1f"/><rect x="665.3" y="105.6" width="4.5" height="4.5" fill="#1f1f1f"/><rect x="666.6" y="112.1" width="3.2" height="3.2" fill="#1f1f1f"/><rect x="666.6" y="119.1" width="3.2" height="3.3" fill="#1f1f1f"/><rect x="666.6" y="124.3" width="3.2" height="3.2" fill="#1f1f1f"/><rect x="684.6" y="111.4" width="5.1" height="3.2" fill="#1f1f1f"/><rect x="693.6" y="111.4" width="5.1" height="3.2" fill="#1f1f1f"/><rect x="710.3" y="111.4" width="3.2" height="3.2" fill="#1f1f1f"/><rect x="717.4" y="111.4" width="3.2" height="3.2" fill="#1f1f1f"/><rect x="710.3" y="115.9" width="3.2" height="3.2" fill="#1f1f1f"/><rect x="717.4" y="115.9" width="3.2" height="3.2" fill="#1f1f1f"/><rect x="710.3" y="134.6" width="3.2" height="3.2" fill="#1f1f1f"/><rect x="717.4" y="134.6" width="3.2" height="3.2" fill="#1f1f1f"/><rect x="710.3" y="140.4" width="3.2" height="3.2" fill="#1f1f1f"/><rect x="717.4" y="140.4" width="3.2" height="3.2" fill="#1f1f1f"/><rect x="685.9" y="142.9" width="5.1" height="4.5" fill="#1f1f1f"/><rect x="694.9" y="143.6" width="5.1" height="3.8" fill="#1f1f1f"/><rect x="703.2" y="146.2" width="6.5" height="6.4" fill="#1f1f1f"/><rect x="716.7" y="146.2" width="8" height="6.4" fill="#1f1f1f"/><rect x="684.6" y="115.9" width="19.9" height="11" fill="#000"/><polyline points="623.8,80.6 644.7,101.1 659.5,101.1 664.0,105.5 664.0,112.0 668.0,116.0 684.0,118.5" fill="none" stroke="#1f1f1f" stroke-width="1.1"/><polyline points="640.1,82.3 640.1,89.0 647.5,96.5 662.0,96.5 678.0,112.0 685.0,115.0" fill="none" stroke="#1f1f1f" stroke-width="1.1"/><polyline points="651.1,82.3 651.1,87.0 656.0,92.5 668.0,92.5 683.0,108.0 687.0,114.0" fill="none" stroke="#1f1f1f" stroke-width="1.1"/><polyline points="662.0,82.3 662.0,85.0 666.0,89.0 672.0,89.0 688.0,105.0 690.0,114.0" fill="none" stroke="#1f1f1f" stroke-width="1.1"/><polyline points="673.0,82.3 673.0,85.0 691.0,104.0 692.0,114.0" fill="none" stroke="#1f1f1f" stroke-width="1.1"/><polyline points="716.7,82.0 716.7,94.0" fill="none" stroke="#1f1f1f" stroke-width="1.1"/><polyline points="705.0,126.9 710.0,122.0 725.0,122.0 726.0,121.0" fill="none" stroke="#1f1f1f" stroke-width="1.1"/><polyline points="705.0,130.0 708.0,127.0 719.0,127.0 721.0,126.0" fill="none" stroke="#1f1f1f" stroke-width="1.1"/><polyline points="688.0,127.0 688.0,138.0 700.0,147.0" fill="none" stroke="#1f1f1f" stroke-width="1.1"/><polyline points="692.0,127.0 692.0,136.0 703.0,146.0" fill="none" stroke="#1f1f1f" stroke-width="1.1"/><polyline points="696.0,127.0 697.0,132.0 707.0,136.0 711.0,136.0" fill="none" stroke="#1f1f1f" stroke-width="1.1"/><polyline points="700.0,127.0 702.0,131.0 708.0,133.0 711.0,141.0" fill="none" stroke="#1f1f1f" stroke-width="1.1"/><polyline points="684.0,121.0 672.0,121.0" fill="none" stroke="#1f1f1f" stroke-width="1.1"/><polyline points="684.0,123.0 672.0,123.5" fill="none" stroke="#1f1f1f" stroke-width="1.1"/><polyline points="643.0,108.0 646.0,112.0 660.0,113.5" fill="none" stroke="#1f1f1f" stroke-width="1.1"/><line x1="716.7" y1="84" x2="716.7" y2="96" stroke="#1f1f1f" stroke-width="2.8"/><use href="#tv" x="766.8" y="30.5"/><use href="#tv" x="772.8" y="30.5"/><use href="#tv" x="778.7" y="30.5"/><use href="#tv" x="784.7" y="30.5"/><use href="#tv" x="790.7" y="30.5"/><use href="#tv" x="796.6" y="30.5"/><use href="#tv" x="802.6" y="30.5"/><use href="#tv" x="808.6" y="30.5"/><use href="#tv" x="814.5" y="30.5"/><use href="#tv" x="820.5" y="30.5"/><use href="#tv" x="766.8" y="36.7"/><use href="#tv" x="772.8" y="36.7"/><use href="#tv" x="778.7" y="36.7"/><use href="#tv" x="784.7" y="36.7"/><use href="#tv" x="790.7" y="36.7"/><use href="#tv" x="796.6" y="36.7"/><use href="#tv" x="802.6" y="36.7"/><use href="#tv" x="808.6" y="36.7"/><use href="#tv" x="814.5" y="36.7"/><use href="#tv" x="820.5" y="36.7"/><use href="#tv" x="766.8" y="42.7"/><use href="#tv" x="773.6" y="42.7"/><use href="#tv" x="780.5" y="42.7"/><use href="#tv" x="766.8" y="48.8"/><use href="#tv" x="773.6" y="48.8"/><use href="#tv" x="780.5" y="48.8"/><use href="#tv" x="766.8" y="54.9"/><use href="#tv" x="773.6" y="54.9"/><use href="#tv" x="780.5" y="54.9"/><use href="#tv" x="766.8" y="61.0"/><use href="#tv" x="773.6" y="61.0"/><use href="#tv" x="780.5" y="61.0"/><use href="#tv" x="766.8" y="67.2"/><use href="#tv" x="773.6" y="67.2"/><use href="#tv" x="780.5" y="67.2"/><use href="#tv" x="766.8" y="73.3"/><use href="#tv" x="773.6" y="73.3"/><use href="#tv" x="780.5" y="73.3"/><use href="#tv" x="766.8" y="79.4"/><use href="#tv" x="773.6" y="79.4"/><use href="#tv" x="780.5" y="79.4"/><use href="#tv" x="766.8" y="85.5"/><use href="#tv" x="773.6" y="85.5"/><use href="#tv" x="780.5" y="85.5"/><use href="#tv" x="829.5" y="42.7"/><use href="#tv" x="835.6" y="42.7"/><use href="#tv" x="841.6" y="42.7"/><use href="#tv" x="847.7" y="42.7"/><use href="#tv" x="829.5" y="48.2"/><use href="#tv" x="835.6" y="48.2"/><use href="#tv" x="841.6" y="48.2"/><use href="#tv" x="847.7" y="48.2"/><use href="#tv" x="829.5" y="60.0"/><use href="#tv" x="835.6" y="60.0"/><use href="#tv" x="841.6" y="60.0"/><use href="#tv" x="847.7" y="60.0"/><use href="#tv" x="829.5" y="66.4"/><use href="#tv" x="835.6" y="66.4"/><use href="#tv" x="841.6" y="66.4"/><use href="#tv" x="847.7" y="66.4"/><use href="#tv" x="878.6" y="30.5"/><use href="#tv" x="884.7" y="30.5"/><use href="#tv" x="890.8" y="30.5"/><use href="#tv" x="896.9" y="30.5"/><use href="#tv" x="903.1" y="30.5"/><use href="#tv" x="909.2" y="30.5"/><use href="#tv" x="915.3" y="30.5"/><use href="#tv" x="921.4" y="30.5"/><use href="#tv" x="878.6" y="36.1"/><use href="#tv" x="884.7" y="36.1"/><use href="#tv" x="890.8" y="36.1"/><use href="#tv" x="896.9" y="36.1"/><use href="#tv" x="903.1" y="36.1"/><use href="#tv" x="909.2" y="36.1"/><use href="#tv" x="915.3" y="36.1"/><use href="#tv" x="921.4" y="36.1"/><use href="#tv" x="878.6" y="41.8"/><use href="#tv" x="884.7" y="41.8"/><use href="#tv" x="890.8" y="41.8"/><use href="#tv" x="896.9" y="41.8"/><use href="#tv" x="903.1" y="41.8"/><use href="#tv" x="909.2" y="41.8"/><use href="#tv" x="915.3" y="41.8"/><use href="#tv" x="921.4" y="41.8"/><use href="#tv" x="878.6" y="47.3"/><use href="#tv" x="878.6" y="53.5"/><use href="#tv" x="878.6" y="59.7"/><use href="#tv" x="878.6" y="65.9"/><use href="#tv" x="878.6" y="72.1"/><use href="#tv" x="878.6" y="78.3"/><use href="#tv" x="878.6" y="84.5"/><use href="#tv" x="878.6" y="90.5"/><use href="#tv" x="884.7" y="90.5"/><use href="#tv" x="890.8" y="90.5"/><use href="#tv" x="896.9" y="90.5"/><use href="#tv" x="903.1" y="90.5"/><use href="#tv" x="909.2" y="90.5"/><use href="#tv" x="915.3" y="90.5"/><use href="#tv" x="921.4" y="90.5"/><use href="#tv" x="930.5" y="41.8"/><use href="#tv" x="936.2" y="41.8"/><use href="#tv" x="941.9" y="41.8"/><use href="#tv" x="947.5" y="41.8"/><use href="#tv" x="953.2" y="41.8"/><use href="#tv" x="930.5" y="48.0"/><use href="#tv" x="953.2" y="48.0"/><use href="#tv" x="930.5" y="54.1"/><use href="#tv" x="953.2" y="54.1"/><use href="#tv" x="930.5" y="60.2"/><use href="#tv" x="953.2" y="60.2"/><use href="#tv" x="930.5" y="66.4"/><use href="#tv" x="936.2" y="66.4"/><use href="#tv" x="941.9" y="66.4"/><use href="#tv" x="947.5" y="66.4"/><use href="#tv" x="953.2" y="66.4"/><use href="#tv" x="781.4" y="126.2"/><use href="#tv" x="787.1" y="126.2"/><use href="#tv" x="792.8" y="126.2"/><use href="#tv" x="798.5" y="126.2"/><use href="#tv" x="804.3" y="126.2"/><use href="#tv" x="810.0" y="126.2"/><use href="#tv" x="815.7" y="126.2"/><use href="#tv" x="821.4" y="126.2"/><use href="#tv" x="781.4" y="132.1"/><use href="#tv" x="787.1" y="132.1"/><use href="#tv" x="792.8" y="132.1"/><use href="#tv" x="798.5" y="132.1"/><use href="#tv" x="804.3" y="132.1"/><use href="#tv" x="810.0" y="132.1"/><use href="#tv" x="815.7" y="132.1"/><use href="#tv" x="821.4" y="132.1"/><use href="#tv" x="781.4" y="138.0"/><use href="#tv" x="787.1" y="138.0"/><use href="#tv" x="792.8" y="138.0"/><use href="#tv" x="798.5" y="138.0"/><use href="#tv" x="804.3" y="138.0"/><use href="#tv" x="810.0" y="138.0"/><use href="#tv" x="815.7" y="138.0"/><use href="#tv" x="821.4" y="138.0"/><use href="#tv" x="830.5" y="143.6"/><use href="#tv" x="836.2" y="143.6"/><use href="#tv" x="842.0" y="143.6"/><use href="#tv" x="847.7" y="143.6"/><use href="#tv" x="830.5" y="149.1"/><use href="#tv" x="836.2" y="149.1"/><use href="#tv" x="842.0" y="149.1"/><use href="#tv" x="847.7" y="149.1"/><use href="#tv" x="830.5" y="160.5"/><use href="#tv" x="836.2" y="160.5"/><use href="#tv" x="842.0" y="160.5"/><use href="#tv" x="847.7" y="160.5"/><use href="#tv" x="830.5" y="166.4"/><use href="#tv" x="836.2" y="166.4"/><use href="#tv" x="842.0" y="166.4"/><use href="#tv" x="847.7" y="166.4"/><use href="#tv" x="882.3" y="123.6"/><use href="#tv" x="887.9" y="123.6"/><use href="#tv" x="893.5" y="123.6"/><use href="#tv" x="899.1" y="123.6"/><use href="#tv" x="904.6" y="123.6"/><use href="#tv" x="910.2" y="123.6"/><use href="#tv" x="915.8" y="123.6"/><use href="#tv" x="921.4" y="123.6"/><use href="#tv" x="882.3" y="129.6"/><use href="#tv" x="887.9" y="129.6"/><use href="#tv" x="893.5" y="129.6"/><use href="#tv" x="899.1" y="129.6"/><use href="#tv" x="904.6" y="129.6"/><use href="#tv" x="910.2" y="129.6"/><use href="#tv" x="915.8" y="129.6"/><use href="#tv" x="921.4" y="129.6"/><use href="#tv" x="882.3" y="135.5"/><use href="#tv" x="887.9" y="135.5"/><use href="#tv" x="893.5" y="135.5"/><use href="#tv" x="899.1" y="135.5"/><use href="#tv" x="904.6" y="135.5"/><use href="#tv" x="910.2" y="135.5"/><use href="#tv" x="915.8" y="135.5"/><use href="#tv" x="921.4" y="135.5"/><use href="#tv" x="882.3" y="141.5"/><use href="#tv" x="887.9" y="141.5"/><use href="#tv" x="893.5" y="141.5"/><use href="#tv" x="899.1" y="141.5"/><use href="#tv" x="904.6" y="141.5"/><use href="#tv" x="910.2" y="141.5"/><use href="#tv" x="915.8" y="141.5"/><use href="#tv" x="921.4" y="141.5"/><use href="#tv" x="929.5" y="141.8"/><use href="#tv" x="935.2" y="141.8"/><use href="#tv" x="940.9" y="141.8"/><use href="#tv" x="946.6" y="141.8"/><use href="#tv" x="952.3" y="141.8"/><use href="#tv" x="929.5" y="148.0"/><use href="#tv" x="952.3" y="148.0"/><use href="#tv" x="929.5" y="154.1"/><use href="#tv" x="952.3" y="154.1"/><use href="#tv" x="929.5" y="160.2"/><use href="#tv" x="952.3" y="160.2"/><use href="#tv" x="929.5" y="166.4"/><use href="#tv" x="935.2" y="166.4"/><use href="#tv" x="940.9" y="166.4"/><use href="#tv" x="946.6" y="166.4"/><use href="#tv" x="952.3" y="166.4"/><use href="#tv" x="784.7" y="222.8"/><use href="#tv" x="790.4" y="222.8"/><use href="#tv" x="796.1" y="222.8"/><use href="#tv" x="801.8" y="222.8"/><use href="#tv" x="807.4" y="222.8"/><use href="#tv" x="813.1" y="222.8"/><use href="#tv" x="818.8" y="222.8"/><use href="#tv" x="824.5" y="222.8"/><use href="#tv" x="830.2" y="222.8"/><use href="#tv" x="835.9" y="222.8"/><use href="#tv" x="841.5" y="222.8"/><use href="#tv" x="847.2" y="222.8"/><use href="#tv" x="852.9" y="222.8"/><use href="#tv" x="784.7" y="228.9"/><use href="#tv" x="790.4" y="228.9"/><use href="#tv" x="796.1" y="228.9"/><use href="#tv" x="801.8" y="228.9"/><use href="#tv" x="807.4" y="228.9"/><use href="#tv" x="813.1" y="228.9"/><use href="#tv" x="818.8" y="228.9"/><use href="#tv" x="824.5" y="228.9"/><use href="#tv" x="830.2" y="228.9"/><use href="#tv" x="835.9" y="228.9"/><use href="#tv" x="841.5" y="228.9"/><use href="#tv" x="847.2" y="228.9"/><use href="#tv" x="852.9" y="228.9"/><use href="#tv" x="784.7" y="235.0"/><use href="#tv" x="790.4" y="235.0"/><use href="#tv" x="796.1" y="235.0"/><use href="#tv" x="801.8" y="235.0"/><use href="#tv" x="807.4" y="235.0"/><use href="#tv" x="813.1" y="235.0"/><use href="#tv" x="818.8" y="235.0"/><use href="#tv" x="824.5" y="235.0"/><use href="#tv" x="830.2" y="235.0"/><use href="#tv" x="835.9" y="235.0"/><use href="#tv" x="841.5" y="235.0"/><use href="#tv" x="847.2" y="235.0"/><use href="#tv" x="852.9" y="235.0"/><use href="#tv" x="784.7" y="241.1"/><use href="#tv" x="790.4" y="241.1"/><use href="#tv" x="796.1" y="241.1"/><use href="#tv" x="801.8" y="241.1"/><use href="#tv" x="807.4" y="241.1"/><use href="#tv" x="813.1" y="241.1"/><use href="#tv" x="818.8" y="241.1"/><use href="#tv" x="824.5" y="241.1"/><use href="#tv" x="830.2" y="241.1"/><use href="#tv" x="835.9" y="241.1"/><use href="#tv" x="841.5" y="241.1"/><use href="#tv" x="847.2" y="241.1"/><use href="#tv" x="852.9" y="241.1"/><use href="#tv" x="784.7" y="247.2"/><use href="#tv" x="790.4" y="247.2"/><use href="#tv" x="796.1" y="247.2"/><use href="#tv" x="801.8" y="247.2"/><use href="#tv" x="807.4" y="247.2"/><use href="#tv" x="813.1" y="247.2"/><use href="#tv" x="818.8" y="247.2"/><use href="#tv" x="824.5" y="247.2"/><use href="#tv" x="830.2" y="247.2"/><use href="#tv" x="835.9" y="247.2"/><use href="#tv" x="841.5" y="247.2"/><use href="#tv" x="847.2" y="247.2"/><use href="#tv" x="852.9" y="247.2"/><use href="#tv" x="784.7" y="253.3"/><use href="#tv" x="790.4" y="253.3"/><use href="#tv" x="796.1" y="253.3"/><use href="#tv" x="801.8" y="253.3"/><use href="#tv" x="807.4" y="253.3"/><use href="#tv" x="813.1" y="253.3"/><use href="#tv" x="818.8" y="253.3"/><use href="#tv" x="824.5" y="253.3"/><use href="#tv" x="830.2" y="253.3"/><use href="#tv" x="835.9" y="253.3"/><use href="#tv" x="841.5" y="253.3"/><use href="#tv" x="847.2" y="253.3"/><use href="#tv" x="852.9" y="253.3"/><use href="#tv" x="784.7" y="259.3"/><use href="#tv" x="790.4" y="259.3"/><use href="#tv" x="796.1" y="259.3"/><use href="#tv" x="801.8" y="259.3"/><use href="#tv" x="807.4" y="259.3"/><use href="#tv" x="813.1" y="259.3"/><use href="#tv" x="818.8" y="259.3"/><use href="#tv" x="824.5" y="259.3"/><use href="#tv" x="830.2" y="259.3"/><use href="#tv" x="835.9" y="259.3"/><use href="#tv" x="841.5" y="259.3"/><use href="#tv" x="847.2" y="259.3"/><use href="#tv" x="852.9" y="259.3"/><use href="#tv" x="784.7" y="265.4"/><use href="#tv" x="790.4" y="265.4"/><use href="#tv" x="796.1" y="265.4"/><use href="#tv" x="801.8" y="265.4"/><use href="#tv" x="807.4" y="265.4"/><use href="#tv" x="813.1" y="265.4"/><use href="#tv" x="818.8" y="265.4"/><use href="#tv" x="824.5" y="265.4"/><use href="#tv" x="830.2" y="265.4"/><use href="#tv" x="835.9" y="265.4"/><use href="#tv" x="841.5" y="265.4"/><use href="#tv" x="847.2" y="265.4"/><use href="#tv" x="852.9" y="265.4"/><use href="#tv" x="784.7" y="271.5"/><use href="#tv" x="790.4" y="271.5"/><use href="#tv" x="796.1" y="271.5"/><use href="#tv" x="801.8" y="271.5"/><use href="#tv" x="807.4" y="271.5"/><use href="#tv" x="813.1" y="271.5"/><use href="#tv" x="818.8" y="271.5"/><use href="#tv" x="824.5" y="271.5"/><use href="#tv" x="830.2" y="271.5"/><use href="#tv" x="835.9" y="271.5"/><use href="#tv" x="841.5" y="271.5"/><use href="#tv" x="847.2" y="271.5"/><use href="#tv" x="852.9" y="271.5"/><use href="#tv" x="784.7" y="277.6"/><use href="#tv" x="790.4" y="277.6"/><use href="#tv" x="796.1" y="277.6"/><use href="#tv" x="801.8" y="277.6"/><use href="#tv" x="807.4" y="277.6"/><use href="#tv" x="813.1" y="277.6"/><use href="#tv" x="818.8" y="277.6"/><use href="#tv" x="824.5" y="277.6"/><use href="#tv" x="830.2" y="277.6"/><use href="#tv" x="835.9" y="277.6"/><use href="#tv" x="841.5" y="277.6"/><use href="#tv" x="847.2" y="277.6"/><use href="#tv" x="852.9" y="277.6"/><use href="#tv" x="784.7" y="283.7"/><use href="#tv" x="790.4" y="283.7"/><use href="#tv" x="796.1" y="283.7"/><use href="#tv" x="801.8" y="283.7"/><use href="#tv" x="807.4" y="283.7"/><use href="#tv" x="813.1" y="283.7"/><use href="#tv" x="818.8" y="283.7"/><use href="#tv" x="824.5" y="283.7"/><use href="#tv" x="830.2" y="283.7"/><use href="#tv" x="835.9" y="283.7"/><use href="#tv" x="841.5" y="283.7"/><use href="#tv" x="847.2" y="283.7"/><use href="#tv" x="852.9" y="283.7"/><use href="#tv" x="784.7" y="289.8"/><use href="#tv" x="790.4" y="289.8"/><use href="#tv" x="796.1" y="289.8"/><use href="#tv" x="801.8" y="289.8"/><use href="#tv" x="807.4" y="289.8"/><use href="#tv" x="813.1" y="289.8"/><use href="#tv" x="818.8" y="289.8"/><use href="#tv" x="824.5" y="289.8"/><use href="#tv" x="830.2" y="289.8"/><use href="#tv" x="835.9" y="289.8"/><use href="#tv" x="841.5" y="289.8"/><use href="#tv" x="847.2" y="289.8"/><use href="#tv" x="852.9" y="289.8"/><use href="#tv" x="784.7" y="295.9"/><use href="#tv" x="790.4" y="295.9"/><use href="#tv" x="796.1" y="295.9"/><use href="#tv" x="801.8" y="295.9"/><use href="#tv" x="807.4" y="295.9"/><use href="#tv" x="813.1" y="295.9"/><use href="#tv" x="818.8" y="295.9"/><use href="#tv" x="824.5" y="295.9"/><use href="#tv" x="830.2" y="295.9"/><use href="#tv" x="835.9" y="295.9"/><use href="#tv" x="841.5" y="295.9"/><use href="#tv" x="847.2" y="295.9"/><use href="#tv" x="852.9" y="295.9"/><use href="#tv" x="784.7" y="302.0"/><use href="#tv" x="790.4" y="302.0"/><use href="#tv" x="796.1" y="302.0"/><use href="#tv" x="801.8" y="302.0"/><use href="#tv" x="807.4" y="302.0"/><use href="#tv" x="813.1" y="302.0"/><use href="#tv" x="818.8" y="302.0"/><use href="#tv" x="824.5" y="302.0"/><use href="#tv" x="830.2" y="302.0"/><use href="#tv" x="835.9" y="302.0"/><use href="#tv" x="841.5" y="302.0"/><use href="#tv" x="847.2" y="302.0"/><use href="#tv" x="852.9" y="302.0"/><use href="#tv" x="784.7" y="308.1"/><use href="#tv" x="790.4" y="308.1"/><use href="#tv" x="796.1" y="308.1"/><use href="#tv" x="801.8" y="308.1"/><use href="#tv" x="807.4" y="308.1"/><use href="#tv" x="813.1" y="308.1"/><use href="#tv" x="818.8" y="308.1"/><use href="#tv" x="824.5" y="308.1"/><use href="#tv" x="830.2" y="308.1"/><use href="#tv" x="835.9" y="308.1"/><use href="#tv" x="841.5" y="308.1"/><use href="#tv" x="847.2" y="308.1"/><use href="#tv" x="852.9" y="308.1"/><use href="#tv" x="784.7" y="314.2"/><use href="#tv" x="790.4" y="314.2"/><use href="#tv" x="796.1" y="314.2"/><use href="#tv" x="801.8" y="314.2"/><use href="#tv" x="807.4" y="314.2"/><use href="#tv" x="813.1" y="314.2"/><use href="#tv" x="818.8" y="314.2"/><use href="#tv" x="824.5" y="314.2"/><use href="#tv" x="830.2" y="314.2"/><use href="#tv" x="835.9" y="314.2"/><use href="#tv" x="841.5" y="314.2"/><use href="#tv" x="847.2" y="314.2"/><use href="#tv" x="852.9" y="314.2"/><use href="#tv" x="784.7" y="320.2"/><use href="#tv" x="790.4" y="320.2"/><use href="#tv" x="796.1" y="320.2"/><use href="#tv" x="801.8" y="320.2"/><use href="#tv" x="807.4" y="320.2"/><use href="#tv" x="813.1" y="320.2"/><use href="#tv" x="818.8" y="320.2"/><use href="#tv" x="824.5" y="320.2"/><use href="#tv" x="830.2" y="320.2"/><use href="#tv" x="835.9" y="320.2"/><use href="#tv" x="841.5" y="320.2"/><use href="#tv" x="847.2" y="320.2"/><use href="#tv" x="852.9" y="320.2"/><use href="#tv" x="784.7" y="326.3"/><use href="#tv" x="790.4" y="326.3"/><use href="#tv" x="796.1" y="326.3"/><use href="#tv" x="801.8" y="326.3"/><use href="#tv" x="807.4" y="326.3"/><use href="#tv" x="813.1" y="326.3"/><use href="#tv" x="818.8" y="326.3"/><use href="#tv" x="824.5" y="326.3"/><use href="#tv" x="830.2" y="326.3"/><use href="#tv" x="835.9" y="326.3"/><use href="#tv" x="841.5" y="326.3"/><use href="#tv" x="847.2" y="326.3"/><use href="#tv" x="852.9" y="326.3"/><use href="#tv" x="784.7" y="332.4"/><use href="#tv" x="790.4" y="332.4"/><use href="#tv" x="796.1" y="332.4"/><use href="#tv" x="801.8" y="332.4"/><use href="#tv" x="807.4" y="332.4"/><use href="#tv" x="813.1" y="332.4"/><use href="#tv" x="818.8" y="332.4"/><use href="#tv" x="824.5" y="332.4"/><use href="#tv" x="830.2" y="332.4"/><use href="#tv" x="835.9" y="332.4"/><use href="#tv" x="841.5" y="332.4"/><use href="#tv" x="847.2" y="332.4"/><use href="#tv" x="852.9" y="332.4"/><use href="#tv" x="784.7" y="338.5"/><use href="#tv" x="790.4" y="338.5"/><use href="#tv" x="796.1" y="338.5"/><use href="#tv" x="801.8" y="338.5"/><use href="#tv" x="807.4" y="338.5"/><use href="#tv" x="813.1" y="338.5"/><use href="#tv" x="818.8" y="338.5"/><use href="#tv" x="824.5" y="338.5"/><use href="#tv" x="830.2" y="338.5"/><use href="#tv" x="835.9" y="338.5"/><use href="#tv" x="841.5" y="338.5"/><use href="#tv" x="847.2" y="338.5"/><use href="#tv" x="852.9" y="338.5"/><use href="#tv" x="784.7" y="344.6"/><use href="#tv" x="790.4" y="344.6"/><use href="#tv" x="796.1" y="344.6"/><use href="#tv" x="801.8" y="344.6"/><use href="#tv" x="807.4" y="344.6"/><use href="#tv" x="813.1" y="344.6"/><use href="#tv" x="818.8" y="344.6"/><use href="#tv" x="824.5" y="344.6"/><use href="#tv" x="830.2" y="344.6"/><use href="#tv" x="835.9" y="344.6"/><use href="#tv" x="841.5" y="344.6"/><use href="#tv" x="847.2" y="344.6"/><use href="#tv" x="852.9" y="344.6"/><use href="#tv" x="784.7" y="350.7"/><use href="#tv" x="790.4" y="350.7"/><use href="#tv" x="796.1" y="350.7"/><use href="#tv" x="801.8" y="350.7"/><use href="#tv" x="807.4" y="350.7"/><use href="#tv" x="813.1" y="350.7"/><use href="#tv" x="818.8" y="350.7"/><use href="#tv" x="824.5" y="350.7"/><use href="#tv" x="830.2" y="350.7"/><use href="#tv" x="835.9" y="350.7"/><use href="#tv" x="841.5" y="350.7"/><use href="#tv" x="847.2" y="350.7"/><use href="#tv" x="852.9" y="350.7"/><use href="#tv" x="871.6" y="229.0"/><use href="#tv" x="877.4" y="229.0"/><use href="#tv" x="883.3" y="229.0"/><use href="#tv" x="889.1" y="229.0"/><use href="#tv" x="871.6" y="235.1"/><use href="#tv" x="877.4" y="235.1"/><use href="#tv" x="883.3" y="235.1"/><use href="#tv" x="889.1" y="235.1"/><use href="#tv" x="871.6" y="241.2"/><use href="#tv" x="877.4" y="241.2"/><use href="#tv" x="883.3" y="241.2"/><use href="#tv" x="889.1" y="241.2"/><use href="#tv" x="871.6" y="247.3"/><use href="#tv" x="877.4" y="247.3"/><use href="#tv" x="883.3" y="247.3"/><use href="#tv" x="889.1" y="247.3"/><use href="#tv" x="871.6" y="253.4"/><use href="#tv" x="877.4" y="253.4"/><use href="#tv" x="883.3" y="253.4"/><use href="#tv" x="889.1" y="253.4"/><use href="#tv" x="871.6" y="259.5"/><use href="#tv" x="877.4" y="259.5"/><use href="#tv" x="883.3" y="259.5"/><use href="#tv" x="889.1" y="259.5"/><use href="#tv" x="871.6" y="265.6"/><use href="#tv" x="877.4" y="265.6"/><use href="#tv" x="883.3" y="265.6"/><use href="#tv" x="889.1" y="265.6"/><use href="#tv" x="871.6" y="271.7"/><use href="#tv" x="877.4" y="271.7"/><use href="#tv" x="883.3" y="271.7"/><use href="#tv" x="889.1" y="271.7"/><use href="#tv" x="871.6" y="277.8"/><use href="#tv" x="877.4" y="277.8"/><use href="#tv" x="883.3" y="277.8"/><use href="#tv" x="889.1" y="277.8"/><use href="#tv" x="871.6" y="283.9"/><use href="#tv" x="877.4" y="283.9"/><use href="#tv" x="883.3" y="283.9"/><use href="#tv" x="889.1" y="283.9"/><use href="#tv" x="871.6" y="290.1"/><use href="#tv" x="877.4" y="290.1"/><use href="#tv" x="883.3" y="290.1"/><use href="#tv" x="889.1" y="290.1"/><use href="#tv" x="871.6" y="296.2"/><use href="#tv" x="877.4" y="296.2"/><use href="#tv" x="883.3" y="296.2"/><use href="#tv" x="889.1" y="296.2"/><use href="#tv" x="871.6" y="302.3"/><use href="#tv" x="877.4" y="302.3"/><use href="#tv" x="883.3" y="302.3"/><use href="#tv" x="889.1" y="302.3"/><use href="#tv" x="871.6" y="308.4"/><use href="#tv" x="877.4" y="308.4"/><use href="#tv" x="883.3" y="308.4"/><use href="#tv" x="889.1" y="308.4"/><use href="#tv" x="871.6" y="314.5"/><use href="#tv" x="877.4" y="314.5"/><use href="#tv" x="883.3" y="314.5"/><use href="#tv" x="889.1" y="314.5"/><use href="#tv" x="871.6" y="320.6"/><use href="#tv" x="877.4" y="320.6"/><use href="#tv" x="883.3" y="320.6"/><use href="#tv" x="889.1" y="320.6"/><use href="#tv" x="871.6" y="326.7"/><use href="#tv" x="877.4" y="326.7"/><use href="#tv" x="883.3" y="326.7"/><use href="#tv" x="889.1" y="326.7"/><use href="#tv" x="871.6" y="332.8"/><use href="#tv" x="877.4" y="332.8"/><use href="#tv" x="883.3" y="332.8"/><use href="#tv" x="889.1" y="332.8"/><use href="#tv" x="871.6" y="338.9"/><use href="#tv" x="877.4" y="338.9"/><use href="#tv" x="883.3" y="338.9"/><use href="#tv" x="889.1" y="338.9"/><use href="#tv" x="871.6" y="345.0"/><use href="#tv" x="877.4" y="345.0"/><use href="#tv" x="883.3" y="345.0"/><use href="#tv" x="889.1" y="345.0"/><use href="#tv" x="871.6" y="351.1"/><use href="#tv" x="877.4" y="351.1"/><use href="#tv" x="883.3" y="351.1"/><use href="#tv" x="889.1" y="351.1"/><use href="#tv" x="654.7" y="138.3"/><use href="#tv" x="660.5" y="138.3"/><use href="#tv" x="665.1" y="138.3"/><use href="#tv" x="648.9" y="142.9"/><use href="#tv" x="654.7" y="142.9"/><use href="#tv" x="660.5" y="142.9"/><use href="#tv" x="665.1" y="142.9"/><use href="#tv" x="643.1" y="148.7"/><use href="#tv" x="648.9" y="148.7"/><use href="#tv" x="654.7" y="148.7"/><use href="#tv" x="660.5" y="148.7"/><use href="#tv" x="636.8" y="153.9"/><use href="#tv" x="643.1" y="153.9"/><use href="#tv" x="648.9" y="153.9"/><use href="#tv" x="654.7" y="153.9"/><use href="#tv" x="660.5" y="153.9"/><use href="#tv" x="636.8" y="159.5"/><use href="#tv" x="643.1" y="159.5"/><use href="#tv" x="648.9" y="159.5"/><use href="#tv" x="654.7" y="159.5"/><use href="#tv" x="660.5" y="159.5"/><use href="#tv" x="636.8" y="164.9"/><use href="#tv" x="643.1" y="164.9"/><use href="#tv" x="648.9" y="164.9"/><use href="#tv" x="654.7" y="164.9"/><use href="#tv" x="660.5" y="164.9"/><use href="#tv" x="636.8" y="170.5"/><use href="#tv" x="643.1" y="170.5"/><use href="#tv" x="648.9" y="170.5"/><use href="#tv" x="654.7" y="170.5"/><use href="#tv" x="660.5" y="170.5"/><use href="#tv" x="670.9" y="131.4"/><use href="#tv" x="674.4" y="129.6"/><use href="#tv" x="672.6" y="134.3"/><use href="#tv" x="675.5" y="132.0"/><use href="#tv" x="677.3" y="170.7"/><use href="#tv" x="683.1" y="170.7"/><use href="#tv" x="688.8" y="170.7"/><use href="#tv" x="694.6" y="170.7"/><use href="#tv" x="677.3" y="176.6"/><use href="#tv" x="683.1" y="176.6"/><use href="#tv" x="688.8" y="176.6"/><use href="#tv" x="694.6" y="176.6"/><use href="#tv" x="677.3" y="182.6"/><use href="#tv" x="683.1" y="182.6"/><use href="#tv" x="688.8" y="182.6"/><use href="#tv" x="694.6" y="182.6"/><use href="#tv" x="677.3" y="188.5"/><use href="#tv" x="683.1" y="188.5"/><use href="#tv" x="688.8" y="188.5"/><use href="#tv" x="694.6" y="188.5"/><use href="#tv" x="677.3" y="194.4"/><use href="#tv" x="683.1" y="194.4"/><use href="#tv" x="688.8" y="194.4"/><use href="#tv" x="694.6" y="194.4"/><use href="#tv" x="581.2" y="209.7"/><use href="#tv" x="592.5" y="209.7"/><use href="#tv" x="603.8" y="209.7"/><use href="#tv" x="615.1" y="209.7"/><use href="#tv" x="626.5" y="209.7"/><use href="#tv" x="637.8" y="209.7"/><use href="#tv" x="649.1" y="209.7"/><use href="#tv" x="660.4" y="209.7"/><use href="#tv" x="581.2" y="221.0"/><use href="#tv" x="603.8" y="221.0"/><use href="#tv" x="615.1" y="221.0"/><use href="#tv" x="626.5" y="221.0"/><use href="#tv" x="637.8" y="221.0"/><use href="#tv" x="649.1" y="221.0"/><use href="#tv" x="660.4" y="221.0"/><use href="#tv" x="603.8" y="232.3"/><use href="#tv" x="615.1" y="232.3"/><use href="#tv" x="626.5" y="232.3"/><use href="#tv" x="637.8" y="232.3"/><use href="#tv" x="649.1" y="232.3"/><use href="#tv" x="660.4" y="232.3"/><use href="#tv" x="581.2" y="243.6"/><use href="#tv" x="592.5" y="243.6"/><use href="#tv" x="603.8" y="243.6"/><use href="#tv" x="615.1" y="243.6"/><use href="#tv" x="626.5" y="243.6"/><use href="#tv" x="637.8" y="243.6"/><use href="#tv" x="649.1" y="243.6"/><use href="#tv" x="660.4" y="243.6"/><use href="#tv" x="581.2" y="254.9"/><use href="#tv" x="603.8" y="254.9"/><use href="#tv" x="615.1" y="254.9"/><use href="#tv" x="603.8" y="266.2"/><use href="#tv" x="615.1" y="266.2"/><use href="#tv" x="581.2" y="277.6"/><use href="#tv" x="592.5" y="277.6"/><use href="#tv" x="603.8" y="277.6"/><use href="#tv" x="615.1" y="277.6"/><use href="#tv" x="581.2" y="288.9"/><use href="#tv" x="592.5" y="288.9"/><use href="#tv" x="603.8" y="288.9"/><use href="#tv" x="615.1" y="288.9"/><use href="#tv" x="581.2" y="300.2"/><use href="#tv" x="592.5" y="300.2"/><use href="#tv" x="603.8" y="300.2"/><use href="#tv" x="615.1" y="300.2"/><use href="#tv" x="581.2" y="311.5"/><use href="#tv" x="592.5" y="311.5"/><use href="#tv" x="603.8" y="311.5"/><use href="#tv" x="615.1" y="311.5"/><use href="#tv" x="581.2" y="322.8"/><use href="#tv" x="592.5" y="322.8"/><use href="#tv" x="603.8" y="322.8"/><use href="#tv" x="615.1" y="322.8"/><use href="#tv" x="626.5" y="322.8"/><use href="#tv" x="637.8" y="322.8"/><use href="#tv" x="649.1" y="322.8"/><use href="#tv" x="660.4" y="322.8"/><use href="#tv" x="626.5" y="258.6"/><use href="#tv" x="632.0" y="258.6"/><use href="#tv" x="637.5" y="258.6"/><use href="#tv" x="643.0" y="258.6"/><use href="#tv" x="648.4" y="258.6"/><use href="#tv" x="653.9" y="258.6"/><use href="#tv" x="659.4" y="258.6"/><use href="#tv" x="626.5" y="264.4"/><use href="#tv" x="632.0" y="264.4"/><use href="#tv" x="637.5" y="264.4"/><use href="#tv" x="643.0" y="264.4"/><use href="#tv" x="648.4" y="264.4"/><use href="#tv" x="653.9" y="264.4"/><use href="#tv" x="659.4" y="264.4"/><use href="#tv" x="626.5" y="270.2"/><use href="#tv" x="632.0" y="270.2"/><use href="#tv" x="637.5" y="270.2"/><use href="#tv" x="643.0" y="270.2"/><use href="#tv" x="648.4" y="270.2"/><use href="#tv" x="653.9" y="270.2"/><use href="#tv" x="659.4" y="270.2"/><use href="#tv" x="626.5" y="276.0"/><use href="#tv" x="632.0" y="276.0"/><use href="#tv" x="637.5" y="276.0"/><use href="#tv" x="643.0" y="276.0"/><use href="#tv" x="648.4" y="276.0"/><use href="#tv" x="653.9" y="276.0"/><use href="#tv" x="659.4" y="276.0"/><use href="#tv" x="626.5" y="281.9"/><use href="#tv" x="632.0" y="281.9"/><use href="#tv" x="637.5" y="281.9"/><use href="#tv" x="643.0" y="281.9"/><use href="#tv" x="648.4" y="281.9"/><use href="#tv" x="653.9" y="281.9"/><use href="#tv" x="659.4" y="281.9"/><use href="#tv" x="626.5" y="287.7"/><use href="#tv" x="632.0" y="287.7"/><use href="#tv" x="637.5" y="287.7"/><use href="#tv" x="643.0" y="287.7"/><use href="#tv" x="648.4" y="287.7"/><use href="#tv" x="653.9" y="287.7"/><use href="#tv" x="659.4" y="287.7"/><use href="#tv" x="626.5" y="293.5"/><use href="#tv" x="632.0" y="293.5"/><use href="#tv" x="637.5" y="293.5"/><use href="#tv" x="643.0" y="293.5"/><use href="#tv" x="648.4" y="293.5"/><use href="#tv" x="653.9" y="293.5"/><use href="#tv" x="659.4" y="293.5"/><use href="#tv" x="626.5" y="299.3"/><use href="#tv" x="632.0" y="299.3"/><use href="#tv" x="637.5" y="299.3"/><use href="#tv" x="643.0" y="299.3"/><use href="#tv" x="648.4" y="299.3"/><use href="#tv" x="653.9" y="299.3"/><use href="#tv" x="659.4" y="299.3"/><use href="#tv" x="686.4" y="262.5"/><use href="#tv" x="691.9" y="262.5"/><use href="#tv" x="697.5" y="262.5"/><use href="#tv" x="703.0" y="262.5"/><use href="#tv" x="708.5" y="262.5"/><use href="#tv" x="714.1" y="262.5"/><use href="#tv" x="719.6" y="262.5"/><use href="#tv" x="686.4" y="267.7"/><use href="#tv" x="691.9" y="267.7"/><use href="#tv" x="697.5" y="267.7"/><use href="#tv" x="703.0" y="267.7"/><use href="#tv" x="708.5" y="267.7"/><use href="#tv" x="714.1" y="267.7"/><use href="#tv" x="719.6" y="267.7"/><use href="#tv" x="686.4" y="273.0"/><use href="#tv" x="691.9" y="273.0"/><use href="#tv" x="697.5" y="273.0"/><use href="#tv" x="703.0" y="273.0"/><use href="#tv" x="708.5" y="273.0"/><use href="#tv" x="714.1" y="273.0"/><use href="#tv" x="719.6" y="273.0"/><use href="#tv" x="686.4" y="278.2"/><use href="#tv" x="691.9" y="278.2"/><use href="#tv" x="697.5" y="278.2"/><use href="#tv" x="703.0" y="278.2"/><use href="#tv" x="708.5" y="278.2"/><use href="#tv" x="714.1" y="278.2"/><use href="#tv" x="719.6" y="278.2"/><use href="#tv" x="686.4" y="283.4"/><use href="#tv" x="691.9" y="283.4"/><use href="#tv" x="697.5" y="283.4"/><use href="#tv" x="703.0" y="283.4"/><use href="#tv" x="708.5" y="283.4"/><use href="#tv" x="714.1" y="283.4"/><use href="#tv" x="719.6" y="283.4"/><use href="#tv" x="686.4" y="288.6"/><use href="#tv" x="691.9" y="288.6"/><use href="#tv" x="697.5" y="288.6"/><use href="#tv" x="703.0" y="288.6"/><use href="#tv" x="708.5" y="288.6"/><use href="#tv" x="714.1" y="288.6"/><use href="#tv" x="719.6" y="288.6"/><use href="#tv" x="686.4" y="293.9"/><use href="#tv" x="691.9" y="293.9"/><use href="#tv" x="697.5" y="293.9"/><use href="#tv" x="703.0" y="293.9"/><use href="#tv" x="708.5" y="293.9"/><use href="#tv" x="714.1" y="293.9"/><use href="#tv" x="719.6" y="293.9"/><use href="#tv" x="686.4" y="299.1"/><use href="#tv" x="691.9" y="299.1"/><use href="#tv" x="697.5" y="299.1"/><use href="#tv" x="703.0" y="299.1"/><use href="#tv" x="708.5" y="299.1"/><use href="#tv" x="714.1" y="299.1"/><use href="#tv" x="719.6" y="299.1"/><use href="#tv" x="620.8" y="324.1"/><use href="#tv" x="626.5" y="324.1"/><use href="#tv" x="632.1" y="324.1"/><use href="#tv" x="637.8" y="324.1"/><use href="#tv" x="621.7" y="351.0"/><use href="#tv" x="627.3" y="351.0"/><use href="#tv" x="633.0" y="351.0"/><use href="#tv" x="638.6" y="351.0"/><use href="#tv" x="612.3" y="329.5"/><use href="#tv" x="617.9" y="329.5"/><use href="#tv" x="612.3" y="335.0"/><use href="#tv" x="617.9" y="335.0"/><use href="#tv" x="612.3" y="340.4"/><use href="#tv" x="617.9" y="340.4"/><use href="#tv" x="612.3" y="345.9"/><use href="#tv" x="617.9" y="345.9"/><use href="#tv" x="642.4" y="329.5"/><use href="#tv" x="647.9" y="329.5"/><use href="#tv" x="642.4" y="335.0"/><use href="#tv" x="647.9" y="335.0"/><use href="#tv" x="642.4" y="340.4"/><use href="#tv" x="647.9" y="340.4"/><use href="#tv" x="642.4" y="345.9"/><use href="#tv" x="647.9" y="345.9"/><use href="#tv" x="686.0" y="324.2"/><use href="#tv" x="691.7" y="324.2"/><use href="#tv" x="697.3" y="324.2"/><use href="#tv" x="703.0" y="324.2"/><use href="#tv" x="686.9" y="351.1"/><use href="#tv" x="692.5" y="351.1"/><use href="#tv" x="698.2" y="351.1"/><use href="#tv" x="703.8" y="351.1"/><use href="#tv" x="677.5" y="329.6"/><use href="#tv" x="683.1" y="329.6"/><use href="#tv" x="677.5" y="335.1"/><use href="#tv" x="683.1" y="335.1"/><use href="#tv" x="677.5" y="340.5"/><use href="#tv" x="683.1" y="340.5"/><use href="#tv" x="677.5" y="346.0"/><use href="#tv" x="683.1" y="346.0"/><use href="#tv" x="707.6" y="329.6"/><use href="#tv" x="713.1" y="329.6"/><use href="#tv" x="707.6" y="335.1"/><use href="#tv" x="713.1" y="335.1"/><use href="#tv" x="707.6" y="340.5"/><use href="#tv" x="713.1" y="340.5"/><use href="#tv" x="707.6" y="346.0"/><use href="#tv" x="713.1" y="346.0"/><g transform="translate(567.0,23.0)"><circle cx="17.0" cy="19.3" r="11.60" fill="#fff" /><circle cx="17.0" cy="19.3" r="10.60" fill="#000" /><circle cx="17.0" cy="19.3" r="8.40" fill="#c9c9c9" /><circle cx="426.0" cy="18.6" r="11.60" fill="#fff" /><circle cx="426.0" cy="18.6" r="10.60" fill="#000" /><circle cx="426.0" cy="18.6" r="8.40" fill="#c9c9c9" /><circle cx="16.5" cy="322.0" r="11.60" fill="#fff" /><circle cx="16.5" cy="322.0" r="10.60" fill="#000" /><circle cx="16.5" cy="322.0" r="8.40" fill="#c9c9c9" /><circle cx="424.3" cy="320.2" r="11.60" fill="#fff" /><circle cx="424.3" cy="320.2" r="10.60" fill="#000" /><circle cx="424.3" cy="320.2" r="8.40" fill="#c9c9c9" /><circle cx="56.9" cy="20.0" r="9.80" fill="#fff" /><circle cx="56.9" cy="20.0" r="8.80" fill="#000" /><circle cx="56.9" cy="20.0" r="2.60" fill="#c9c9c9" /><circle cx="88.8" cy="20.0" r="8.80" fill="#000" /><circle cx="88.8" cy="20.0" r="2.60" fill="#c9c9c9" /><circle cx="121.0" cy="20.0" r="8.80" fill="#000" /><circle cx="121.0" cy="20.0" r="2.60" fill="#c9c9c9" /><circle cx="155.0" cy="20.0" r="9.80" fill="#fff" /><circle cx="155.0" cy="20.0" r="8.80" fill="#000" /><circle cx="155.0" cy="20.0" r="2.60" fill="#c9c9c9" /><rect x="69.5" y="55.699999999999996" width="7.2" height="7.2" fill="#000"/><circle cx="73.1" cy="59.3" r="2.10" fill="#c9c9c9" /><circle cx="84.1" cy="59.3" r="3.50" fill="#000" /><circle cx="84.1" cy="59.3" r="2.10" fill="#c9c9c9" /><circle cx="95.0" cy="59.3" r="3.50" fill="#000" /><circle cx="95.0" cy="59.3" r="2.10" fill="#c9c9c9" /><circle cx="106.0" cy="59.3" r="3.50" fill="#000" /><circle cx="106.0" cy="59.3" r="2.10" fill="#c9c9c9" /><circle cx="117.0" cy="59.3" r="3.50" fill="#000" /><circle cx="117.0" cy="59.3" r="2.10" fill="#c9c9c9" /><circle cx="128.0" cy="59.3" r="3.50" fill="#000" /><circle cx="128.0" cy="59.3" r="2.10" fill="#c9c9c9" /><circle cx="139.0" cy="59.3" r="3.50" fill="#000" /><circle cx="139.0" cy="59.3" r="2.10" fill="#c9c9c9" /><circle cx="149.7" cy="59.3" r="3.50" fill="#000" /><circle cx="149.7" cy="59.3" r="2.10" fill="#c9c9c9" /><circle cx="22.3" cy="54.1" r="3.40" fill="#000" /><circle cx="22.3" cy="54.1" r="2.30" fill="#c9c9c9" /><circle cx="22.3" cy="76.1" r="4.90" fill="#fff" /><circle cx="22.3" cy="76.1" r="4.10" fill="#000" /><circle cx="22.3" cy="76.1" r="2.60" fill="#c9c9c9" /><circle cx="22.3" cy="98.1" r="4.90" fill="#fff" /><circle cx="22.3" cy="98.1" r="4.10" fill="#000" /><circle cx="22.3" cy="98.1" r="2.60" fill="#c9c9c9" /><rect x="17.8" y="131.4" width="9" height="9" fill="#fff"/><rect x="18.8" y="132.4" width="7" height="7" fill="#000"/><circle cx="22.3" cy="135.9" r="2.40" fill="#c9c9c9" /><circle cx="22.3" cy="146.9" r="4.20" fill="#fff" /><circle cx="22.3" cy="146.9" r="3.40" fill="#000" /><circle cx="22.3" cy="146.9" r="2.30" fill="#c9c9c9" /><circle cx="22.3" cy="157.2" r="3.40" fill="#000" /><circle cx="22.3" cy="157.2" r="2.30" fill="#c9c9c9" /><circle cx="22.3" cy="208.1" r="9.40" fill="#fff" /><circle cx="22.3" cy="208.1" r="8.40" fill="#000" /><circle cx="22.3" cy="208.1" r="2.60" fill="#c9c9c9" /><circle cx="22.3" cy="238.6" r="9.40" fill="#fff" /><circle cx="22.3" cy="238.6" r="8.40" fill="#000" /><circle cx="22.3" cy="238.6" r="2.60" fill="#c9c9c9" /><circle cx="314.4" cy="83.4" r="9.50" fill="#000" /><circle cx="314.4" cy="83.4" r="4.50" fill="#c9c9c9" /><circle cx="314.4" cy="184.4" r="9.50" fill="#000" /><circle cx="314.4" cy="184.4" r="4.50" fill="#c9c9c9" /><rect x="89.7" y="281.9" width="8.6" height="8.6" fill="#000"/><circle cx="94.0" cy="286.2" r="2.60" fill="#c9c9c9" /><circle cx="126.4" cy="285.9" r="4.60" fill="#000" /><circle cx="126.4" cy="285.9" r="2.30" fill="#c9c9c9" /><circle cx="62.3" cy="315.3" r="9.90" fill="#000" /><circle cx="62.3" cy="315.3" r="4.50" fill="#c9c9c9" /><circle cx="127.3" cy="315.3" r="10.40" fill="#000" /><circle cx="127.3" cy="315.3" r="4.50" fill="#c9c9c9" /><circle cx="204.4" cy="315.3" r="8.00" fill="#000" /><circle cx="204.4" cy="315.3" r="2.50" fill="#c9c9c9" /><circle cx="245.3" cy="213.0" r="5.00" fill="#000" /><circle cx="245.3" cy="213.0" r="2.40" fill="#c9c9c9" /><circle cx="245.3" cy="240.5" r="5.00" fill="#000" /><circle cx="245.3" cy="240.5" r="2.40" fill="#c9c9c9" /><circle cx="245.3" cy="267.3" r="5.00" fill="#000" /><circle cx="245.3" cy="267.3" r="2.40" fill="#c9c9c9" /><circle cx="245.3" cy="294.2" r="5.00" fill="#000" /><circle cx="245.3" cy="294.2" r="2.40" fill="#c9c9c9" /><circle cx="245.3" cy="321.1" r="5.00" fill="#000" /><circle cx="245.3" cy="321.1" r="2.40" fill="#c9c9c9" /><circle cx="329.3" cy="213.0" r="5.00" fill="#000" /><circle cx="329.3" cy="213.0" r="2.40" fill="#c9c9c9" /><circle cx="329.3" cy="240.5" r="5.00" fill="#000" /><circle cx="329.3" cy="240.5" r="2.40" fill="#c9c9c9" /><circle cx="329.3" cy="267.3" r="5.00" fill="#000" /><circle cx="329.3" cy="267.3" r="2.40" fill="#c9c9c9" /><circle cx="329.3" cy="294.2" r="5.00" fill="#000" /><circle cx="329.3" cy="294.2" r="2.40" fill="#c9c9c9" /><circle cx="329.3" cy="321.1" r="5.00" fill="#000" /><circle cx="329.3" cy="321.1" r="2.40" fill="#c9c9c9" /></g>
<rect x="52.699999999999996" y="24.4" width="442.2" height="336.2" fill="#fff" stroke="#000" stroke-width="2.8"/><text class="sk" x="97.9" y="32.4" font-size="6.4" textLength="22.7" lengthAdjust="spacingAndGlyphs" style="stroke-width:0.3px">OC_REF</text><rect x="99.3" y="34.2" width="18.3" height="17.8" fill="none" stroke="#000" stroke-width="1.0"/><text class="sk" x="127.2" y="32.4" font-size="6.4" textLength="27.1" lengthAdjust="spacingAndGlyphs" style="stroke-width:0.3px">REF_GND</text><rect x="130.8" y="34.2" width="17.8" height="17.8" fill="none" stroke="#000" stroke-width="1.0"/><text class="sk" x="159.6" y="32.4" font-size="6.4" textLength="27.4" lengthAdjust="spacingAndGlyphs" style="stroke-width:0.3px">VCC_GND</text><rect x="163.3" y="34.2" width="17.8" height="17.8" fill="none" stroke="#000" stroke-width="1.0"/><text class="sk" x="201.6" y="32.4" font-size="6.4" textLength="11.7" lengthAdjust="spacingAndGlyphs" style="stroke-width:0.3px">VCC</text><rect x="197.5" y="34.2" width="17.8" height="17.8" fill="none" stroke="#000" stroke-width="1.0"/><path d="M104.4 32.3 H107.4 M136.3 32.3 H139.2 M168.7 32.3 H171.7" stroke="#000" stroke-width="0.9"/><rect x="68.0" y="72.3" width="11.0" height="10.9" fill="none" stroke="#000" stroke-width="0.9"/><text class="sk" x="80.6" y="80.8" font-size="8.4" textLength="13.6" lengthAdjust="spacingAndGlyphs" style="stroke-width:0.12px">GND</text><rect x="68.0" y="93.5" width="11.0" height="10.9" fill="none" stroke="#000" stroke-width="0.9"/><text class="sk" x="80.6" y="102.0" font-size="8.4" textLength="26.5" lengthAdjust="spacingAndGlyphs" style="stroke-width:0.12px">nFAULT</text><rect x="68.0" y="115.0" width="11.0" height="10.9" fill="none" stroke="#000" stroke-width="0.9"/><text class="sk" x="80.6" y="123.5" font-size="8.4" textLength="26.5" lengthAdjust="spacingAndGlyphs" style="stroke-width:0.12px">nSLEEP</text><rect x="68.6" y="148.7" width="10.9" height="42.0" fill="none" stroke="#000" stroke-width="1.0"/><text class="sk" x="67.5" y="199.5" font-size="6" textLength="12.0" lengthAdjust="spacingAndGlyphs" style="stroke-width:0.3px">SW1</text><rect x="119.3" y="76.4" width="87.4" height="11.7" fill="none" stroke="#000" stroke-width="1.0"/><text class="sk" x="209.7" y="85.6" font-size="7" textLength="11.0" lengthAdjust="spacingAndGlyphs" style="stroke-width:0.3px">CN1</text><text class="sk" style="stroke-width:0.32px" font-size="5.8" textLength="9.5" lengthAdjust="spacingAndGlyphs" transform="translate(126.0,74.6) rotate(-90)">ENA</text><text class="sk" style="stroke-width:0.32px" font-size="5.8" textLength="9.5" lengthAdjust="spacingAndGlyphs" transform="translate(136.3,74.6) rotate(-90)">ENB</text><text class="sk" style="stroke-width:0.32px" font-size="5.8" textLength="13" lengthAdjust="spacingAndGlyphs" transform="translate(147.3,74.6) rotate(-90)">PWMA</text><text class="sk" style="stroke-width:0.32px" font-size="5.8" textLength="12.5" lengthAdjust="spacingAndGlyphs" transform="translate(158.5,74.6) rotate(-90)">PWMB</text><text class="sk" style="stroke-width:0.32px" font-size="5.8" textLength="9.5" lengthAdjust="spacingAndGlyphs" transform="translate(170.3,74.6) rotate(-90)">GND</text><text class="sk" style="stroke-width:0.32px" font-size="5.8" textLength="19" lengthAdjust="spacingAndGlyphs" transform="translate(181.0,74.6) rotate(-90)">nFAULT</text><text class="sk" style="stroke-width:0.32px" font-size="5.8" textLength="9.5" lengthAdjust="spacingAndGlyphs" transform="translate(192.0,74.6) rotate(-90)">GND</text><text class="sk" style="stroke-width:0.32px" font-size="5.8" textLength="9.5" lengthAdjust="spacingAndGlyphs" transform="translate(203.0,74.6) rotate(-90)">VCC</text><rect x="177.4" y="93.2" width="11.6" height="4.2" fill="none" stroke="#000" stroke-width="0.9"/><text class="sk" x="164.0" y="97.9" font-size="6.8" textLength="12.0" lengthAdjust="spacingAndGlyphs" style="stroke-width:0.3px">R12</text><rect x="177.4" y="99.1" width="11.6" height="4.4" fill="none" stroke="#000" stroke-width="0.9"/><text class="sk" x="164.0" y="103.6" font-size="6.8" textLength="12.0" lengthAdjust="spacingAndGlyphs" style="stroke-width:0.3px">C13</text><rect x="192.6" y="93.5" width="11.0" height="3.9" fill="none" stroke="#000" stroke-width="0.9"/><text class="sk" x="205.3" y="98.2" font-size="6.8" textLength="8.5" lengthAdjust="spacingAndGlyphs" style="stroke-width:0.3px">C8</text><rect x="114.5" y="105.2" width="11.5" height="4.9" fill="none" stroke="#000" stroke-width="0.9"/><text class="sk" x="116.9" y="104.0" font-size="6.8" textLength="8.5" lengthAdjust="spacingAndGlyphs" style="stroke-width:0.3px">R6</text><rect x="127.9" y="105.2" width="12.2" height="4.9" fill="none" stroke="#000" stroke-width="0.9"/><text class="sk" x="129.8" y="104.0" font-size="6.8" textLength="8.3" lengthAdjust="spacingAndGlyphs" style="stroke-width:0.3px">R5</text><rect x="140.6" y="105.2" width="14.1" height="4.9" fill="none" stroke="#000" stroke-width="0.9"/><text class="sk" x="141.0" y="104.0" font-size="6.8" textLength="15.7" lengthAdjust="spacingAndGlyphs" style="stroke-width:0.3px">LED1</text><rect x="153" y="104.6" width="1.8" height="6" fill="#000"/><circle cx="147.6" cy="107.7" r="0.80" fill="#000" /><rect x="143.8" y="111.3" width="10.9" height="4.4" fill="none" stroke="#000" stroke-width="0.9"/><text class="sk" x="134.5" y="116.3" font-size="6.8" textLength="8.5" lengthAdjust="spacingAndGlyphs" style="stroke-width:0.3px">R7</text><rect x="143.8" y="117.4" width="10.9" height="4.4" fill="none" stroke="#000" stroke-width="0.9"/><text class="sk" x="134.5" y="122.4" font-size="6.8" textLength="8.5" lengthAdjust="spacingAndGlyphs" style="stroke-width:0.3px">R8</text><rect x="143.8" y="123.5" width="10.9" height="4.9" fill="none" stroke="#000" stroke-width="0.9"/><text class="sk" x="134.5" y="128.6" font-size="6.8" textLength="8.5" lengthAdjust="spacingAndGlyphs" style="stroke-width:0.3px">R9</text><polyline points="168.6,112.8 166.6,112.8 166.6,114.8" fill="none" stroke="#000" stroke-width="0.8"/><polyline points="186.2,112.8 188.2,112.8 188.2,114.8" fill="none" stroke="#000" stroke-width="0.8"/><polyline points="168.6,130.6 166.6,130.6 166.6,128.6" fill="none" stroke="#000" stroke-width="0.8"/><polyline points="186.2,130.6 188.2,130.6 188.2,128.6" fill="none" stroke="#000" stroke-width="0.8"/><circle cx="166.8" cy="132.3" r="0.70" fill="#000" /><text class="sk" x="176.7" y="140.6" font-size="6.8" textLength="7.3" lengthAdjust="spacingAndGlyphs" style="stroke-width:0.3px">U1</text><rect x="194.3" y="110.1" width="11.7" height="4.4" fill="none" stroke="#000" stroke-width="0.9"/><text class="sk" x="207.2" y="115.3" font-size="6.8" textLength="11.3" lengthAdjust="spacingAndGlyphs" style="stroke-width:0.3px">C12</text><rect x="194.3" y="115.7" width="11.7" height="4.7" fill="none" stroke="#000" stroke-width="0.9"/><text class="sk" x="207.2" y="121.3" font-size="6.8" textLength="11.3" lengthAdjust="spacingAndGlyphs" style="stroke-width:0.3px">R11</text><rect x="194.3" y="134.0" width="11.7" height="4.2" fill="none" stroke="#000" stroke-width="0.9"/><text class="sk" x="207.2" y="139.0" font-size="6.8" textLength="11.3" lengthAdjust="spacingAndGlyphs" style="stroke-width:0.3px">C11</text><rect x="194.3" y="139.4" width="11.7" height="4.4" fill="none" stroke="#000" stroke-width="0.9"/><text class="sk" x="207.2" y="144.6" font-size="6.8" textLength="11.3" lengthAdjust="spacingAndGlyphs" style="stroke-width:0.3px">R10</text><rect x="152.8" y="135.7" width="13.7" height="6.1" fill="none" stroke="#000" stroke-width="0.9"/><text class="sk" x="141.3" y="141.5" font-size="6.8" textLength="9.7" lengthAdjust="spacingAndGlyphs" style="stroke-width:0.3px">C7</text><rect x="147.4" y="143.0" width="21.5" height="12.3" fill="none" stroke="#000" stroke-width="0.9"/><text class="sk" x="137.3" y="153.8" font-size="6.8" textLength="8.2" lengthAdjust="spacingAndGlyphs" style="stroke-width:0.3px">C6</text><rect x="148.2" y="156.0" width="21.7" height="12.2" fill="none" stroke="#000" stroke-width="0.9"/><text class="sk" x="136.5" y="165.0" font-size="6.8" textLength="9.0" lengthAdjust="spacingAndGlyphs" style="stroke-width:0.3px">C5</text><rect x="170.6" y="143.0" width="15.2" height="5.0" fill="none" stroke="#000" stroke-width="0.9"/><text class="sk" x="175.5" y="155.3" font-size="6.8" textLength="8.5" lengthAdjust="spacingAndGlyphs" style="stroke-width:0.3px">C9</text><rect x="186.5" y="144.8" width="22.0" height="9.7" fill="none" stroke="#000" stroke-width="0.9"/><text class="sk" x="209.7" y="151.8" font-size="6.8" textLength="13.1" lengthAdjust="spacingAndGlyphs" style="stroke-width:0.3px">C10</text><rect x="123.9" y="170.2" width="75.7" height="128.0" fill="none" stroke="#000" stroke-width="0.9"/><rect x="196.3" y="170" width="4.8" height="128.4" fill="#000"/><text class="sk" x="206.0" y="179.7" font-size="6.8" textLength="7.8" lengthAdjust="spacingAndGlyphs" style="stroke-width:0.3px">C1</text><path d="M126.5 291.7 H131.8 M129.1 289 V294.4" stroke="#000" stroke-width="0.8"/><path d="M145.5 298.2 V305.9 M178 298.2 V305.9" stroke="#000" stroke-width="0.8"/><rect x="65.2" y="222.3" width="18.3" height="17.4" fill="none" stroke="#000" stroke-width="1.0"/><text class="sk" x="85.8" y="233.5" font-size="8.1" textLength="15.8" lengthAdjust="spacingAndGlyphs" style="stroke-width:0.12px">GND</text><rect x="65.2" y="252.4" width="18.3" height="17.8" fill="none" stroke="#000" stroke-width="1.0"/><text class="sk" x="85.8" y="263.5" font-size="8.1" textLength="15.8" lengthAdjust="spacingAndGlyphs" style="stroke-width:0.12px">GND</text><text class="sk" x="105.8" y="321.8" font-size="9.1" textLength="16.6" lengthAdjust="spacingAndGlyphs" style="stroke-width:0.12px">VIN</text><rect x="101.7" y="326.2" width="24.9" height="24.4" fill="none" stroke="#000" stroke-width="0.9"/><text class="sk" x="160.0" y="322.7" font-size="9.0" textLength="40.2" lengthAdjust="spacingAndGlyphs" style="stroke-width:0.12px">VIN_GND</text><rect x="166.7" y="326.2" width="24.6" height="24.4" fill="none" stroke="#000" stroke-width="0.9"/><text class="sk" x="248.2" y="326.6" font-size="8.4" textLength="16.4" lengthAdjust="spacingAndGlyphs" style="stroke-width:0.12px">GND</text><rect x="247.2" y="329.1" width="18.3" height="18.2" fill="none" stroke="#000" stroke-width="0.9"/><rect x="264.0" y="40.9" width="71.4" height="49.6" fill="none" stroke="#000" stroke-width="0.9"/><text class="sk" x="320.3" y="38.4" font-size="6.6" textLength="7.6" lengthAdjust="spacingAndGlyphs" style="stroke-width:0.3px">M1</text><rect x="365.0" y="40.9" width="71.5" height="49.6" fill="none" stroke="#000" stroke-width="0.9"/><text class="sk" x="420.3" y="38.4" font-size="6.6" textLength="9.0" lengthAdjust="spacingAndGlyphs" style="stroke-width:0.3px">M2</text><rect x="264.0" y="141.9" width="71.4" height="48.9" fill="none" stroke="#000" stroke-width="0.9"/><text class="sk" x="321.3" y="138.7" font-size="6.6" textLength="7.9" lengthAdjust="spacingAndGlyphs" style="stroke-width:0.3px">M3</text><rect x="365.0" y="141.9" width="71.5" height="48.9" fill="none" stroke="#000" stroke-width="0.9"/><text class="sk" x="420.3" y="138.7" font-size="6.6" textLength="8.5" lengthAdjust="spacingAndGlyphs" style="stroke-width:0.3px">M4</text><text class="sk" x="241.6" y="104.6" font-size="6.5" textLength="9.0" lengthAdjust="spacingAndGlyphs" style="stroke-width:0.3px">C3</text><rect x="253.1" y="95.6" width="22.7" height="12.6" fill="none" stroke="#000" stroke-width="0.9"/><rect x="279.6" y="96.7" width="12.1" height="5.1" fill="none" stroke="#000" stroke-width="0.9"/><text class="sk" x="293.0" y="101.5" font-size="6.2" textLength="7.5" lengthAdjust="spacingAndGlyphs" style="stroke-width:0.3px">R1</text><path d="M284.2 103.9 H282.7 V110.80000000000001 H284.2 M296.2 103.9 H285.2 M296.2 110.80000000000001 H285.2 M296.2 103.9 V104.9 M296.2 110.80000000000001 V109.80000000000001" fill="none" stroke="#000" stroke-width="0.9"/><rect x="282.9" y="104.4" width="2.6" height="6" fill="#000"/><rect x="281.7" y="109.7" width="5" height="1.4" fill="#000"/><text class="sk" x="301.5" y="110.8" font-size="7.0" textLength="7.3" lengthAdjust="spacingAndGlyphs" style="stroke-width:0.3px">D1</text><text class="sk" x="329.8" y="110.8" font-size="8.0" textLength="21.1" lengthAdjust="spacingAndGlyphs" style="stroke-width:0.12px">OUTA</text><rect x="353.7" y="94.3" width="24.9" height="24.5" fill="none" stroke="#000" stroke-width="0.9"/><rect x="389.4" y="97.4" width="12.1" height="5.7" fill="none" stroke="#000" stroke-width="0.9"/><text class="sk" x="402.8" y="102.5" font-size="6.2" textLength="8.2" lengthAdjust="spacingAndGlyphs" style="stroke-width:0.3px">R2</text><path d="M390.4 105.1 H388.9 V112.0 H390.4 M402.4 105.1 H391.4 M402.4 112.0 H391.4 M402.4 105.1 V106.1 M402.4 112.0 V111.0" fill="none" stroke="#000" stroke-width="0.9"/><rect x="389.09999999999997" y="105.6" width="2.6" height="6" fill="#000"/><rect x="387.9" y="110.89999999999999" width="5" height="1.4" fill="#000"/><text class="sk" x="407.4" y="111.8" font-size="7.0" textLength="9.0" lengthAdjust="spacingAndGlyphs" style="stroke-width:0.3px">D2</text><text class="sk" x="241.6" y="205.9" font-size="6.5" textLength="9.0" lengthAdjust="spacingAndGlyphs" style="stroke-width:0.3px">C4</text><rect x="253.1" y="196.9" width="22.7" height="12.6" fill="none" stroke="#000" stroke-width="0.9"/><rect x="279.6" y="198.0" width="12.1" height="5.1" fill="none" stroke="#000" stroke-width="0.9"/><text class="sk" x="293.0" y="202.8" font-size="6.2" textLength="7.5" lengthAdjust="spacingAndGlyphs" style="stroke-width:0.3px">R3</text><path d="M284.2 205.2 H282.7 V212.1 H284.2 M296.2 205.2 H285.2 M296.2 212.1 H285.2 M296.2 205.2 V206.2 M296.2 212.1 V211.1" fill="none" stroke="#000" stroke-width="0.9"/><rect x="282.9" y="205.7" width="2.6" height="6" fill="#000"/><rect x="281.7" y="211.0" width="5" height="1.4" fill="#000"/><text class="sk" x="301.5" y="212.1" font-size="7.0" textLength="7.3" lengthAdjust="spacingAndGlyphs" style="stroke-width:0.3px">D3</text><text class="sk" x="329.8" y="212.1" font-size="8.0" textLength="21.1" lengthAdjust="spacingAndGlyphs" style="stroke-width:0.12px">OUTB</text><rect x="353.7" y="195.6" width="24.9" height="24.5" fill="none" stroke="#000" stroke-width="0.9"/><rect x="389.4" y="198.7" width="12.1" height="5.7" fill="none" stroke="#000" stroke-width="0.9"/><text class="sk" x="402.8" y="203.8" font-size="6.2" textLength="8.2" lengthAdjust="spacingAndGlyphs" style="stroke-width:0.3px">R4</text><path d="M390.4 206.39999999999998 H388.9 V213.29999999999998 H390.4 M402.4 206.39999999999998 H391.4 M402.4 213.29999999999998 H391.4 M402.4 206.39999999999998 V207.39999999999998 M402.4 213.29999999999998 V212.29999999999998" fill="none" stroke="#000" stroke-width="0.9"/><rect x="389.09999999999997" y="206.89999999999998" width="2.6" height="6" fill="#000"/><rect x="387.9" y="212.2" width="5" height="1.4" fill="#000"/><text class="sk" x="407.4" y="213.1" font-size="7.0" textLength="9.0" lengthAdjust="spacingAndGlyphs" style="stroke-width:0.3px">D4</text><text class="sk" x="289.7" y="227.8" font-size="6.3" textLength="12.8" lengthAdjust="spacingAndGlyphs" style="stroke-width:0.3px">R13</text><rect x="306.6" y="224.4" width="65.0" height="21.9" fill="none" stroke="#000" stroke-width="0.9"/><path d="M298.9 235.4 H306.6 M371.6 235.4 H379.1" stroke="#000" stroke-width="0.9"/><text class="sk" x="289.7" y="256.1" font-size="6.3" textLength="12.8" lengthAdjust="spacingAndGlyphs" style="stroke-width:0.3px">R14</text><rect x="306.6" y="251.4" width="65.0" height="21.9" fill="none" stroke="#000" stroke-width="0.9"/><path d="M298.9 262.4 H306.6 M371.6 262.4 H379.1" stroke="#000" stroke-width="0.9"/><text class="sk" x="289.7" y="282.3" font-size="6.3" textLength="12.8" lengthAdjust="spacingAndGlyphs" style="stroke-width:0.3px">R15</text><rect x="306.6" y="278.9" width="65.0" height="21.4" fill="none" stroke="#000" stroke-width="0.9"/><path d="M298.9 289.6 H306.6 M371.6 289.6 H379.1" stroke="#000" stroke-width="0.9"/><text class="sk" x="289.7" y="310.6" font-size="6.3" textLength="12.8" lengthAdjust="spacingAndGlyphs" style="stroke-width:0.3px">R16</text><rect x="306.6" y="305.9" width="65.0" height="21.4" fill="none" stroke="#000" stroke-width="0.9"/><path d="M298.9 316.6 H306.6 M371.6 316.6 H379.1" stroke="#000" stroke-width="0.9"/><text class="sk" x="289.7" y="335.8" font-size="6.3" textLength="12.8" lengthAdjust="spacingAndGlyphs" style="stroke-width:0.3px">R17</text><rect x="306.6" y="332.4" width="65.0" height="21.9" fill="none" stroke="#000" stroke-width="0.9"/><path d="M298.9 343.4 H306.6 M371.6 343.4 H379.1" stroke="#000" stroke-width="0.9"/><path d="M392.6 264.3 V258 Q392.6 256.2 394.4 256.2 H402 Q403.8 256.2 403.8 258 V264.3 M398.2 257.5 V264.3 M407.6 264.3 V258 Q407.6 256.2 409.4 256.2 H414.5 Q416.3 256.2 416.3 258 V258.8 Q416.3 260.2 414.5 260.2 H408 M430.8 256.2 H420.5 Q418.8 256.2 418.8 258 V258.5 Q418.8 260.2 420.5 260.2 H429.2 Q431 260.2 431 262 V262.8 Q431 264.3 429.2 264.3 H413.5" fill="none" stroke="#000" stroke-width="3.1" stroke-linejoin="round" stroke-linecap="square"/><path d="M392.6 264.3 V258 Q392.6 256.2 394.4 256.2 H402 Q403.8 256.2 403.8 258 V264.3 M398.2 257.5 V264.3 M407.6 264.3 V258 Q407.6 256.2 409.4 256.2 H414.5 Q416.3 256.2 416.3 258 V258.8 Q416.3 260.2 414.5 260.2 H408 M430.8 256.2 H420.5 Q418.8 256.2 418.8 258 V258.5 Q418.8 260.2 420.5 260.2 H429.2 Q431 260.2 431 262 V262.8 Q431 264.3 429.2 264.3 H413.5" fill="none" stroke="#fff" stroke-width="1.3" stroke-linejoin="round" stroke-linecap="butt"/><text class="sk" x="390.9" y="277.4" font-size="8.4" textLength="97.5" lengthAdjust="spacingAndGlyphs" style="stroke-width:0.12px">Monolithic Power Systems</text><text class="sk" x="390.9" y="287.8" font-size="8.4" textLength="86.0" lengthAdjust="spacingAndGlyphs" style="stroke-width:0.12px">MPQ6528 Demo Board</text><text class="sk" x="390.9" y="299.0" font-size="8.4" textLength="65.9" lengthAdjust="spacingAndGlyphs" style="stroke-width:0.12px">EVQ6528-V-00A</text><text class="sk" x="390.9" y="309.3" font-size="8.4" textLength="94.1" lengthAdjust="spacingAndGlyphs" style="stroke-width:0.12px">www.monolithicpower.com</text>
</svg></body></html>
